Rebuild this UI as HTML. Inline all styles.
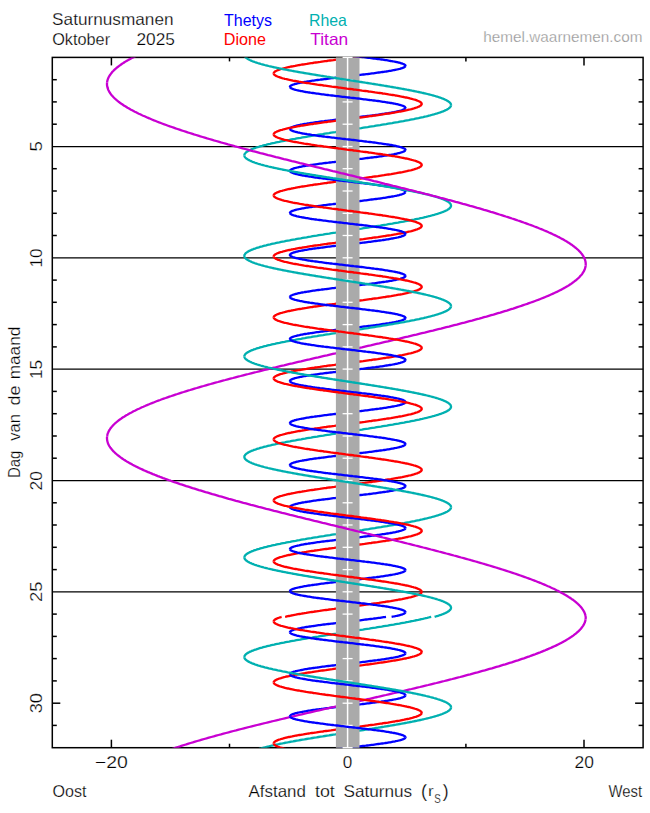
<!DOCTYPE html><html><head><meta charset="utf-8"><style>html,body{margin:0;padding:0;background:#fff;}svg{display:block;}</style></head><body><svg width="650" height="813" viewBox="0 0 650 813">
<defs><clipPath id="cp"><rect x="52.3" y="57.4" width="590.8" height="690.3"/></clipPath></defs>
<rect width="650" height="813" fill="#fff"/>
<g stroke="#000" stroke-width="1.5" fill="none">
<rect x="52.3" y="57.4" width="590.8" height="690.3"/>
<line stroke-width="1.25" x1="52.3" y1="146.5" x2="643.1" y2="146.5"/>
<line stroke-width="1.25" x1="52.3" y1="257.8" x2="643.1" y2="257.8"/>
<line stroke-width="1.25" x1="52.3" y1="369.1" x2="643.1" y2="369.1"/>
<line stroke-width="1.25" x1="52.3" y1="480.5" x2="643.1" y2="480.5"/>
<line stroke-width="1.25" x1="52.3" y1="591.8" x2="643.1" y2="591.8"/>
<line x1="52.3" y1="703.2" x2="60.3" y2="703.2"/>
<line x1="635.1" y1="703.2" x2="643.1" y2="703.2"/>
<line x1="52.3" y1="79.7" x2="56.8" y2="79.7"/>
<line x1="638.6" y1="79.7" x2="643.1" y2="79.7"/>
<line x1="52.3" y1="101.9" x2="56.8" y2="101.9"/>
<line x1="638.6" y1="101.9" x2="643.1" y2="101.9"/>
<line x1="52.3" y1="124.2" x2="56.8" y2="124.2"/>
<line x1="638.6" y1="124.2" x2="643.1" y2="124.2"/>
<line x1="52.3" y1="168.7" x2="56.8" y2="168.7"/>
<line x1="638.6" y1="168.7" x2="643.1" y2="168.7"/>
<line x1="52.3" y1="191.0" x2="56.8" y2="191.0"/>
<line x1="638.6" y1="191.0" x2="643.1" y2="191.0"/>
<line x1="52.3" y1="213.3" x2="56.8" y2="213.3"/>
<line x1="638.6" y1="213.3" x2="643.1" y2="213.3"/>
<line x1="52.3" y1="235.5" x2="56.8" y2="235.5"/>
<line x1="638.6" y1="235.5" x2="643.1" y2="235.5"/>
<line x1="52.3" y1="280.1" x2="56.8" y2="280.1"/>
<line x1="638.6" y1="280.1" x2="643.1" y2="280.1"/>
<line x1="52.3" y1="302.3" x2="56.8" y2="302.3"/>
<line x1="638.6" y1="302.3" x2="643.1" y2="302.3"/>
<line x1="52.3" y1="324.6" x2="56.8" y2="324.6"/>
<line x1="638.6" y1="324.6" x2="643.1" y2="324.6"/>
<line x1="52.3" y1="346.9" x2="56.8" y2="346.9"/>
<line x1="638.6" y1="346.9" x2="643.1" y2="346.9"/>
<line x1="52.3" y1="391.4" x2="56.8" y2="391.4"/>
<line x1="638.6" y1="391.4" x2="643.1" y2="391.4"/>
<line x1="52.3" y1="413.7" x2="56.8" y2="413.7"/>
<line x1="638.6" y1="413.7" x2="643.1" y2="413.7"/>
<line x1="52.3" y1="436.0" x2="56.8" y2="436.0"/>
<line x1="638.6" y1="436.0" x2="643.1" y2="436.0"/>
<line x1="52.3" y1="458.2" x2="56.8" y2="458.2"/>
<line x1="638.6" y1="458.2" x2="643.1" y2="458.2"/>
<line x1="52.3" y1="502.8" x2="56.8" y2="502.8"/>
<line x1="638.6" y1="502.8" x2="643.1" y2="502.8"/>
<line x1="52.3" y1="525.0" x2="56.8" y2="525.0"/>
<line x1="638.6" y1="525.0" x2="643.1" y2="525.0"/>
<line x1="52.3" y1="547.3" x2="56.8" y2="547.3"/>
<line x1="638.6" y1="547.3" x2="643.1" y2="547.3"/>
<line x1="52.3" y1="569.6" x2="56.8" y2="569.6"/>
<line x1="638.6" y1="569.6" x2="643.1" y2="569.6"/>
<line x1="52.3" y1="614.1" x2="56.8" y2="614.1"/>
<line x1="638.6" y1="614.1" x2="643.1" y2="614.1"/>
<line x1="52.3" y1="636.4" x2="56.8" y2="636.4"/>
<line x1="638.6" y1="636.4" x2="643.1" y2="636.4"/>
<line x1="52.3" y1="658.6" x2="56.8" y2="658.6"/>
<line x1="638.6" y1="658.6" x2="643.1" y2="658.6"/>
<line x1="52.3" y1="680.9" x2="56.8" y2="680.9"/>
<line x1="638.6" y1="680.9" x2="643.1" y2="680.9"/>
<line x1="52.3" y1="725.4" x2="56.8" y2="725.4"/>
<line x1="638.6" y1="725.4" x2="643.1" y2="725.4"/>
<line x1="111.4" y1="57.4" x2="111.4" y2="65.4"/>
<line x1="111.4" y1="739.7" x2="111.4" y2="747.7"/>
<line x1="229.5" y1="57.4" x2="229.5" y2="61.4"/>
<line x1="229.5" y1="743.7" x2="229.5" y2="747.7"/>
<line x1="347.7" y1="57.4" x2="347.7" y2="65.4"/>
<line x1="347.7" y1="739.7" x2="347.7" y2="747.7"/>
<line x1="465.9" y1="57.4" x2="465.9" y2="61.4"/>
<line x1="465.9" y1="743.7" x2="465.9" y2="747.7"/>
<line x1="584.0" y1="57.4" x2="584.0" y2="65.4"/>
<line x1="584.0" y1="739.7" x2="584.0" y2="747.7"/>
</g>
<g clip-path="url(#cp)" stroke-width="2.3" stroke-linejoin="round" stroke-linecap="butt">
<polyline fill="none" stroke="#0000ff" points="405.5,65.9 405.4,66.1 405.3,66.3 405.2,66.5 405.0,66.7 404.8,66.8 404.6,67.0 404.3,67.2 403.9,67.4 403.6,67.6 403.2,67.7 402.7,67.9 402.2,68.1 401.7,68.3 401.1,68.4 400.5,68.6 399.9,68.8 399.2,69.0 398.5,69.2 397.7,69.3 397.0,69.5 396.1,69.7 395.3,69.9 394.4,70.0 393.5,70.2 392.5,70.4 391.5,70.6 390.5,70.8 389.5,70.9 388.4,71.1 387.3,71.3 386.1,71.5 385.0,71.6 383.8,71.8 382.6,72.0 381.3,72.2 380.1,72.4 378.8,72.5 377.5,72.7 376.1,72.9 374.8,73.1 373.4,73.3 372.0,73.4 370.6,73.6 369.2,73.8 367.8,74.0 366.3,74.1 364.9,74.3 363.4,74.5 361.9,74.7 360.4,74.9 358.9,75.0 357.4,75.2 355.9,75.4 354.3,75.6 352.8,75.7 351.3,75.9 349.7,76.1 348.2,76.3 346.7,76.5 345.1,76.6 343.6,76.8 342.1,77.0 340.5,77.2 339.0,77.3 337.5,77.5 336.0,77.7 334.5,77.9 333.0,78.1 331.5,78.2 330.0,78.4 328.6,78.6 327.1,78.8 325.7,79.0 324.3,79.1 322.9,79.3 321.5,79.5 320.1,79.7 318.8,79.8 317.5,80.0 316.2,80.2 314.9,80.4 313.7,80.6 312.4,80.7 311.2,80.9 310.0,81.1 308.9,81.3 307.8,81.4 306.7,81.6 305.6,81.8 304.6,82.0 303.5,82.2 302.6,82.3 301.6,82.5 300.7,82.7 299.8,82.9 299.0,83.0 298.2,83.2 297.4,83.4 296.7,83.6 296.0,83.8 295.3,83.9 294.7,84.1 294.1,84.3 293.5,84.5 293.0,84.7 292.5,84.8 292.1,85.0 291.7,85.2 291.3,85.4 291.0,85.5 290.7,85.7 290.5,85.9 290.3,86.1 290.2,86.3 290.0,86.4 290.0,86.6 289.9,86.8 289.9,87.0"/>
<polyline fill="none" stroke="#0000ff" points="405.5,108.0 405.4,108.2 405.3,108.3 405.2,108.5 405.0,108.7 404.8,108.9 404.5,109.1 404.3,109.2 403.9,109.4 403.5,109.6 403.1,109.8 402.7,109.9 402.2,110.1 401.7,110.3 401.1,110.5 400.5,110.7 399.8,110.8 399.2,111.0 398.4,111.2 397.7,111.4 396.9,111.5 396.1,111.7 395.2,111.9 394.3,112.1 393.4,112.3 392.4,112.4 391.4,112.6 390.4,112.8 389.4,113.0 388.3,113.2 387.2,113.3 386.1,113.5 384.9,113.7 383.7,113.9 382.5,114.0 381.2,114.2 380.0,114.4 378.7,114.6 377.4,114.8 376.0,114.9 374.7,115.1 373.3,115.3 371.9,115.5 370.5,115.6 369.1,115.8 367.7,116.0 366.2,116.2 364.8,116.4 363.3,116.5 361.8,116.7 360.3,116.9 358.8,117.1 357.3,117.2 355.8,117.4 354.2,117.6 352.7,117.8 351.2,118.0 349.6,118.1 348.1,118.3 346.6,118.5 345.0,118.7 343.5,118.9 342.0,119.0 340.4,119.2 338.9,119.4 337.4,119.6 335.9,119.7 334.4,119.9 332.9,120.1 331.4,120.3 329.9,120.5 328.5,120.6 327.0,120.8 325.6,121.0 324.2,121.2 322.8,121.3 321.4,121.5 320.1,121.7 318.7,121.9 317.4,122.1 316.1,122.2 314.8,122.4 313.6,122.6 312.3,122.8 311.1,122.9 310.0,123.1 308.8,123.3 307.7,123.5 306.6,123.7 305.5,123.8 304.5,124.0 303.5,124.2 302.5,124.4 301.6,124.6 300.6,124.7 299.8,124.9 298.9,125.1 298.1,125.3 297.4,125.4 296.6,125.6 295.9,125.8 295.3,126.0 294.6,126.2 294.0,126.3 293.5,126.5 293.0,126.7 292.5,126.9 292.1,127.0 291.7,127.2 291.3,127.4 291.0,127.6 290.7,127.8 290.5,127.9 290.3,128.1 290.1,128.3 290.0,128.5 290.0,128.6 289.9,128.8 289.9,129.0"/>
<polyline fill="none" stroke="#0000ff" points="405.5,150.0 405.4,150.2 405.3,150.4 405.2,150.6 405.0,150.7 404.8,150.9 404.5,151.1 404.2,151.3 403.9,151.4 403.5,151.6 403.1,151.8 402.6,152.0 402.1,152.2 401.6,152.3 401.0,152.5 400.4,152.7 399.8,152.9 399.1,153.1 398.4,153.2 397.6,153.4 396.8,153.6 396.0,153.8 395.1,153.9 394.3,154.1 393.3,154.3 392.4,154.5 391.4,154.7 390.4,154.8 389.3,155.0 388.2,155.2 387.1,155.4 386.0,155.5 384.8,155.7 383.6,155.9 382.4,156.1 381.1,156.3 379.9,156.4 378.6,156.6 377.3,156.8 376.0,157.0 374.6,157.1 373.2,157.3 371.8,157.5 370.4,157.7 369.0,157.9 367.6,158.0 366.1,158.2 364.7,158.4 363.2,158.6 361.7,158.8 360.2,158.9 358.7,159.1 357.2,159.3 355.7,159.5 354.1,159.6 352.6,159.8 351.1,160.0 349.5,160.2 348.0,160.4 346.4,160.5 344.9,160.7 343.4,160.9 341.8,161.1 340.3,161.2 338.8,161.4 337.3,161.6 335.8,161.8 334.3,162.0 332.8,162.1 331.3,162.3 329.8,162.5 328.4,162.7 326.9,162.8 325.5,163.0 324.1,163.2 322.7,163.4 321.3,163.6 320.0,163.7 318.6,163.9 317.3,164.1 316.0,164.3 314.7,164.5 313.5,164.6 312.2,164.8 311.0,165.0 309.9,165.2 308.7,165.3 307.6,165.5 306.5,165.7 305.4,165.9 304.4,166.1 303.4,166.2 302.4,166.4 301.5,166.6 300.6,166.8 299.7,166.9 298.9,167.1 298.1,167.3 297.3,167.5 296.6,167.7 295.9,167.8 295.2,168.0 294.6,168.2 294.0,168.4 293.4,168.5 292.9,168.7 292.5,168.9 292.0,169.1 291.6,169.3 291.3,169.4 291.0,169.6 290.7,169.8 290.5,170.0 290.3,170.1 290.1,170.3 290.0,170.5 290.0,170.7 289.9,170.9 289.9,171.0"/>
<polyline fill="none" stroke="#0000ff" points="405.5,192.1 405.4,192.2 405.3,192.4 405.2,192.6 405.0,192.8 404.8,192.9 404.5,193.1 404.2,193.3 403.9,193.5 403.5,193.7 403.1,193.8 402.6,194.0 402.1,194.2 401.6,194.4 401.0,194.6 400.4,194.7 399.7,194.9 399.1,195.1 398.3,195.3 397.6,195.4 396.8,195.6 395.9,195.8 395.1,196.0 394.2,196.2 393.3,196.3 392.3,196.5 391.3,196.7 390.3,196.9 389.2,197.0 388.1,197.2 387.0,197.4 385.9,197.6 384.7,197.8 383.5,197.9 382.3,198.1 381.1,198.3 379.8,198.5 378.5,198.6 377.2,198.8 375.9,199.0 374.5,199.2 373.1,199.4 371.7,199.5 370.3,199.7 368.9,199.9 367.5,200.1 366.0,200.3 364.6,200.4 363.1,200.6 361.6,200.8 360.1,201.0 358.6,201.1 357.1,201.3 355.5,201.5 354.0,201.7 352.5,201.9 351.0,202.0 349.4,202.2 347.9,202.4 346.3,202.6 344.8,202.7 343.3,202.9 341.7,203.1 340.2,203.3 338.7,203.5 337.2,203.6 335.7,203.8 334.2,204.0 332.7,204.2 331.2,204.3 329.7,204.5 328.3,204.7 326.8,204.9 325.4,205.1 324.0,205.2 322.6,205.4 321.2,205.6 319.9,205.8 318.5,206.0 317.2,206.1 315.9,206.3 314.6,206.5 313.4,206.7 312.2,206.8 311.0,207.0 309.8,207.2 308.6,207.4 307.5,207.6 306.4,207.7 305.4,207.9 304.3,208.1 303.3,208.3 302.4,208.4 301.4,208.6 300.5,208.8 299.6,209.0 298.8,209.2 298.0,209.3 297.2,209.5 296.5,209.7 295.8,209.9 295.2,210.0 294.5,210.2 294.0,210.4 293.4,210.6 292.9,210.8 292.4,210.9 292.0,211.1 291.6,211.3 291.3,211.5 291.0,211.7 290.7,211.8 290.5,212.0 290.3,212.2 290.1,212.4 290.0,212.5 290.0,212.7 289.9,212.9 289.9,213.1"/>
<polyline fill="none" stroke="#0000ff" points="405.5,234.1 405.4,234.3 405.3,234.5 405.2,234.6 405.0,234.8 404.7,235.0 404.5,235.2 404.2,235.3 403.8,235.5 403.5,235.7 403.0,235.9 402.6,236.1 402.1,236.2 401.5,236.4 401.0,236.6 400.3,236.8 399.7,236.9 399.0,237.1 398.3,237.3 397.5,237.5 396.7,237.7 395.9,237.8 395.0,238.0 394.1,238.2 393.2,238.4 392.2,238.5 391.2,238.7 390.2,238.9 389.1,239.1 388.1,239.3 386.9,239.4 385.8,239.6 384.6,239.8 383.4,240.0 382.2,240.2 381.0,240.3 379.7,240.5 378.4,240.7 377.1,240.9 375.8,241.0 374.4,241.2 373.0,241.4 371.6,241.6 370.2,241.8 368.8,241.9 367.4,242.1 365.9,242.3 364.4,242.5 363.0,242.6 361.5,242.8 360.0,243.0 358.5,243.2 357.0,243.4 355.4,243.5 353.9,243.7 352.4,243.9 350.8,244.1 349.3,244.2 347.8,244.4 346.2,244.6 344.7,244.8 343.2,245.0 341.6,245.1 340.1,245.3 338.6,245.5 337.1,245.7 335.5,245.9 334.0,246.0 332.6,246.2 331.1,246.4 329.6,246.6 328.2,246.7 326.7,246.9 325.3,247.1 323.9,247.3 322.5,247.5 321.1,247.6 319.8,247.8 318.4,248.0 317.1,248.2 315.8,248.3 314.5,248.5 313.3,248.7 312.1,248.9 310.9,249.1 309.7,249.2 308.6,249.4 307.4,249.6 306.3,249.8 305.3,249.9 304.3,250.1 303.3,250.3 302.3,250.5 301.4,250.7 300.5,250.8 299.6,251.0 298.8,251.2 298.0,251.4 297.2,251.6 296.5,251.7 295.8,251.9 295.1,252.1 294.5,252.3 293.9,252.4 293.4,252.6 292.9,252.8 292.4,253.0 292.0,253.2 291.6,253.3 291.2,253.5 290.9,253.7 290.7,253.9 290.4,254.0 290.3,254.2 290.1,254.4 290.0,254.6 290.0,254.8 289.9,254.9 290.0,255.1"/>
<polyline fill="none" stroke="#0000ff" points="405.5,276.0 405.4,276.1 405.4,276.3 405.3,276.5 405.1,276.7 405.0,276.8 404.7,277.0 404.5,277.2 404.2,277.4 403.8,277.6 403.4,277.7 403.0,277.9 402.5,278.1 402.0,278.3 401.5,278.4 400.9,278.6 400.3,278.8 399.6,279.0 398.9,279.2 398.2,279.3 397.5,279.5 396.7,279.7 395.8,279.9 395.0,280.1 394.1,280.2 393.1,280.4 392.2,280.6 391.2,280.8 390.1,280.9 389.1,281.1 388.0,281.3 386.9,281.5 385.7,281.7 384.5,281.8 383.3,282.0 382.1,282.2 380.9,282.4 379.6,282.5 378.3,282.7 377.0,282.9 375.7,283.1 374.3,283.3 372.9,283.4 371.5,283.6 370.1,283.8 368.7,284.0 367.3,284.1 365.8,284.3 364.3,284.5 362.9,284.7 361.4,284.9 359.9,285.0 358.4,285.2 356.8,285.4 355.3,285.6 353.8,285.8 352.3,285.9 350.7,286.1 349.2,286.3 347.7,286.5 346.1,286.6 344.6,286.8 343.0,287.0 341.5,287.2 340.0,287.4 338.5,287.5 336.9,287.7 335.4,287.9 333.9,288.1 332.5,288.2 331.0,288.4 329.5,288.6 328.1,288.8 326.6,289.0 325.2,289.1 323.8,289.3 322.4,289.5 321.0,289.7 319.7,289.8 318.3,290.0 317.0,290.2 315.7,290.4 314.4,290.6 313.2,290.7 312.0,290.9 310.8,291.1 309.6,291.3 308.5,291.5 307.4,291.6 306.3,291.8 305.2,292.0 304.2,292.2 303.2,292.3 302.2,292.5 301.3,292.7 300.4,292.9 299.5,293.1 298.7,293.2 297.9,293.4 297.1,293.6 296.4,293.8 295.7,293.9 295.1,294.1 294.5,294.3 293.9,294.5 293.3,294.7 292.8,294.8 292.4,295.0 291.9,295.2 291.6,295.4 291.2,295.5 290.9,295.7 290.7,295.9 290.4,296.1 290.3,296.3 290.1,296.4 290.0,296.6 290.0,296.8 289.9,297.0"/>
<polyline fill="none" stroke="#0000ff" points="405.5,318.0 405.4,318.2 405.4,318.3 405.3,318.5 405.1,318.7 404.9,318.9 404.7,319.1 404.4,319.2 404.1,319.4 403.8,319.6 403.4,319.8 403.0,319.9 402.5,320.1 402.0,320.3 401.5,320.5 400.9,320.7 400.2,320.8 399.6,321.0 398.9,321.2 398.2,321.4 397.4,321.6 396.6,321.7 395.8,321.9 394.9,322.1 394.0,322.3 393.1,322.4 392.1,322.6 391.1,322.8 390.0,323.0 389.0,323.2 387.9,323.3 386.8,323.5 385.6,323.7 384.5,323.9 383.3,324.0 382.0,324.2 380.8,324.4 379.5,324.6 378.2,324.8 376.9,324.9 375.6,325.1 374.2,325.3 372.8,325.5 371.4,325.6 370.0,325.8 368.6,326.0 367.2,326.2 365.7,326.4 364.2,326.5 362.8,326.7 361.3,326.9 359.8,327.1 358.3,327.3 356.7,327.4 355.2,327.6 353.7,327.8 352.2,328.0 350.6,328.1 349.1,328.3 347.5,328.5 346.0,328.7 344.5,328.9 342.9,329.0 341.4,329.2 339.9,329.4 338.4,329.6 336.8,329.7 335.3,329.9 333.8,330.1 332.3,330.3 330.9,330.5 329.4,330.6 327.9,330.8 326.5,331.0 325.1,331.2 323.7,331.3 322.3,331.5 320.9,331.7 319.6,331.9 318.2,332.1 316.9,332.2 315.6,332.4 314.4,332.6 313.1,332.8 311.9,333.0 310.7,333.1 309.5,333.3 308.4,333.5 307.3,333.7 306.2,333.8 305.1,334.0 304.1,334.2 303.1,334.4 302.2,334.6 301.2,334.7 300.3,334.9 299.5,335.1 298.6,335.3 297.8,335.4 297.1,335.6 296.4,335.8 295.7,336.0 295.0,336.2 294.4,336.3 293.8,336.5 293.3,336.7 292.8,336.9 292.3,337.0 291.9,337.2 291.5,337.4 291.2,337.6 290.9,337.8 290.6,337.9 290.4,338.1 290.2,338.3 290.1,338.5 290.0,338.7 289.9,338.8 289.9,339.0"/>
<polyline fill="none" stroke="#0000ff" points="405.5,360.0 405.4,360.2 405.4,360.4 405.3,360.6 405.1,360.7 404.9,360.9 404.7,361.1 404.4,361.3 404.1,361.5 403.8,361.6 403.4,361.8 402.9,362.0 402.5,362.2 402.0,362.3 401.4,362.5 400.8,362.7 400.2,362.9 399.5,363.1 398.8,363.2 398.1,363.4 397.3,363.6 396.5,363.8 395.7,363.9 394.8,364.1 393.9,364.3 393.0,364.5 392.0,364.7 391.0,364.8 390.0,365.0 388.9,365.2 387.8,365.4 386.7,365.5 385.5,365.7 384.4,365.9 383.2,366.1 381.9,366.3 380.7,366.4 379.4,366.6 378.1,366.8 376.8,367.0 375.5,367.2 374.1,367.3 372.7,367.5 371.3,367.7 369.9,367.9 368.5,368.0 367.1,368.2 365.6,368.4 364.1,368.6 362.6,368.8 361.2,368.9 359.7,369.1 358.1,369.3 356.6,369.5 355.1,369.6 353.6,369.8 352.0,370.0 350.5,370.2 349.0,370.4 347.4,370.5 345.9,370.7 344.4,370.9 342.8,371.1 341.3,371.2 339.8,371.4 338.2,371.6 336.7,371.8 335.2,372.0 333.7,372.1 332.2,372.3 330.8,372.5 329.3,372.7 327.8,372.9 326.4,373.0 325.0,373.2 323.6,373.4 322.2,373.6 320.8,373.7 319.5,373.9 318.1,374.1 316.8,374.3 315.5,374.5 314.3,374.6 313.0,374.8 311.8,375.0 310.6,375.2 309.4,375.3 308.3,375.5 307.2,375.7 306.1,375.9 305.1,376.1 304.0,376.2 303.0,376.4 302.1,376.6 301.2,376.8 300.3,376.9 299.4,377.1 298.6,377.3 297.8,377.5 297.0,377.7 296.3,377.8 295.6,378.0 295.0,378.2 294.4,378.4 293.8,378.6 293.3,378.7 292.8,378.9 292.3,379.1 291.9,379.3 291.5,379.4 291.2,379.6 290.9,379.8 290.6,380.0 290.4,380.2 290.2,380.3 290.1,380.5 290.0,380.7 289.9,380.9 289.9,381.0"/>
<polyline fill="none" stroke="#0000ff" points="405.5,402.1 405.4,402.2 405.4,402.4 405.3,402.6 405.1,402.8 404.9,403.0 404.7,403.1 404.4,403.3 404.1,403.5 403.7,403.7 403.3,403.8 402.9,404.0 402.4,404.2 401.9,404.4 401.4,404.6 400.8,404.7 400.2,404.9 399.5,405.1 398.8,405.3 398.1,405.4 397.3,405.6 396.5,405.8 395.6,406.0 394.8,406.2 393.9,406.3 392.9,406.5 391.9,406.7 390.9,406.9 389.9,407.1 388.8,407.2 387.7,407.4 386.6,407.6 385.5,407.8 384.3,407.9 383.1,408.1 381.9,408.3 380.6,408.5 379.3,408.7 378.0,408.8 376.7,409.0 375.4,409.2 374.0,409.4 372.6,409.5 371.2,409.7 369.8,409.9 368.4,410.1 366.9,410.3 365.5,410.4 364.0,410.6 362.5,410.8 361.0,411.0 359.5,411.1 358.0,411.3 356.5,411.5 355.0,411.7 353.5,411.9 351.9,412.0 350.4,412.2 348.9,412.4 347.3,412.6 345.8,412.8 344.2,412.9 342.7,413.1 341.2,413.3 339.7,413.5 338.1,413.6 336.6,413.8 335.1,414.0 333.6,414.2 332.1,414.4 330.7,414.5 329.2,414.7 327.7,414.9 326.3,415.1 324.9,415.2 323.5,415.4 322.1,415.6 320.7,415.8 319.4,416.0 318.0,416.1 316.7,416.3 315.4,416.5 314.2,416.7 312.9,416.8 311.7,417.0 310.5,417.2 309.4,417.4 308.2,417.6 307.1,417.7 306.0,417.9 305.0,418.1 304.0,418.3 303.0,418.5 302.0,418.6 301.1,418.8 300.2,419.0 299.3,419.2 298.5,419.3 297.7,419.5 297.0,419.7 296.3,419.9 295.6,420.1 294.9,420.2 294.3,420.4 293.8,420.6 293.2,420.8 292.7,420.9 292.3,421.1 291.9,421.3 291.5,421.5 291.2,421.7 290.9,421.8 290.6,422.0 290.4,422.2 290.2,422.4 290.1,422.5 290.0,422.7 289.9,422.9 289.9,423.1"/>
<polyline fill="none" stroke="#0000ff" points="405.5,444.1 405.4,444.3 405.4,444.5 405.2,444.6 405.1,444.8 404.9,445.0 404.7,445.2 404.4,445.3 404.1,445.5 403.7,445.7 403.3,445.9 402.9,446.1 402.4,446.2 401.9,446.4 401.3,446.6 400.7,446.8 400.1,446.9 399.4,447.1 398.7,447.3 398.0,447.5 397.2,447.7 396.4,447.8 395.6,448.0 394.7,448.2 393.8,448.4 392.8,448.6 391.9,448.7 390.9,448.9 389.8,449.1 388.8,449.3 387.7,449.4 386.5,449.6 385.4,449.8 384.2,450.0 383.0,450.2 381.8,450.3 380.5,450.5 379.2,450.7 377.9,450.9 376.6,451.0 375.3,451.2 373.9,451.4 372.5,451.6 371.1,451.8 369.7,451.9 368.3,452.1 366.8,452.3 365.4,452.5 363.9,452.6 362.4,452.8 360.9,453.0 359.4,453.2 357.9,453.4 356.4,453.5 354.9,453.7 353.4,453.9 351.8,454.1 350.3,454.3 348.7,454.4 347.2,454.6 345.7,454.8 344.1,455.0 342.6,455.1 341.1,455.3 339.5,455.5 338.0,455.7 336.5,455.9 335.0,456.0 333.5,456.2 332.0,456.4 330.5,456.6 329.1,456.7 327.6,456.9 326.2,457.1 324.8,457.3 323.4,457.5 322.0,457.6 320.6,457.8 319.3,458.0 317.9,458.2 316.6,458.3 315.3,458.5 314.1,458.7 312.8,458.9 311.6,459.1 310.4,459.2 309.3,459.4 308.1,459.6 307.0,459.8 306.0,460.0 304.9,460.1 303.9,460.3 302.9,460.5 302.0,460.7 301.0,460.8 300.1,461.0 299.3,461.2 298.5,461.4 297.7,461.6 296.9,461.7 296.2,461.9 295.5,462.1 294.9,462.3 294.3,462.4 293.7,462.6 293.2,462.8 292.7,463.0 292.2,463.2 291.8,463.3 291.5,463.5 291.1,463.7 290.8,463.9 290.6,464.0 290.4,464.2 290.2,464.4 290.1,464.6 290.0,464.8 289.9,464.9 289.9,465.1"/>
<polyline fill="none" stroke="#0000ff" points="405.5,486.1 405.4,486.3 405.4,486.5 405.2,486.7 405.1,486.8 404.9,487.0 404.6,487.2 404.4,487.4 404.0,487.6 403.7,487.7 403.3,487.9 402.8,488.1 402.4,488.3 401.8,488.5 401.3,488.6 400.7,488.8 400.1,489.0 399.4,489.2 398.7,489.3 397.9,489.5 397.2,489.7 396.4,489.9 395.5,490.1 394.6,490.2 393.7,490.4 392.8,490.6 391.8,490.8 390.8,490.9 389.7,491.1 388.7,491.3 387.6,491.5 386.5,491.7 385.3,491.8 384.1,492.0 382.9,492.2 381.7,492.4 380.4,492.5 379.1,492.7 377.8,492.9 376.5,493.1 375.2,493.3 373.8,493.4 372.4,493.6 371.0,493.8 369.6,494.0 368.2,494.2 366.7,494.3 365.3,494.5 363.8,494.7 362.3,494.9 360.8,495.0 359.3,495.2 357.8,495.4 356.3,495.6 354.8,495.8 353.2,495.9 351.7,496.1 350.2,496.3 348.6,496.5 347.1,496.6 345.6,496.8 344.0,497.0 342.5,497.2 341.0,497.4 339.4,497.5 337.9,497.7 336.4,497.9 334.9,498.1 333.4,498.2 331.9,498.4 330.4,498.6 329.0,498.8 327.5,499.0 326.1,499.1 324.7,499.3 323.3,499.5 321.9,499.7 320.5,499.9 319.2,500.0 317.8,500.2 316.5,500.4 315.3,500.6 314.0,500.7 312.8,500.9 311.5,501.1 310.4,501.3 309.2,501.5 308.1,501.6 307.0,501.8 305.9,502.0 304.8,502.2 303.8,502.3 302.8,502.5 301.9,502.7 301.0,502.9 300.1,503.1 299.2,503.2 298.4,503.4 297.6,503.6 296.9,503.8 296.2,503.9 295.5,504.1 294.8,504.3 294.2,504.5 293.7,504.7 293.1,504.8 292.7,505.0 292.2,505.2 291.8,505.4 291.4,505.6 291.1,505.7 290.8,505.9 290.6,506.1 290.4,506.3 290.2,506.4 290.1,506.6 290.0,506.8 289.9,507.0 289.9,507.2"/>
<polyline fill="none" stroke="#0000ff" points="405.5,528.2 405.4,528.4 405.3,528.5 405.2,528.7 405.1,528.9 404.9,529.1 404.6,529.2 404.3,529.4 404.0,529.6 403.7,529.8 403.2,530.0 402.8,530.1 402.3,530.3 401.8,530.5 401.2,530.7 400.6,530.8 400.0,531.0 399.3,531.2 398.6,531.4 397.9,531.6 397.1,531.7 396.3,531.9 395.5,532.1 394.6,532.3 393.7,532.4 392.7,532.6 391.7,532.8 390.7,533.0 389.7,533.2 388.6,533.3 387.5,533.5 386.4,533.7 385.2,533.9 384.0,534.1 382.8,534.2 381.6,534.4 380.3,534.6 379.0,534.8 377.7,534.9 376.4,535.1 375.1,535.3 373.7,535.5 372.3,535.7 370.9,535.8 369.5,536.0 368.1,536.2 366.6,536.4 365.2,536.5 363.7,536.7 362.2,536.9 360.7,537.1 359.2,537.3 357.7,537.4 356.2,537.6 354.7,537.8 353.1,538.0 351.6,538.1 350.1,538.3 348.5,538.5 347.0,538.7 345.4,538.9 343.9,539.0 342.4,539.2 340.8,539.4 339.3,539.6 337.8,539.8 336.3,539.9 334.8,540.1 333.3,540.3 331.8,540.5 330.3,540.6 328.9,540.8 327.4,541.0 326.0,541.2 324.6,541.4 323.2,541.5 321.8,541.7 320.4,541.9 319.1,542.1 317.8,542.2 316.4,542.4 315.2,542.6 313.9,542.8 312.7,543.0 311.5,543.1 310.3,543.3 309.1,543.5 308.0,543.7 306.9,543.8 305.8,544.0 304.8,544.2 303.7,544.4 302.8,544.6 301.8,544.7 300.9,544.9 300.0,545.1 299.2,545.3 298.3,545.5 297.6,545.6 296.8,545.8 296.1,546.0 295.4,546.2 294.8,546.3 294.2,546.5 293.6,546.7 293.1,546.9 292.6,547.1 292.2,547.2 291.8,547.4 291.4,547.6 291.1,547.8 290.8,547.9 290.6,548.1 290.3,548.3 290.2,548.5 290.1,548.7 290.0,548.8 289.9,549.0 289.9,549.2"/>
<polyline fill="none" stroke="#0000ff" points="405.5,570.2 405.4,570.4 405.3,570.6 405.2,570.7 405.1,570.9 404.8,571.1 404.6,571.3 404.3,571.5 404.0,571.6 403.6,571.8 403.2,572.0 402.8,572.2 402.3,572.3 401.8,572.5 401.2,572.7 400.6,572.9 400.0,573.1 399.3,573.2 398.6,573.4 397.8,573.6 397.1,573.8 396.2,573.9 395.4,574.1 394.5,574.3 393.6,574.5 392.6,574.7 391.7,574.8 390.6,575.0 389.6,575.2 388.5,575.4 387.4,575.6 386.3,575.7 385.1,575.9 383.9,576.1 382.7,576.3 381.5,576.4 380.2,576.6 379.0,576.8 377.6,577.0 376.3,577.2 375.0,577.3 373.6,577.5 372.2,577.7 370.8,577.9 369.4,578.0 368.0,578.2 366.5,578.4 365.1,578.6 363.6,578.8 362.1,578.9 360.6,579.1 359.1,579.3 357.6,579.5 356.1,579.6 354.6,579.8 353.0,580.0 351.5,580.2 350.0,580.4 348.4,580.5 346.9,580.7 345.3,580.9 343.8,581.1 342.3,581.3 340.7,581.4 339.2,581.6 337.7,581.8 336.2,582.0 334.7,582.1 333.2,582.3 331.7,582.5 330.2,582.7 328.8,582.9 327.3,583.0 325.9,583.2 324.5,583.4 323.1,583.6 321.7,583.7 320.3,583.9 319.0,584.1 317.7,584.3 316.4,584.5 315.1,584.6 313.8,584.8 312.6,585.0 311.4,585.2 310.2,585.3 309.0,585.5 307.9,585.7 306.8,585.9 305.7,586.1 304.7,586.2 303.7,586.4 302.7,586.6 301.7,586.8 300.8,587.0 299.9,587.1 299.1,587.3 298.3,587.5 297.5,587.7 296.8,587.8 296.1,588.0 295.4,588.2 294.8,588.4 294.2,588.6 293.6,588.7 293.1,588.9 292.6,589.1 292.2,589.3 291.7,589.4 291.4,589.6 291.1,589.8 290.8,590.0 290.5,590.2 290.3,590.3 290.2,590.5 290.1,590.7 290.0,590.9 289.9,591.0 289.9,591.2"/>
<polyline fill="none" stroke="#0000ff" points="405.5,612.2 405.4,612.4 405.3,612.6 405.2,612.8 405.0,613.0 404.8,613.1 404.6,613.3 404.3,613.5 404.0,613.7 403.6,613.8 403.2,614.0 402.7,614.2 402.3,614.4 401.7,614.6 401.2,614.7 400.6,614.9 399.9,615.1 399.2,615.3 398.5,615.5 397.8,615.6 397.0,615.8 396.2,616.0 395.3,616.2 394.4,616.3 393.5,616.5 392.6,616.7 391.6,616.9"/>
<polyline fill="none" stroke="#0000ff" points="386.0,616.9 384.8,617.1 383.6,617.2 382.4,617.4 381.1,617.6 379.9,617.8 378.6,617.9 377.3,618.1 375.9,618.3 374.6,618.5 373.2,618.7 371.8,618.8 370.4,619.0 369.0,619.2 367.6,619.4 366.1,619.5 364.7,619.7 363.2,619.9 361.7,620.1 360.2,620.3 358.7,620.4 357.2,620.6 355.6,620.8 354.1,621.0 352.6,621.2 351.1,621.3 349.5,621.5 348.0,621.7 346.4,621.9 344.9,622.0 343.4,622.2 341.8,622.4 340.3,622.6 338.8,622.8 337.3,622.9 335.8,623.1 334.3,623.3 332.8,623.5 331.3,623.6 329.8,623.8 328.4,624.0 326.9,624.2 325.5,624.4 324.1,624.5 322.7,624.7 321.3,624.9 319.9,625.1 318.6,625.2 317.3,625.4 316.0,625.6 314.7,625.8 313.5,626.0 312.2,626.1 311.0,626.3 309.9,626.5 308.7,626.7 307.6,626.9 306.5,627.0 305.4,627.2 304.4,627.4 303.4,627.6 302.4,627.7 301.5,627.9 300.6,628.1 299.7,628.3 298.9,628.5 298.1,628.6 297.3,628.8 296.6,629.0 295.9,629.2 295.2,629.3 294.6,629.5 294.0,629.7 293.4,629.9 292.9,630.1 292.5,630.2 292.0,630.4 291.6,630.6 291.3,630.8 291.0,630.9 290.7,631.1 290.5,631.3 290.3,631.5 290.1,631.7 290.0,631.8 290.0,632.0 289.9,632.2 289.9,632.4"/>
<polyline fill="none" stroke="#0000ff" points="405.5,653.4 405.4,653.6 405.3,653.7 405.2,653.9 405.0,654.1 404.8,654.3 404.5,654.5 404.2,654.6 403.9,654.8 403.5,655.0 403.1,655.2 402.6,655.3 402.1,655.5 401.6,655.7 401.0,655.9 400.4,656.1 399.7,656.2 399.1,656.4 398.3,656.6 397.6,656.8 396.8,657.0 396.0,657.1 395.1,657.3 394.2,657.5 393.3,657.7 392.3,657.8 391.3,658.0 390.3,658.2 389.2,658.4 388.1,658.6 387.0,658.7 385.9,658.9 384.7,659.1 383.5,659.3 382.3,659.4 381.1,659.6 379.8,659.8 378.5,660.0 377.2,660.2 375.9,660.3 374.5,660.5 373.1,660.7 371.7,660.9 370.3,661.0 368.9,661.2 367.5,661.4 366.0,661.6 364.6,661.8 363.1,661.9 361.6,662.1 360.1,662.3 358.6,662.5 357.1,662.7 355.6,662.8 354.0,663.0 352.5,663.2 351.0,663.4 349.4,663.5 347.9,663.7 346.3,663.9 344.8,664.1 343.3,664.3 341.7,664.4 340.2,664.6 338.7,664.8 337.2,665.0 335.7,665.1 334.2,665.3 332.7,665.5 331.2,665.7 329.7,665.9 328.3,666.0 326.8,666.2 325.4,666.4 324.0,666.6 322.6,666.7 321.2,666.9 319.9,667.1 318.5,667.3 317.2,667.5 315.9,667.6 314.6,667.8 313.4,668.0 312.2,668.2 311.0,668.4 309.8,668.5 308.6,668.7 307.5,668.9 306.4,669.1 305.4,669.2 304.3,669.4 303.3,669.6 302.4,669.8 301.4,670.0 300.5,670.1 299.7,670.3 298.8,670.5 298.0,670.7 297.2,670.8 296.5,671.0 295.8,671.2 295.2,671.4 294.5,671.6 294.0,671.7 293.4,671.9 292.9,672.1 292.4,672.3 292.0,672.4 291.6,672.6 291.3,672.8 291.0,673.0 290.7,673.2 290.5,673.3 290.3,673.5 290.1,673.7 290.0,673.9 290.0,674.1 289.9,674.2 289.9,674.4"/>
<polyline fill="none" stroke="#0000ff" points="405.5,695.4 405.4,695.6 405.3,695.8 405.2,696.0 405.0,696.1 404.8,696.3 404.5,696.5 404.2,696.7 403.8,696.8 403.5,697.0 403.0,697.2 402.6,697.4 402.1,697.6 401.5,697.7 401.0,697.9 400.4,698.1 399.7,698.3 399.0,698.5 398.3,698.6 397.5,698.8 396.7,699.0 395.9,699.2 395.0,699.3 394.1,699.5 393.2,699.7 392.2,699.9 391.2,700.1 390.2,700.2 389.2,700.4 388.1,700.6 387.0,700.8 385.8,700.9 384.6,701.1 383.5,701.3 382.2,701.5 381.0,701.7 379.7,701.8 378.4,702.0 377.1,702.2 375.8,702.4 374.4,702.5 373.1,702.7 371.7,702.9 370.3,703.1 368.8,703.3 367.4,703.4 365.9,703.6 364.5,703.8 363.0,704.0 361.5,704.2 360.0,704.3 358.5,704.5 357.0,704.7 355.5,704.9 353.9,705.0 352.4,705.2 350.9,705.4 349.3,705.6 347.8,705.8 346.3,705.9 344.7,706.1 343.2,706.3 341.6,706.5 340.1,706.6 338.6,706.8 337.1,707.0 335.6,707.2 334.1,707.4 332.6,707.5 331.1,707.7 329.6,707.9 328.2,708.1 326.7,708.2 325.3,708.4 323.9,708.6 322.5,708.8 321.1,709.0 319.8,709.1 318.4,709.3 317.1,709.5 315.8,709.7 314.6,709.9 313.3,710.0 312.1,710.2 310.9,710.4 309.7,710.6 308.6,710.7 307.5,710.9 306.4,711.1 305.3,711.3 304.3,711.5 303.3,711.6 302.3,711.8 301.4,712.0 300.5,712.2 299.6,712.3 298.8,712.5 298.0,712.7 297.2,712.9 296.5,713.1 295.8,713.2 295.1,713.4 294.5,713.6 293.9,713.8 293.4,713.9 292.9,714.1 292.4,714.3 292.0,714.5 291.6,714.7 291.3,714.8 290.9,715.0 290.7,715.2 290.5,715.4 290.3,715.6 290.1,715.7 290.0,715.9 290.0,716.1 289.9,716.3 290.0,716.4"/>
<polyline fill="none" stroke="#0000ff" points="405.4,737.5 405.4,737.6 405.3,737.8 405.1,738.0 405.0,738.2 404.7,738.4 404.5,738.5 404.2,738.7 403.8,738.9 403.4,739.1 403.0,739.2 402.6,739.4 402.0,739.6 401.5,739.8 400.9,740.0 400.3,740.1 399.7,740.3 399.0,740.5 398.2,740.7 397.5,740.8 396.7,741.0 395.8,741.2 395.0,741.4 394.1,741.6 393.1,741.7 392.2,741.9 391.2,742.1 390.2,742.3 389.1,742.4 388.0,742.6 386.9,742.8 385.7,743.0 384.6,743.2 383.4,743.3 382.2,743.5 380.9,743.7 379.6,743.9 378.3,744.0 377.0,744.2 375.7,744.4 374.3,744.6 373.0,744.8 371.6,744.9 370.2,745.1 368.7,745.3 367.3,745.5 365.8,745.7 364.4,745.8 362.9,746.0 361.4,746.2 359.9,746.4 358.4,746.5 356.9,746.7 355.4,746.9 353.8,747.1 352.3,747.3 350.8,747.4 349.2,747.6 347.7,747.8 346.2,748.0 344.6,748.1 343.1,748.3 341.6,748.5 340.0,748.7 338.5,748.9 337.0,749.0 335.5,749.2 334.0,749.4 332.5,749.6 331.0,749.7 329.5,749.9 328.1,750.1 326.7,750.3 325.2,750.5 323.8,750.6 322.4,750.8 321.1,751.0 319.7,751.2 318.4,751.4 317.0,751.5 315.8,751.7 314.5,751.9 313.2,752.1 312.0,752.2 310.8,752.4 309.6,752.6 308.5,752.8 307.4,753.0 306.3,753.1 305.2,753.3 304.2,753.5 303.2,753.7 302.3,753.8 301.3,754.0 300.4,754.2 299.6,754.4"/>
<polyline fill="none" stroke="#ff0000" points="385.7,52.9 384.2,53.2 382.7,53.4 381.2,53.6 379.7,53.8 378.1,54.1 376.6,54.3 375.0,54.5 373.4,54.7 371.8,55.0 370.2,55.2 368.6,55.4 367.0,55.6 365.3,55.8 363.7,56.1 362.0,56.3 360.3,56.5 358.7,56.7 357.0,57.0 355.3,57.2 353.6,57.4 351.9,57.6 350.2,57.8 348.5,58.1 346.8,58.3 345.1,58.5 343.4,58.7 341.8,59.0 340.1,59.2 338.4,59.4 336.7,59.6 335.0,59.8 333.4,60.1 331.7,60.3 330.0,60.5 328.4,60.7 326.8,61.0 325.1,61.2 323.5,61.4 321.9,61.6 320.3,61.9 318.8,62.1 317.2,62.3 315.7,62.5 314.2,62.7 312.7,63.0 311.2,63.2 309.7,63.4 308.3,63.6 306.8,63.9 305.4,64.1 304.1,64.3 302.7,64.5 301.4,64.7 300.0,65.0 298.8,65.2 297.5,65.4 296.3,65.6 295.1,65.9 293.9,66.1 292.7,66.3 291.6,66.5 290.5,66.7 289.5,67.0 288.4,67.2 287.4,67.4 286.5,67.6 285.5,67.9 284.6,68.1 283.7,68.3 282.9,68.5 282.1,68.8 281.3,69.0 280.6,69.2 279.9,69.4 279.2,69.6 278.6,69.9 278.0,70.1 277.5,70.3 277.0,70.5 276.5,70.8 276.0,71.0 275.6,71.2 275.3,71.4 274.9,71.6 274.7,71.9 274.4,72.1 274.2,72.3 274.0,72.5 273.9,72.8 273.8,73.0 273.7,73.2 273.7,73.4"/>
<polyline fill="none" stroke="#ff0000" points="421.7,103.9 421.7,104.2 421.6,104.4 421.5,104.6 421.4,104.8 421.2,105.0 421.0,105.3 420.7,105.5 420.4,105.7 420.1,105.9 419.7,106.2 419.3,106.4 418.9,106.6 418.4,106.8 417.9,107.0 417.3,107.3 416.7,107.5 416.1,107.7 415.4,107.9 414.7,108.2 414.0,108.4 413.2,108.6 412.4,108.8 411.6,109.1 410.7,109.3 409.8,109.5 408.9,109.7 407.9,109.9 406.9,110.2 405.9,110.4 404.8,110.6 403.7,110.8 402.6,111.1 401.4,111.3 400.3,111.5 399.0,111.7 397.8,111.9 396.5,112.2 395.3,112.4 393.9,112.6 392.6,112.8 391.2,113.1 389.9,113.3 388.5,113.5 387.0,113.7 385.6,113.9 384.1,114.2 382.6,114.4 381.1,114.6 379.6,114.8 378.1,115.1 376.5,115.3 374.9,115.5 373.4,115.7 371.8,116.0 370.1,116.2 368.5,116.4 366.9,116.6 365.2,116.8 363.6,117.1 361.9,117.3 360.3,117.5 358.6,117.7 356.9,118.0 355.2,118.2 353.5,118.4 351.8,118.6 350.1,118.8 348.4,119.1 346.7,119.3 345.0,119.5 343.4,119.7 341.7,120.0 340.0,120.2 338.3,120.4 336.6,120.6 334.9,120.8 333.3,121.1 331.6,121.3 329.9,121.5 328.3,121.7 326.7,122.0 325.1,122.2 323.4,122.4 321.8,122.6 320.3,122.9 318.7,123.1 317.1,123.3 315.6,123.5 314.1,123.7 312.6,124.0 311.1,124.2 309.6,124.4 308.2,124.6 306.8,124.9 305.4,125.1 304.0,125.3 302.6,125.5 301.3,125.7 300.0,126.0 298.7,126.2 297.4,126.4 296.2,126.6 295.0,126.9 293.8,127.1 292.7,127.3 291.6,127.5 290.5,127.8 289.4,128.0 288.4,128.2 287.4,128.4 286.4,128.6 285.5,128.9 284.6,129.1 283.7,129.3 282.9,129.5 282.1,129.8 281.3,130.0 280.6,130.2 279.9,130.4 279.2,130.6 278.6,130.9 278.0,131.1 277.4,131.3 276.9,131.5 276.5,131.8 276.0,132.0 275.6,132.2 275.3,132.4 274.9,132.6 274.6,132.9 274.4,133.1 274.2,133.3 274.0,133.5 273.9,133.8 273.8,134.0 273.7,134.2 273.7,134.4"/>
<polyline fill="none" stroke="#ff0000" points="421.7,164.9 421.7,165.2 421.6,165.4 421.5,165.6 421.4,165.8 421.2,166.0 421.0,166.3 420.7,166.5 420.4,166.7 420.1,166.9 419.7,167.2 419.3,167.4 418.9,167.6 418.4,167.8 417.9,168.0 417.3,168.3 416.7,168.5 416.1,168.7 415.4,168.9 414.7,169.2 414.0,169.4 413.2,169.6 412.4,169.8 411.5,170.1 410.7,170.3 409.8,170.5 408.8,170.7 407.8,170.9 406.8,171.2 405.8,171.4 404.7,171.6 403.6,171.8 402.5,172.1 401.4,172.3 400.2,172.5 399.0,172.7 397.7,172.9 396.5,173.2 395.2,173.4 393.9,173.6 392.5,173.8 391.2,174.1 389.8,174.3 388.4,174.5 387.0,174.7 385.5,174.9 384.0,175.2 382.5,175.4 381.0,175.6 379.5,175.8 378.0,176.1 376.4,176.3 374.9,176.5 373.3,176.7 371.7,177.0 370.1,177.2 368.4,177.4 366.8,177.6 365.2,177.8 363.5,178.1 361.8,178.3 360.2,178.5 358.5,178.7 356.8,179.0 355.1,179.2 353.4,179.4 351.7,179.6 350.0,179.8 348.3,180.1 346.7,180.3 345.0,180.5 343.3,180.7 341.6,181.0 339.9,181.2 338.2,181.4 336.5,181.6 334.8,181.9 333.2,182.1 331.5,182.3 329.9,182.5 328.2,182.7 326.6,183.0 325.0,183.2 323.4,183.4 321.8,183.6 320.2,183.9 318.6,184.1 317.1,184.3 315.5,184.5 314.0,184.7 312.5,185.0 311.0,185.2 309.6,185.4 308.1,185.6 306.7,185.9 305.3,186.1 303.9,186.3 302.5,186.5 301.2,186.7 299.9,187.0 298.6,187.2 297.4,187.4 296.1,187.6 294.9,187.9 293.8,188.1 292.6,188.3 291.5,188.5 290.4,188.8 289.3,189.0 288.3,189.2 287.3,189.4 286.4,189.6 285.4,189.9 284.5,190.1 283.7,190.3 282.8,190.5 282.0,190.8 281.3,191.0 280.5,191.2 279.8,191.4 279.2,191.6 278.6,191.9 278.0,192.1 277.4,192.3 276.9,192.5 276.4,192.8 276.0,193.0 275.6,193.2 275.2,193.4 274.9,193.7 274.6,193.9 274.4,194.1 274.2,194.3 274.0,194.5 273.9,194.8 273.8,195.0 273.7,195.2 273.7,195.4"/>
<polyline fill="none" stroke="#ff0000" points="421.7,225.9 421.7,226.2 421.6,226.4 421.5,226.6 421.4,226.8 421.2,227.0 421.0,227.3 420.7,227.5 420.4,227.7 420.1,227.9 419.7,228.2 419.3,228.4 418.8,228.6 418.3,228.8 417.8,229.0 417.3,229.3 416.7,229.5 416.0,229.7 415.4,229.9 414.7,230.2 413.9,230.4 413.1,230.6 412.3,230.8 411.5,231.1 410.6,231.3 409.7,231.5 408.8,231.7 407.8,231.9 406.8,232.2 405.8,232.4 404.7,232.6 403.6,232.8 402.5,233.1 401.3,233.3 400.1,233.5 398.9,233.7 397.7,233.9 396.4,234.2 395.1,234.4 393.8,234.6 392.5,234.8 391.1,235.1 389.7,235.3 388.3,235.5 386.9,235.7 385.4,236.0 384.0,236.2 382.5,236.4 381.0,236.6 379.4,236.8 377.9,237.1 376.3,237.3 374.8,237.5 373.2,237.7 371.6,238.0 370.0,238.2 368.3,238.4 366.7,238.6 365.1,238.8 363.4,239.1 361.7,239.3 360.1,239.5 358.4,239.7 356.7,240.0 355.0,240.2 353.3,240.4 351.6,240.6 350.0,240.8 348.3,241.1 346.6,241.3 344.9,241.5 343.2,241.7 341.5,242.0 339.8,242.2 338.1,242.4 336.4,242.6 334.7,242.9 333.1,243.1 331.4,243.3 329.8,243.5 328.1,243.7 326.5,244.0 324.9,244.2 323.3,244.4 321.7,244.6 320.1,244.9 318.5,245.1 317.0,245.3 315.4,245.5 313.9,245.7 312.4,246.0 310.9,246.2 309.5,246.4 308.0,246.6 306.6,246.9 305.2,247.1 303.8,247.3 302.5,247.5 301.1,247.8 299.8,248.0 298.6,248.2 297.3,248.4 296.1,248.6 294.9,248.9 293.7,249.1 292.5,249.3 291.4,249.5 290.3,249.8 289.3,250.0 288.3,250.2 287.3,250.4 286.3,250.6 285.4,250.9 284.5,251.1 283.6,251.3 282.8,251.5 282.0,251.8 281.2,252.0 280.5,252.2 279.8,252.4 279.1,252.6 278.5,252.9 277.9,253.1 277.4,253.3 276.9,253.5 276.4,253.8 276.0,254.0 275.6,254.2 275.2,254.4 274.9,254.7 274.6,254.9 274.4,255.1 274.2,255.3 274.0,255.5 273.9,255.8 273.8,256.0 273.7,256.2 273.7,256.4"/>
<polyline fill="none" stroke="#ff0000" points="421.7,286.9 421.7,287.2 421.6,287.4 421.5,287.6 421.3,287.8 421.2,288.0 420.9,288.3 420.7,288.5 420.4,288.7 420.0,288.9 419.7,289.2 419.3,289.4 418.8,289.6 418.3,289.8 417.8,290.1 417.2,290.3 416.6,290.5 416.0,290.7 415.3,290.9 414.6,291.2 413.9,291.4 413.1,291.6 412.3,291.8 411.4,292.1 410.6,292.3 409.7,292.5 408.7,292.7 407.7,292.9 406.7,293.2 405.7,293.4 404.6,293.6 403.5,293.8 402.4,294.1 401.2,294.3 400.1,294.5 398.8,294.7 397.6,294.9 396.3,295.2 395.0,295.4 393.7,295.6 392.4,295.8 391.0,296.1 389.6,296.3 388.2,296.5 386.8,296.7 385.3,297.0 383.9,297.2 382.4,297.4 380.9,297.6 379.4,297.8 377.8,298.1 376.3,298.3 374.7,298.5 373.1,298.7 371.5,299.0 369.9,299.2 368.3,299.4 366.6,299.6 365.0,299.8 363.3,300.1 361.7,300.3 360.0,300.5 358.3,300.7 356.6,301.0 354.9,301.2 353.2,301.4 351.6,301.6 349.9,301.9 348.2,302.1 346.5,302.3 344.8,302.5 343.1,302.7 341.4,303.0 339.7,303.2 338.0,303.4 336.3,303.6 334.7,303.9 333.0,304.1 331.3,304.3 329.7,304.5 328.0,304.7 326.4,305.0 324.8,305.2 323.2,305.4 321.6,305.6 320.0,305.9 318.4,306.1 316.9,306.3 315.4,306.5 313.8,306.7 312.3,307.0 310.9,307.2 309.4,307.4 308.0,307.6 306.5,307.9 305.1,308.1 303.8,308.3 302.4,308.5 301.1,308.8 299.8,309.0 298.5,309.2 297.2,309.4 296.0,309.6 294.8,309.9 293.6,310.1 292.5,310.3 291.4,310.5 290.3,310.8 289.2,311.0 288.2,311.2 287.2,311.4 286.3,311.6 285.3,311.9 284.4,312.1 283.6,312.3 282.7,312.5 281.9,312.8 281.2,313.0 280.5,313.2 279.8,313.4 279.1,313.7 278.5,313.9 277.9,314.1 277.4,314.3 276.9,314.5 276.4,314.8 275.9,315.0 275.6,315.2 275.2,315.4 274.9,315.7 274.6,315.9 274.4,316.1 274.1,316.3 274.0,316.5 273.9,316.8 273.8,317.0 273.7,317.2 273.7,317.4"/>
<polyline fill="none" stroke="#ff0000" points="421.7,347.9 421.7,348.2 421.6,348.4 421.5,348.6 421.3,348.8 421.2,349.0 420.9,349.3 420.7,349.5 420.4,349.7 420.0,349.9 419.6,350.2 419.2,350.4 418.8,350.6 418.3,350.8 417.8,351.1 417.2,351.3 416.6,351.5 416.0,351.7 415.3,351.9 414.6,352.2 413.8,352.4 413.1,352.6 412.2,352.8 411.4,353.1 410.5,353.3 409.6,353.5 408.7,353.7 407.7,353.9 406.7,354.2 405.6,354.4 404.6,354.6 403.5,354.8 402.3,355.1 401.2,355.3 400.0,355.5 398.8,355.7 397.5,356.0 396.3,356.2 395.0,356.4 393.7,356.6 392.3,356.8 390.9,357.1 389.6,357.3 388.2,357.5 386.7,357.7 385.3,358.0 383.8,358.2 382.3,358.4 380.8,358.6 379.3,358.8 377.7,359.1 376.2,359.3 374.6,359.5 373.0,359.7 371.4,360.0 369.8,360.2 368.2,360.4 366.5,360.6 364.9,360.8 363.2,361.1 361.6,361.3 359.9,361.5 358.2,361.7 356.5,362.0 354.8,362.2 353.2,362.4 351.5,362.6 349.8,362.9 348.1,363.1 346.4,363.3 344.7,363.5 343.0,363.7 341.3,364.0 339.6,364.2 337.9,364.4 336.2,364.6 334.6,364.9 332.9,365.1 331.2,365.3 329.6,365.5 327.9,365.7 326.3,366.0 324.7,366.2 323.1,366.4 321.5,366.6 319.9,366.9 318.4,367.1 316.8,367.3 315.3,367.5 313.8,367.8 312.3,368.0 310.8,368.2 309.3,368.4 307.9,368.6 306.5,368.9 305.1,369.1 303.7,369.3 302.3,369.5 301.0,369.8 299.7,370.0 298.4,370.2 297.2,370.4 295.9,370.6 294.7,370.9 293.6,371.1 292.4,371.3 291.3,371.5 290.2,371.8 289.2,372.0 288.2,372.2 287.2,372.4 286.2,372.6 285.3,372.9 284.4,373.1 283.5,373.3 282.7,373.5 281.9,373.8 281.1,374.0 280.4,374.2 279.7,374.4 279.1,374.7 278.5,374.9 277.9,375.1 277.3,375.3 276.8,375.5 276.4,375.8 275.9,376.0 275.5,376.2 275.2,376.4 274.9,376.7 274.6,376.9 274.3,377.1 274.1,377.3 274.0,377.5 273.9,377.8 273.8,378.0 273.7,378.2 273.7,378.4"/>
<polyline fill="none" stroke="#ff0000" points="421.7,408.9 421.7,409.2 421.6,409.4 421.5,409.6 421.3,409.8 421.1,410.1 420.9,410.3 420.7,410.5 420.3,410.7 420.0,410.9 419.6,411.2 419.2,411.4 418.8,411.6 418.3,411.8 417.7,412.1 417.2,412.3 416.6,412.5 415.9,412.7 415.3,412.9 414.5,413.2 413.8,413.4 413.0,413.6 412.2,413.8 411.4,414.1 410.5,414.3 409.6,414.5 408.6,414.7 407.6,414.9 406.6,415.2 405.6,415.4 404.5,415.6 403.4,415.8 402.3,416.1 401.1,416.3 399.9,416.5 398.7,416.7 397.5,417.0 396.2,417.2 394.9,417.4 393.6,417.6 392.2,417.8 390.9,418.1 389.5,418.3 388.1,418.5 386.6,418.7 385.2,419.0 383.7,419.2 382.2,419.4 380.7,419.6 379.2,419.8 377.6,420.1 376.1,420.3 374.5,420.5 372.9,420.7 371.3,421.0 369.7,421.2 368.1,421.4 366.4,421.6 364.8,421.9 363.1,422.1 361.5,422.3 359.8,422.5 358.1,422.7 356.4,423.0 354.8,423.2 353.1,423.4 351.4,423.6 349.7,423.9 348.0,424.1 346.3,424.3 344.6,424.5 342.9,424.7 341.2,425.0 339.5,425.2 337.8,425.4 336.1,425.6 334.5,425.9 332.8,426.1 331.1,426.3 329.5,426.5 327.9,426.7 326.2,427.0 324.6,427.2 323.0,427.4 321.4,427.6 319.8,427.9 318.3,428.1 316.7,428.3 315.2,428.5 313.7,428.8 312.2,429.0 310.7,429.2 309.2,429.4 307.8,429.6 306.4,429.9 305.0,430.1 303.6,430.3 302.3,430.5 300.9,430.8 299.6,431.0 298.3,431.2 297.1,431.4 295.9,431.6 294.7,431.9 293.5,432.1 292.4,432.3 291.3,432.5 290.2,432.8 289.1,433.0 288.1,433.2 287.1,433.4 286.1,433.6 285.2,433.9 284.3,434.1 283.5,434.3 282.6,434.5 281.9,434.8 281.1,435.0 280.4,435.2 279.7,435.4 279.0,435.7 278.4,435.9 277.8,436.1 277.3,436.3 276.8,436.5 276.3,436.8 275.9,437.0 275.5,437.2 275.2,437.4 274.8,437.7 274.6,437.9 274.3,438.1 274.1,438.3 274.0,438.5 273.8,438.8 273.8,439.0 273.7,439.2 273.7,439.4"/>
<polyline fill="none" stroke="#ff0000" points="421.7,469.9 421.7,470.2 421.6,470.4 421.5,470.6 421.3,470.8 421.1,471.1 420.9,471.3 420.6,471.5 420.3,471.7 420.0,471.9 419.6,472.2 419.2,472.4 418.7,472.6 418.2,472.8 417.7,473.1 417.1,473.3 416.5,473.5 415.9,473.7 415.2,473.9 414.5,474.2 413.8,474.4 413.0,474.6 412.2,474.8 411.3,475.1 410.4,475.3 409.5,475.5 408.6,475.7 407.6,476.0 406.6,476.2 405.5,476.4 404.4,476.6 403.3,476.8 402.2,477.1 401.0,477.3 399.9,477.5 398.6,477.7 397.4,478.0 396.1,478.2 394.8,478.4 393.5,478.6 392.2,478.8 390.8,479.1 389.4,479.3 388.0,479.5 386.6,479.7 385.1,480.0 383.6,480.2 382.1,480.4 380.6,480.6 379.1,480.8 377.6,481.1 376.0,481.3 374.4,481.5 372.8,481.7 371.2,482.0 369.6,482.2 368.0,482.4 366.4,482.6 364.7,482.9 363.0,483.1 361.4,483.3 359.7,483.5 358.0,483.7 356.4,484.0 354.7,484.2 353.0,484.4 351.3,484.6 349.6,484.9 347.9,485.1 346.2,485.3 344.5,485.5 342.8,485.7 341.1,486.0 339.4,486.2 337.7,486.4 336.1,486.6 334.4,486.9 332.7,487.1 331.1,487.3 329.4,487.5 327.8,487.7 326.1,488.0 324.5,488.2 322.9,488.4 321.3,488.6 319.7,488.9 318.2,489.1 316.6,489.3 315.1,489.5 313.6,489.8 312.1,490.0 310.6,490.2 309.2,490.4 307.7,490.6 306.3,490.9 304.9,491.1 303.5,491.3 302.2,491.5 300.9,491.8 299.6,492.0 298.3,492.2 297.0,492.4 295.8,492.6 294.6,492.9 293.4,493.1 292.3,493.3 291.2,493.5 290.1,493.8 289.1,494.0 288.0,494.2 287.1,494.4 286.1,494.7 285.2,494.9 284.3,495.1 283.4,495.3 282.6,495.5 281.8,495.8 281.1,496.0 280.3,496.2 279.7,496.4 279.0,496.7 278.4,496.9 277.8,497.1 277.3,497.3 276.8,497.5 276.3,497.8 275.9,498.0 275.5,498.2 275.1,498.4 274.8,498.7 274.6,498.9 274.3,499.1 274.1,499.3 274.0,499.5 273.8,499.8 273.8,500.0 273.7,500.2 273.7,500.4"/>
<polyline fill="none" stroke="#ff0000" points="421.7,530.9 421.7,531.2 421.6,531.4 421.5,531.6 421.3,531.8 421.1,532.1 420.9,532.3 420.6,532.5 420.3,532.7 420.0,532.9 419.6,533.2 419.2,533.4 418.7,533.6 418.2,533.8 417.7,534.1 417.1,534.3 416.5,534.5 415.9,534.7 415.2,534.9 414.5,535.2 413.7,535.4 412.9,535.6 412.1,535.8 411.3,536.1 410.4,536.3 409.5,536.5 408.5,536.7 407.5,537.0 406.5,537.2 405.5,537.4 404.4,537.6 403.3,537.8 402.1,538.1 401.0,538.3 399.8,538.5 398.6,538.7 397.3,539.0 396.1,539.2 394.8,539.4 393.4,539.6 392.1,539.8 390.7,540.1 389.3,540.3 387.9,540.5 386.5,540.7 385.0,541.0 383.6,541.2 382.1,541.4 380.5,541.6 379.0,541.8 377.5,542.1 375.9,542.3 374.3,542.5 372.7,542.7 371.1,543.0 369.5,543.2 367.9,543.4 366.3,543.6 364.6,543.9 363.0,544.1 361.3,544.3 359.6,544.5 357.9,544.7 356.3,545.0 354.6,545.2 352.9,545.4 351.2,545.6 349.5,545.9 347.8,546.1 346.1,546.3 344.4,546.5 342.7,546.7 341.0,547.0 339.3,547.2 337.6,547.4 336.0,547.6 334.3,547.9 332.6,548.1 331.0,548.3 329.3,548.5 327.7,548.8 326.1,549.0 324.4,549.2 322.8,549.4 321.2,549.6 319.7,549.9 318.1,550.1 316.6,550.3 315.0,550.5 313.5,550.8 312.0,551.0 310.5,551.2 309.1,551.4 307.6,551.6 306.2,551.9 304.8,552.1 303.5,552.3 302.1,552.5 300.8,552.8 299.5,553.0 298.2,553.2 297.0,553.4 295.7,553.6 294.5,553.9 293.4,554.1 292.2,554.3 291.1,554.5 290.1,554.8 289.0,555.0 288.0,555.2 287.0,555.4 286.0,555.7 285.1,555.9 284.2,556.1 283.4,556.3 282.6,556.5 281.8,556.8 281.0,557.0 280.3,557.2 279.6,557.4 279.0,557.7 278.4,557.9 277.8,558.1 277.2,558.3 276.7,558.5 276.3,558.8 275.9,559.0 275.5,559.2 275.1,559.4 274.8,559.7 274.5,559.9 274.3,560.1 274.1,560.3 274.0,560.6 273.8,560.8 273.8,561.0 273.7,561.2 273.7,561.4"/>
<polyline fill="none" stroke="#ff0000" points="421.7,591.9 421.6,592.2 421.6,592.4 421.5,592.6 421.3,592.8 421.1,593.1 420.9,593.3 420.6,593.5 420.3,593.7 419.9,593.9 419.6,594.2 419.1,594.4 418.7,594.6 418.2,594.8 417.6,595.1 417.1,595.3 416.5,595.5 415.8,595.7 415.1,595.9 414.4,596.2 413.7,596.4 412.9,596.6 412.1,596.8 411.2,597.1 410.3,597.3 409.4,597.5 408.5,597.7 407.5,598.0 406.5,598.2 405.4,598.4 404.3,598.6 403.2,598.8 402.1,599.1 400.9,599.3 399.7,599.5 398.5,599.7 397.3,600.0 396.0,600.2 394.7,600.4 393.4,600.6 392.0,600.8 390.6,601.1 389.3,601.3 387.8,601.5 386.4,601.7 384.9,602.0 383.5,602.2 382.0,602.4 380.5,602.6 378.9,602.9 377.4,603.1 375.8,603.3 374.2,603.5 372.7,603.7 371.1,604.0 369.4,604.2 367.8,604.4 366.2,604.6 364.5,604.9 362.9,605.1 361.2,605.3 359.5,605.5 357.9,605.7 356.2,606.0 354.5,606.2 352.8,606.4 351.1,606.6 349.4,606.9 347.7,607.1 346.0,607.3 344.3,607.5 342.6,607.7 340.9,608.0 339.2,608.2 337.6,608.4 335.9,608.6 334.2,608.9 332.5,609.1 330.9,609.3 329.2,609.5 327.6,609.8 326.0,610.0 324.3,610.2 322.7,610.4 321.2,610.6 319.6,610.9 318.0,611.1 316.5,611.3 314.9,611.5 313.4,611.8 311.9,612.0 310.5,612.2 309.0,612.4 307.6,612.6 306.1,612.9 304.8,613.1 303.4,613.3 302.0,613.5 300.7,613.8 299.4,614.0 298.1,614.2 296.9,614.4 295.7,614.7 294.5,614.9 293.3,615.1 292.2,615.3 291.1,615.5 290.0,615.8 288.9,616.0 287.9,616.2 286.9,616.4 286.0,616.7 285.1,616.9"/>
<polyline fill="none" stroke="#ff0000" points="281.6,616.9 280.9,617.1 280.1,617.3 279.5,617.5 278.8,617.8 278.2,618.0 277.7,618.2 277.1,618.4 276.6,618.7 276.2,618.9 275.8,619.1 275.4,619.3 275.1,619.5 274.8,619.8 274.5,620.0 274.3,620.2 274.1,620.4 273.9,620.7 273.8,620.9 273.7,621.1 273.7,621.3 273.7,621.5"/>
<polyline fill="none" stroke="#ff0000" points="421.7,652.0 421.6,652.3 421.6,652.5 421.4,652.7 421.3,652.9 421.1,653.1 420.8,653.4 420.6,653.6 420.3,653.8 419.9,654.0 419.5,654.3 419.1,654.5 418.6,654.7 418.1,654.9 417.6,655.1 417.0,655.4 416.4,655.6 415.7,655.8 415.1,656.0 414.3,656.3 413.6,656.5 412.8,656.7 412.0,656.9 411.1,657.1 410.2,657.4 409.3,657.6 408.3,657.8 407.4,658.0 406.3,658.3 405.3,658.5 404.2,658.7 403.1,658.9 402.0,659.2 400.8,659.4 399.6,659.6 398.4,659.8 397.1,660.0 395.9,660.3 394.6,660.5 393.2,660.7 391.9,660.9 390.5,661.2 389.1,661.4 387.7,661.6 386.3,661.8 384.8,662.0 383.3,662.3 381.8,662.5 380.3,662.7 378.8,662.9 377.2,663.2 375.7,663.4 374.1,663.6 372.5,663.8 370.9,664.0 369.3,664.3 367.7,664.5 366.0,664.7 364.4,664.9 362.7,665.2 361.1,665.4 359.4,665.6 357.7,665.8 356.0,666.0 354.3,666.3 352.6,666.5 351.0,666.7 349.3,666.9 347.6,667.2 345.9,667.4 344.2,667.6 342.5,667.8 340.8,668.1 339.1,668.3 337.4,668.5 335.7,668.7 334.1,668.9 332.4,669.2 330.8,669.4 329.1,669.6 327.5,669.8 325.8,670.1 324.2,670.3 322.6,670.5 321.0,670.7 319.5,670.9 317.9,671.2 316.4,671.4 314.8,671.6 313.3,671.8 311.8,672.1 310.4,672.3 308.9,672.5 307.5,672.7 306.1,672.9 304.7,673.2 303.3,673.4 301.9,673.6 300.6,673.8 299.3,674.1 298.1,674.3 296.8,674.5 295.6,674.7 294.4,674.9 293.2,675.2 292.1,675.4 291.0,675.6 289.9,675.8 288.9,676.1 287.9,676.3 286.9,676.5 285.9,676.7 285.0,677.0 284.1,677.2 283.3,677.4 282.5,677.6 281.7,677.8 280.9,678.1 280.2,678.3 279.5,678.5 278.9,678.7 278.3,679.0 277.7,679.2 277.2,679.4 276.7,679.6 276.2,679.8 275.8,680.1 275.4,680.3 275.1,680.5 274.8,680.7 274.5,681.0 274.3,681.2 274.1,681.4 273.9,681.6 273.8,681.8 273.7,682.1 273.7,682.3 273.7,682.5"/>
<polyline fill="none" stroke="#ff0000" points="421.7,713.0 421.6,713.2 421.6,713.4 421.5,713.7 421.3,713.9 421.1,714.1 420.9,714.3 420.6,714.6 420.3,714.8 419.9,715.0 419.6,715.2 419.1,715.4 418.7,715.7 418.2,715.9 417.6,716.1 417.1,716.3 416.5,716.6 415.8,716.8 415.1,717.0 414.4,717.2 413.7,717.4 412.9,717.7 412.1,717.9 411.2,718.1 410.3,718.3 409.4,718.6 408.5,718.8 407.5,719.0 406.5,719.2 405.4,719.4 404.3,719.7 403.2,719.9 402.1,720.1 400.9,720.3 399.7,720.6 398.5,720.8 397.3,721.0 396.0,721.2 394.7,721.5 393.4,721.7 392.0,721.9 390.7,722.1 389.3,722.3 387.9,722.6 386.4,722.8 385.0,723.0 383.5,723.2 382.0,723.5 380.5,723.7 379.0,723.9 377.4,724.1 375.9,724.3 374.3,724.6 372.7,724.8 371.1,725.0 369.5,725.2 367.8,725.5 366.2,725.7 364.6,725.9 362.9,726.1 361.2,726.3 359.6,726.6 357.9,726.8 356.2,727.0 354.5,727.2 352.8,727.5 351.1,727.7 349.4,727.9 347.8,728.1 346.1,728.3 344.4,728.6 342.7,728.8 341.0,729.0 339.3,729.2 337.6,729.5 335.9,729.7 334.3,729.9 332.6,730.1 330.9,730.4 329.3,730.6 327.7,730.8 326.0,731.0 324.4,731.2 322.8,731.5 321.2,731.7 319.6,731.9 318.1,732.1 316.5,732.4 315.0,732.6 313.5,732.8 312.0,733.0 310.5,733.2 309.1,733.5 307.6,733.7 306.2,733.9 304.8,734.1 303.4,734.4 302.1,734.6 300.8,734.8 299.5,735.0 298.2,735.2 297.0,735.5 295.7,735.7 294.5,735.9 293.4,736.1 292.2,736.4 291.1,736.6 290.1,736.8 289.0,737.0 288.0,737.2 287.0,737.5 286.0,737.7 285.1,737.9 284.2,738.1 283.4,738.4 282.6,738.6 281.8,738.8 281.0,739.0 280.3,739.3 279.6,739.5 279.0,739.7 278.4,739.9 277.8,740.1 277.3,740.4 276.8,740.6 276.3,740.8 275.9,741.0 275.5,741.3 275.1,741.5 274.8,741.7 274.5,741.9 274.3,742.1 274.1,742.4 274.0,742.6 273.8,742.8 273.8,743.0 273.7,743.3 273.7,743.5"/>
<polyline fill="none" stroke="#00b0b0" points="245.0,52.9 244.8,53.3 244.6,53.6 244.5,53.9 244.4,54.3 244.4,54.6 244.4,54.9"/>
<polyline fill="none" stroke="#00b0b0" points="451.0,105.4 451.0,105.7 450.8,106.0 450.7,106.4 450.5,106.7 450.2,107.0 450.0,107.4 449.6,107.7 449.2,108.0 448.8,108.4 448.4,108.7 447.8,109.0 447.3,109.4 446.7,109.7 446.0,110.0 445.4,110.4 444.6,110.7 443.9,111.0 443.1,111.4 442.2,111.7 441.3,112.0 440.4,112.4 439.4,112.7 438.4,113.0 437.3,113.4 436.2,113.7 435.1,114.0 433.9,114.4 432.7,114.7 431.5,115.0 430.2,115.4 428.9,115.7 427.5,116.1 426.2,116.4 424.7,116.7 423.3,117.1 421.8,117.4 420.3,117.7 418.7,118.1 417.1,118.4 415.5,118.7 413.9,119.1 412.2,119.4 410.5,119.7 408.8,120.1 407.1,120.4 405.3,120.7 403.5,121.1 401.6,121.4 399.8,121.7 397.9,122.1 396.0,122.4 394.1,122.7 392.2,123.1 390.2,123.4 388.2,123.7 386.2,124.1 384.2,124.4 382.2,124.7 380.2,125.1 378.1,125.4 376.0,125.7 374.0,126.1 371.9,126.4 369.8,126.7 367.7,127.1 365.5,127.4 363.4,127.7 361.3,128.1 359.1,128.4 357.0,128.7 354.8,129.1 352.7,129.4 350.5,129.7 348.4,130.1 346.2,130.4 344.1,130.7 341.9,131.1 339.8,131.4 337.6,131.7 335.5,132.1 333.3,132.4 331.2,132.7 329.1,133.1 327.0,133.4 324.9,133.7 322.8,134.1 320.7,134.4 318.6,134.7 316.5,135.1 314.5,135.4 312.4,135.7 310.4,136.1 308.4,136.4 306.4,136.8 304.5,137.1 302.5,137.4 300.6,137.8 298.7,138.1 296.8,138.4 294.9,138.8 293.1,139.1 291.3,139.4 289.5,139.8 287.7,140.1 286.0,140.4 284.2,140.8 282.6,141.1 280.9,141.4 279.3,141.8 277.7,142.1 276.1,142.4 274.6,142.8 273.0,143.1 271.6,143.4 270.1,143.8 268.7,144.1 267.4,144.4 266.0,144.8 264.7,145.1 263.4,145.4 262.2,145.8 261.0,146.1 259.9,146.4 258.7,146.8 257.7,147.1 256.6,147.4 255.6,147.8 254.7,148.1 253.8,148.4 252.9,148.8 252.0,149.1 251.2,149.4 250.5,149.8 249.8,150.1 249.1,150.4 248.5,150.8 247.9,151.1 247.4,151.4 246.9,151.8 246.4,152.1 246.0,152.4 245.7,152.8 245.3,153.1 245.1,153.4 244.8,153.8 244.6,154.1 244.5,154.4 244.4,154.8 244.4,155.1 244.4,155.4"/>
<polyline fill="none" stroke="#00b0b0" points="451.0,205.9 451.0,206.2 450.9,206.5 450.7,206.9 450.5,207.2 450.3,207.5 450.0,207.9 449.7,208.2 449.3,208.5 448.9,208.9 448.4,209.2 447.9,209.5 447.3,209.9 446.8,210.2 446.1,210.5 445.4,210.9 444.7,211.2 444.0,211.5 443.1,211.9 442.3,212.2 441.4,212.5 440.5,212.9 439.5,213.2 438.5,213.5 437.5,213.9 436.4,214.2 435.2,214.5 434.1,214.9 432.9,215.2 431.6,215.5 430.4,215.9 429.0,216.2 427.7,216.5 426.3,216.9 424.9,217.2 423.4,217.6 422.0,217.9 420.4,218.2 418.9,218.6 417.3,218.9 415.7,219.2 414.1,219.6 412.4,219.9 410.7,220.2 409.0,220.6 407.2,220.9 405.5,221.2 403.7,221.6 401.8,221.9 400.0,222.2 398.1,222.6 396.2,222.9 394.3,223.2 392.4,223.6 390.4,223.9 388.4,224.2 386.5,224.6 384.5,224.9 382.4,225.2 380.4,225.6 378.3,225.9 376.3,226.2 374.2,226.6 372.1,226.9 370.0,227.2 367.9,227.6 365.8,227.9 363.6,228.2 361.5,228.6 359.4,228.9 357.2,229.2 355.1,229.6 352.9,229.9 350.8,230.2 348.6,230.6 346.5,230.9 344.3,231.2 342.1,231.6 340.0,231.9 337.8,232.2 335.7,232.6 333.6,232.9 331.4,233.2 329.3,233.6 327.2,233.9 325.1,234.2 323.0,234.6 320.9,234.9 318.8,235.2 316.7,235.6 314.7,235.9 312.7,236.2 310.6,236.6 308.6,236.9 306.6,237.3 304.7,237.6 302.7,237.9 300.8,238.3 298.9,238.6 297.0,238.9 295.1,239.3 293.3,239.6 291.5,239.9 289.7,240.3 287.9,240.6 286.1,240.9 284.4,241.3 282.7,241.6 281.1,241.9 279.4,242.3 277.8,242.6 276.3,242.9 274.7,243.3 273.2,243.6 271.7,243.9 270.3,244.3 268.9,244.6 267.5,244.9 266.2,245.3 264.8,245.6 263.6,245.9 262.3,246.3 261.1,246.6 260.0,246.9 258.9,247.3 257.8,247.6 256.7,247.9 255.7,248.3 254.8,248.6 253.8,248.9 253.0,249.3 252.1,249.6 251.3,249.9 250.6,250.3 249.9,250.6 249.2,250.9 248.6,251.3 248.0,251.6 247.4,251.9 246.9,252.3 246.5,252.6 246.1,252.9 245.7,253.3 245.4,253.6 245.1,253.9 244.9,254.3 244.7,254.6 244.5,254.9 244.4,255.3 244.4,255.6 244.4,255.9"/>
<polyline fill="none" stroke="#00b0b0" points="451.0,306.4 451.0,306.7 450.9,307.0 450.7,307.4 450.5,307.7 450.3,308.0 450.0,308.4 449.7,308.7 449.3,309.0 448.9,309.4 448.5,309.7 448.0,310.0 447.4,310.4 446.8,310.7 446.2,311.0 445.5,311.4 444.8,311.7 444.0,312.0 443.2,312.4 442.4,312.7 441.5,313.0 440.6,313.4 439.6,313.7 438.6,314.0 437.6,314.4 436.5,314.7 435.4,315.0 434.2,315.4 433.0,315.7 431.8,316.0 430.5,316.4 429.2,316.7 427.8,317.0 426.5,317.4 425.0,317.7 423.6,318.1 422.1,318.4 420.6,318.7 419.1,319.1 417.5,319.4 415.9,319.7 414.3,320.1 412.6,320.4 410.9,320.7 409.2,321.1 407.4,321.4 405.7,321.7 403.9,322.1 402.0,322.4 400.2,322.7 398.3,323.1 396.4,323.4 394.5,323.7 392.6,324.1 390.6,324.4 388.7,324.7 386.7,325.1 384.7,325.4 382.6,325.7 380.6,326.1 378.6,326.4 376.5,326.7 374.4,327.1 372.3,327.4 370.2,327.7 368.1,328.1 366.0,328.4 363.9,328.7 361.7,329.1 359.6,329.4 357.5,329.7 355.3,330.1 353.2,330.4 351.0,330.7 348.8,331.1 346.7,331.4 344.5,331.7 342.4,332.1 340.2,332.4 338.1,332.7 335.9,333.1 333.8,333.4 331.7,333.7 329.5,334.1 327.4,334.4 325.3,334.7 323.2,335.1 321.1,335.4 319.0,335.7 317.0,336.1 314.9,336.4 312.9,336.7 310.9,337.1 308.9,337.4 306.9,337.7 304.9,338.1 302.9,338.4 301.0,338.8 299.1,339.1 297.2,339.4 295.3,339.8 293.5,340.1 291.7,340.4 289.9,340.8 288.1,341.1 286.3,341.4 284.6,341.8 282.9,342.1 281.3,342.4 279.6,342.8 278.0,343.1 276.4,343.4 274.9,343.8 273.4,344.1 271.9,344.4 270.4,344.8 269.0,345.1 267.6,345.4 266.3,345.8 265.0,346.1 263.7,346.4 262.5,346.8 261.3,347.1 260.1,347.4 259.0,347.8 257.9,348.1 256.8,348.4 255.8,348.8 254.9,349.1 253.9,349.4 253.1,349.8 252.2,350.1 251.4,350.4 250.6,350.8 249.9,351.1 249.3,351.4 248.6,351.8 248.0,352.1 247.5,352.4 247.0,352.8 246.5,353.1 246.1,353.4 245.7,353.8 245.4,354.1 245.1,354.4 244.9,354.8 244.7,355.1 244.5,355.4 244.4,355.8 244.4,356.1 244.4,356.4"/>
<polyline fill="none" stroke="#00b0b0" points="451.0,406.9 451.0,407.2 450.9,407.5 450.7,407.9 450.6,408.2 450.3,408.5 450.1,408.9 449.7,409.2 449.4,409.5 449.0,409.9 448.5,410.2 448.0,410.5 447.5,410.9 446.9,411.2 446.3,411.5 445.6,411.9 444.9,412.2 444.1,412.5 443.3,412.9 442.5,413.2 441.6,413.5 440.7,413.9 439.7,414.2 438.7,414.5 437.7,414.9 436.6,415.2 435.5,415.5 434.3,415.9 433.1,416.2 431.9,416.5 430.6,416.9 429.3,417.2 428.0,417.5 426.6,417.9 425.2,418.2 423.8,418.5 422.3,418.9 420.8,419.2 419.2,419.6 417.7,419.9 416.1,420.2 414.4,420.6 412.8,420.9 411.1,421.2 409.4,421.6 407.6,421.9 405.8,422.2 404.1,422.6 402.2,422.9 400.4,423.2 398.5,423.6 396.6,423.9 394.7,424.2 392.8,424.6 390.8,424.9 388.9,425.2 386.9,425.6 384.9,425.9 382.9,426.2 380.8,426.6 378.8,426.9 376.7,427.2 374.6,427.6 372.6,427.9 370.5,428.2 368.3,428.6 366.2,428.9 364.1,429.2 362.0,429.6 359.8,429.9 357.7,430.2 355.5,430.6 353.4,430.9 351.2,431.2 349.1,431.6 346.9,431.9 344.8,432.2 342.6,432.6 340.5,432.9 338.3,433.2 336.2,433.6 334.0,433.9 331.9,434.2 329.8,434.6 327.6,434.9 325.5,435.2 323.4,435.6 321.3,435.9 319.3,436.2 317.2,436.6 315.1,436.9 313.1,437.2 311.1,437.6 309.1,437.9 307.1,438.2 305.1,438.6 303.1,438.9 301.2,439.3 299.3,439.6 297.4,439.9 295.5,440.3 293.7,440.6 291.8,440.9 290.0,441.3 288.3,441.6 286.5,441.9 284.8,442.3 283.1,442.6 281.4,442.9 279.8,443.3 278.2,443.6 276.6,443.9 275.0,444.3 273.5,444.6 272.0,444.9 270.6,445.3 269.2,445.6 267.8,445.9 266.4,446.3 265.1,446.6 263.8,446.9 262.6,447.3 261.4,447.6 260.2,447.9 259.1,448.3 258.0,448.6 257.0,448.9 255.9,449.3 255.0,449.6 254.0,449.9 253.2,450.3 252.3,450.6 251.5,450.9 250.7,451.3 250.0,451.6 249.3,451.9 248.7,452.3 248.1,452.6 247.5,452.9 247.0,453.3 246.6,453.6 246.1,453.9 245.8,454.3 245.4,454.6 245.1,454.9 244.9,455.3 244.7,455.6 244.5,455.9 244.4,456.3 244.4,456.6 244.4,456.9"/>
<polyline fill="none" stroke="#00b0b0" points="451.0,507.4 451.0,507.7 450.9,508.0 450.8,508.4 450.6,508.7 450.4,509.0 450.1,509.4 449.8,509.7 449.4,510.0 449.0,510.4 448.6,510.7 448.1,511.0 447.5,511.4 447.0,511.7 446.3,512.0 445.7,512.4 445.0,512.7 444.2,513.0 443.4,513.4 442.6,513.7 441.7,514.0 440.8,514.4 439.8,514.7 438.8,515.0 437.8,515.4 436.7,515.7 435.6,516.0 434.5,516.4 433.3,516.7 432.0,517.0 430.8,517.4 429.5,517.7 428.1,518.0 426.8,518.4 425.4,518.7 423.9,519.0 422.4,519.4 420.9,519.7 419.4,520.1 417.8,520.4 416.2,520.7 414.6,521.1 412.9,521.4 411.3,521.7 409.5,522.1 407.8,522.4 406.0,522.7 404.2,523.1 402.4,523.4 400.6,523.7 398.7,524.1 396.8,524.4 394.9,524.7 393.0,525.1 391.1,525.4 389.1,525.7 387.1,526.1 385.1,526.4 383.1,526.7 381.0,527.1 379.0,527.4 376.9,527.7 374.9,528.1 372.8,528.4 370.7,528.7 368.6,529.1 366.5,529.4 364.3,529.7 362.2,530.1 360.1,530.4 357.9,530.7 355.8,531.1 353.6,531.4 351.5,531.7 349.3,532.1 347.1,532.4 345.0,532.7 342.8,533.1 340.7,533.4 338.5,533.7 336.4,534.1 334.2,534.4 332.1,534.7 330.0,535.1 327.9,535.4 325.8,535.7 323.7,536.1 321.6,536.4 319.5,536.7 317.4,537.1 315.4,537.4 313.3,537.7 311.3,538.1 309.3,538.4 307.3,538.7 305.3,539.1 303.4,539.4 301.4,539.7 299.5,540.1 297.6,540.4 295.7,540.8 293.9,541.1 292.0,541.4 290.2,541.8 288.5,542.1 286.7,542.4 285.0,542.8 283.3,543.1 281.6,543.4 280.0,543.8 278.3,544.1 276.8,544.4 275.2,544.8 273.7,545.1 272.2,545.4 270.7,545.8 269.3,546.1 267.9,546.4 266.6,546.8 265.3,547.1 264.0,547.4 262.7,547.8 261.5,548.1 260.4,548.4 259.2,548.8 258.1,549.1 257.1,549.4 256.1,549.8 255.1,550.1 254.1,550.4 253.2,550.8 252.4,551.1 251.6,551.4 250.8,551.8 250.1,552.1 249.4,552.4 248.7,552.8 248.1,553.1 247.6,553.4 247.1,553.8 246.6,554.1 246.2,554.4 245.8,554.8 245.5,555.1 245.2,555.4 244.9,555.8 244.7,556.1 244.6,556.4 244.4,556.8 244.4,557.1 244.4,557.4 244.4,557.8"/>
<polyline fill="none" stroke="#00b0b0" points="451.0,607.9 451.0,608.2 450.9,608.5 450.8,608.9 450.6,609.2 450.4,609.5 450.1,609.9 449.8,610.2 449.4,610.5 449.1,610.9 448.6,611.2 448.1,611.5 447.6,611.9 447.0,612.2 446.4,612.5 445.7,612.9 445.0,613.2 444.3,613.5 443.5,613.9 442.7,614.2 441.8,614.5 440.9,614.9 439.9,615.2 438.9,615.5 437.9,615.9 436.8,616.2 435.7,616.5 434.6,616.9"/>
<polyline fill="none" stroke="#00b0b0" points="431.2,616.9 429.9,617.2 428.6,617.5 427.2,617.9 425.8,618.2 424.4,618.5 422.9,618.9 421.4,619.2 419.9,619.5 418.4,619.9 416.8,620.2 415.1,620.5 413.5,620.9 411.8,621.2 410.1,621.5 408.4,621.9 406.6,622.2 404.8,622.6 403.0,622.9 401.2,623.2 399.4,623.6 397.5,623.9 395.6,624.2 393.7,624.6 391.7,624.9 389.8,625.2 387.8,625.6 385.8,625.9 383.8,626.2 381.7,626.6 379.7,626.9 377.6,627.2 375.6,627.6 373.5,627.9 371.4,628.2 369.3,628.6 367.2,628.9 365.1,629.2 362.9,629.6 360.8,629.9 358.7,630.2 356.5,630.6 354.4,630.9 352.2,631.2 350.1,631.6 347.9,631.9 345.7,632.2 343.6,632.6 341.4,632.9 339.3,633.2 337.1,633.6 335.0,633.9 332.9,634.2 330.7,634.6 328.6,634.9 326.5,635.2 324.4,635.6 322.3,635.9 320.2,636.2 318.1,636.6 316.1,636.9 314.0,637.2 312.0,637.6 310.0,637.9 308.0,638.2 306.0,638.6 304.0,638.9 302.1,639.2 300.2,639.6 298.3,639.9 296.4,640.2 294.5,640.6 292.7,640.9 290.9,641.2 289.1,641.6 287.3,641.9 285.6,642.2 283.9,642.6 282.2,642.9 280.6,643.2 278.9,643.6 277.3,643.9 275.8,644.2 274.2,644.6 272.7,644.9 271.3,645.2 269.8,645.6 268.4,645.9 267.1,646.2 265.7,646.6 264.4,646.9 263.2,647.2 262.0,647.6 260.8,647.9 259.6,648.2 258.5,648.6 257.5,648.9 256.4,649.3 255.4,649.6 254.5,649.9 253.6,650.3 252.7,650.6 251.9,650.9 251.1,651.3 250.3,651.6 249.6,651.9 249.0,652.3 248.4,652.6 247.8,652.9 247.3,653.3 246.8,653.6 246.3,653.9 245.9,654.3 245.6,654.6 245.3,654.9 245.0,655.3 244.8,655.6 244.6,655.9 244.5,656.3 244.4,656.6 244.4,656.9 244.4,657.3"/>
<polyline fill="none" stroke="#00b0b0" points="451.0,707.7 451.0,708.0 450.8,708.3 450.7,708.7 450.5,709.0 450.2,709.3 449.9,709.7 449.6,710.0 449.2,710.3 448.8,710.7 448.3,711.0 447.8,711.3 447.3,711.7 446.7,712.0 446.0,712.3 445.4,712.7 444.6,713.0 443.9,713.3 443.0,713.7 442.2,714.0 441.3,714.3 440.4,714.7 439.4,715.0 438.4,715.3 437.3,715.7 436.2,716.0 435.1,716.3 433.9,716.7 432.7,717.0 431.5,717.3 430.2,717.7 428.9,718.0 427.5,718.3 426.1,718.7 424.7,719.0 423.3,719.3 421.8,719.7 420.3,720.0 418.7,720.3 417.1,720.7 415.5,721.0 413.9,721.3 412.2,721.7 410.5,722.0 408.8,722.3 407.0,722.7 405.3,723.0 403.5,723.3 401.6,723.7 399.8,724.0 397.9,724.3 396.0,724.7 394.1,725.0 392.2,725.3 390.2,725.7 388.2,726.0 386.2,726.3 384.2,726.7 382.2,727.0 380.2,727.3 378.1,727.7 376.1,728.0 374.0,728.3 371.9,728.7 369.8,729.0 367.7,729.3 365.6,729.7 363.4,730.0 361.3,730.4 359.2,730.7 357.0,731.0 354.9,731.4 352.7,731.7 350.6,732.0 348.4,732.4 346.2,732.7 344.1,733.0 341.9,733.4 339.8,733.7 337.6,734.0 335.5,734.4 333.4,734.7 331.2,735.0 329.1,735.4 327.0,735.7 324.9,736.0 322.8,736.4 320.7,736.7 318.6,737.0 316.6,737.4 314.5,737.7 312.5,738.0 310.5,738.4 308.5,738.7 306.5,739.0 304.5,739.4 302.6,739.7 300.6,740.0 298.7,740.4 296.8,740.7 295.0,741.0 293.1,741.4 291.3,741.7 289.5,742.0 287.7,742.4 286.0,742.7 284.3,743.0 282.6,743.4 280.9,743.7 279.3,744.0 277.7,744.4 276.1,744.7 274.6,745.0 273.1,745.4 271.6,745.7 270.2,746.0 268.8,746.4 267.4,746.7 266.0,747.0 264.7,747.4 263.5,747.7 262.2,748.0 261.1,748.4 259.9,748.7 258.8,749.0 257.7,749.4 256.7,749.7 255.7,750.0 254.7,750.4 253.8,750.7 252.9,751.0 252.1,751.4 251.3,751.7 250.5,752.0 249.8,752.4 249.1,752.7 248.5,753.0 247.9,753.4 247.4,753.7 246.9,754.0 246.4,754.4"/>
<polyline fill="none" stroke="#c800d2" points="142.4,52.9 140.9,53.6 139.5,54.3 138.0,54.9 136.6,55.6 135.3,56.3 134.0,57.0 132.6,57.6 131.4,58.3 130.1,59.0 128.9,59.6 127.8,60.3 126.6,61.0 125.5,61.6 124.4,62.3 123.4,63.0 122.3,63.6 121.4,64.3 120.4,65.0 119.5,65.6 118.6,66.3 117.7,67.0 116.9,67.6 116.1,68.3 115.4,69.0 114.6,69.6 113.9,70.3 113.3,71.0 112.6,71.6 112.0,72.3 111.5,73.0 111.0,73.6 110.5,74.3 110.0,75.0 109.6,75.6 109.2,76.3 108.8,77.0 108.5,77.6 108.2,78.3 107.9,79.0 107.7,79.6 107.5,80.3 107.3,81.0 107.2,81.6 107.1,82.3"/>
<polyline fill="none" stroke="#c800d2" points="585.6,265.8 585.5,266.5 585.4,267.2 585.2,267.8 585.0,268.5 584.8,269.2 584.5,269.8 584.2,270.5 583.9,271.2 583.5,271.8 583.1,272.5 582.6,273.2 582.2,273.8 581.7,274.5 581.1,275.2 580.5,275.8 579.9,276.5 579.3,277.2 578.6,277.9 577.9,278.5 577.2,279.2 576.4,279.9 575.6,280.5 574.7,281.2 573.8,281.9 572.9,282.5 572.0,283.2 571.0,283.9 570.0,284.5 569.0,285.2 567.9,285.9 566.8,286.5 565.6,287.2 564.5,287.9 563.3,288.5 562.0,289.2 560.8,289.9 559.5,290.5 558.1,291.2 556.8,291.9 555.4,292.5 553.9,293.2 552.5,293.9 551.0,294.5 549.5,295.2 548.0,295.9 546.4,296.5 544.8,297.2 543.1,297.9 541.5,298.5 539.8,299.2 538.1,299.9 536.3,300.5 534.5,301.2 532.7,301.9 530.9,302.5 529.0,303.2 527.2,303.9 525.2,304.5 523.3,305.2 521.3,305.9 519.3,306.5 517.3,307.2 515.3,307.9 513.2,308.6 511.1,309.2 509.0,309.9 506.9,310.6 504.7,311.2 502.5,311.9 500.3,312.6 498.0,313.2 495.8,313.9 493.5,314.6 491.2,315.2 488.9,315.9 486.5,316.6 484.1,317.2 481.8,317.9 479.3,318.6 476.9,319.2 474.5,319.9 472.0,320.6 469.5,321.2 467.0,321.9 464.5,322.6 461.9,323.2 459.4,323.9 456.8,324.6 454.2,325.2 451.6,325.9 449.0,326.6 446.3,327.2 443.7,327.9 441.0,328.6 438.3,329.2 435.6,329.9 432.9,330.6 430.2,331.2 427.4,331.9 424.7,332.6 421.9,333.2 419.1,333.9 416.4,334.6 413.6,335.2 410.8,335.9 407.9,336.6 405.1,337.2 402.3,337.9 399.4,338.6 396.6,339.2 393.7,339.9 390.9,340.6 388.0,341.3 385.1,341.9 382.2,342.6 379.4,343.3 376.5,343.9 373.6,344.6 370.7,345.3 367.8,345.9 364.9,346.6 361.9,347.3 359.0,347.9 356.1,348.6 353.2,349.3 350.3,349.9 347.4,350.6 344.5,351.3 341.5,351.9 338.6,352.6 335.7,353.3 332.8,353.9 329.9,354.6 327.0,355.3 324.1,355.9 321.2,356.6 318.3,357.3 315.4,357.9 312.5,358.6 309.6,359.3 306.8,359.9 303.9,360.6 301.0,361.3 298.2,361.9 295.3,362.6 292.5,363.3 289.6,363.9 286.8,364.6 284.0,365.3 281.2,365.9 278.4,366.6 275.6,367.3 272.9,367.9 270.1,368.6 267.3,369.3 264.6,369.9 261.9,370.6 259.2,371.3 256.5,372.0 253.8,372.6 251.1,373.3 248.5,374.0 245.8,374.6 243.2,375.3 240.6,376.0 238.0,376.6 235.4,377.3 232.9,378.0 230.3,378.6 227.8,379.3 225.3,380.0 222.8,380.6 220.3,381.3 217.9,382.0 215.4,382.6 213.0,383.3 210.6,384.0 208.3,384.6 205.9,385.3 203.6,386.0 201.3,386.6 199.0,387.3 196.7,388.0 194.5,388.6 192.3,389.3 190.1,390.0 187.9,390.6 185.7,391.3 183.6,392.0 181.5,392.6 179.4,393.3 177.4,394.0 175.4,394.6 173.4,395.3 171.4,396.0 169.4,396.6 167.5,397.3 165.6,398.0 163.7,398.6 161.9,399.3 160.1,400.0 158.3,400.6 156.5,401.3 154.8,402.0 153.1,402.7 151.4,403.3 149.7,404.0 148.1,404.7 146.5,405.3 145.0,406.0 143.4,406.7 141.9,407.3 140.5,408.0 139.0,408.7 137.6,409.3 136.2,410.0 134.9,410.7 133.5,411.3 132.3,412.0 131.0,412.7 129.8,413.3 128.6,414.0 127.4,414.7 126.3,415.3 125.2,416.0 124.1,416.7 123.0,417.3 122.0,418.0 121.1,418.7 120.1,419.3 119.2,420.0 118.3,420.7 117.5,421.3 116.7,422.0 115.9,422.7 115.1,423.3 114.4,424.0 113.7,424.7 113.1,425.3 112.5,426.0 111.9,426.7 111.3,427.3 110.8,428.0 110.3,428.7 109.9,429.3 109.4,430.0 109.1,430.7 108.7,431.3 108.4,432.0 108.1,432.7 107.8,433.3 107.6,434.0 107.4,434.7 107.3,435.4 107.2,436.0 107.1,436.7"/>
<polyline fill="none" stroke="#c800d2" points="585.6,619.5 585.4,620.2 585.3,620.9 585.1,621.5 584.9,622.2 584.6,622.9 584.3,623.6 584.0,624.2 583.6,624.9 583.2,625.6 582.8,626.2 582.3,626.9 581.8,627.6 581.3,628.2 580.7,628.9 580.1,629.6 579.5,630.2 578.8,630.9 578.1,631.6 577.4,632.2 576.6,632.9 575.8,633.6 575.0,634.2 574.1,634.9 573.2,635.6 572.3,636.2 571.3,636.9 570.3,637.6 569.3,638.2 568.2,638.9 567.1,639.6 566.0,640.2 564.8,640.9 563.6,641.6 562.4,642.2 561.1,642.9 559.8,643.6 558.5,644.2 557.2,644.9 555.8,645.6 554.4,646.2 552.9,646.9 551.4,647.6 549.9,648.2 548.4,648.9 546.8,649.6 545.2,650.3 543.6,650.9 542.0,651.6 540.3,652.3 538.6,652.9 536.8,653.6 535.1,654.3 533.3,654.9 531.4,655.6 529.6,656.3 527.7,656.9 525.8,657.6 523.9,658.3 521.9,658.9 519.9,659.6 517.9,660.3 515.9,660.9 513.8,661.6 511.7,662.3 509.6,662.9 507.5,663.6 505.3,664.3 503.1,664.9 500.9,665.6 498.7,666.3 496.4,666.9 494.2,667.6 491.9,668.3 489.5,668.9 487.2,669.6 484.8,670.3 482.4,670.9 480.0,671.6 477.6,672.3 475.2,672.9 472.7,673.6 470.2,674.3 467.7,674.9 465.2,675.6 462.7,676.3 460.1,677.0 457.5,677.6 454.9,678.3 452.3,679.0 449.7,679.6 447.1,680.3 444.4,681.0 441.8,681.6 439.1,682.3 436.4,683.0 433.7,683.6 430.9,684.3 428.2,685.0 425.5,685.6 422.7,686.3 419.9,687.0 417.1,687.6 414.4,688.3 411.5,689.0 408.7,689.6 405.9,690.3 403.1,691.0 400.2,691.6 397.4,692.3 394.5,693.0 391.7,693.6 388.8,694.3 385.9,695.0 383.1,695.6 380.2,696.3 377.3,697.0 374.4,697.6 371.5,698.3 368.6,699.0 365.7,699.6 362.8,700.3 359.8,701.0 356.9,701.6 354.0,702.3 351.1,703.0 348.2,703.7 345.3,704.3 342.3,705.0 339.4,705.7 336.5,706.3 333.6,707.0 330.7,707.7 327.8,708.3 324.9,709.0 322.0,709.7 319.1,710.3 316.2,711.0 313.3,711.7 310.4,712.3 307.5,713.0 304.7,713.7 301.8,714.3 298.9,715.0 296.1,715.7 293.3,716.3 290.4,717.0 287.6,717.7 284.8,718.3 282.0,719.0 279.2,719.7 276.4,720.3 273.6,721.0 270.8,721.7 268.1,722.3 265.4,723.0 262.6,723.7 259.9,724.3 257.2,725.0 254.5,725.7 251.8,726.3 249.2,727.0 246.5,727.7 243.9,728.3 241.3,729.0 238.7,729.7 236.1,730.4 233.5,731.0 231.0,731.7 228.5,732.4 226.0,733.0 223.5,733.7 221.0,734.4 218.5,735.0 216.1,735.7 213.7,736.4 211.3,737.0 208.9,737.7 206.5,738.4 204.2,739.0 201.9,739.7 199.6,740.4 197.3,741.0 195.1,741.7 192.8,742.4 190.6,743.0 188.5,743.7 186.3,744.4 184.2,745.0 182.1,745.7 180.0,746.4 177.9,747.0 175.9,747.7 173.9,748.4 171.9,749.0 169.9,749.7 168.0,750.4 166.1,751.0 164.2,751.7 162.4,752.4 160.5,753.0 158.7,753.7 157.0,754.4"/>
</g>
<rect x="335.9" y="57.4" width="23.6" height="690.3" fill="#aaaaaa"/>
<g stroke="#fff" stroke-width="1.3"><line stroke-width="1.5" x1="347.6" y1="57.4" x2="347.6" y2="747.7"/>
<line x1="342.6" y1="57.4" x2="352.6" y2="57.4"/>
<line x1="342.6" y1="79.7" x2="352.6" y2="79.7"/>
<line x1="342.6" y1="101.9" x2="352.6" y2="101.9"/>
<line x1="342.6" y1="124.2" x2="352.6" y2="124.2"/>
<line x1="342.6" y1="146.5" x2="352.6" y2="146.5"/>
<line x1="342.6" y1="168.7" x2="352.6" y2="168.7"/>
<line x1="342.6" y1="191.0" x2="352.6" y2="191.0"/>
<line x1="342.6" y1="213.3" x2="352.6" y2="213.3"/>
<line x1="342.6" y1="235.5" x2="352.6" y2="235.5"/>
<line x1="342.6" y1="257.8" x2="352.6" y2="257.8"/>
<line x1="342.6" y1="280.1" x2="352.6" y2="280.1"/>
<line x1="342.6" y1="302.3" x2="352.6" y2="302.3"/>
<line x1="342.6" y1="324.6" x2="352.6" y2="324.6"/>
<line x1="342.6" y1="346.9" x2="352.6" y2="346.9"/>
<line x1="342.6" y1="369.1" x2="352.6" y2="369.1"/>
<line x1="342.6" y1="391.4" x2="352.6" y2="391.4"/>
<line x1="342.6" y1="413.7" x2="352.6" y2="413.7"/>
<line x1="342.6" y1="436.0" x2="352.6" y2="436.0"/>
<line x1="342.6" y1="458.2" x2="352.6" y2="458.2"/>
<line x1="342.6" y1="480.5" x2="352.6" y2="480.5"/>
<line x1="342.6" y1="502.8" x2="352.6" y2="502.8"/>
<line x1="342.6" y1="525.0" x2="352.6" y2="525.0"/>
<line x1="342.6" y1="547.3" x2="352.6" y2="547.3"/>
<line x1="342.6" y1="569.6" x2="352.6" y2="569.6"/>
<line x1="342.6" y1="591.8" x2="352.6" y2="591.8"/>
<line x1="342.6" y1="614.1" x2="352.6" y2="614.1"/>
<line x1="342.6" y1="636.4" x2="352.6" y2="636.4"/>
<line x1="342.6" y1="658.6" x2="352.6" y2="658.6"/>
<line x1="342.6" y1="680.9" x2="352.6" y2="680.9"/>
<line x1="342.6" y1="703.2" x2="352.6" y2="703.2"/>
<line x1="342.6" y1="725.4" x2="352.6" y2="725.4"/>
<line x1="342.6" y1="747.7" x2="352.6" y2="747.7"/>
</g>
<g clip-path="url(#cp)" stroke-width="2.3" stroke-linejoin="round" stroke-linecap="butt">
<polyline fill="none" stroke="#0000ff" points="327.6,52.9 329.0,53.1 330.5,53.3 332.0,53.5 333.4,53.7 334.9,53.8 336.4,54.0 338.0,54.2 339.5,54.4 341.0,54.5 342.5,54.7 344.1,54.9 345.6,55.1 347.1,55.3 348.7,55.4 350.2,55.6 351.7,55.8 353.3,56.0 354.8,56.2 356.3,56.3 357.9,56.5 359.4,56.7 360.9,56.9 362.4,57.0 363.8,57.2 365.3,57.4 366.8,57.6 368.2,57.8 369.6,57.9 371.1,58.1 372.5,58.3 373.8,58.5 375.2,58.6 376.5,58.8 377.9,59.0 379.2,59.2 380.4,59.4 381.7,59.5 382.9,59.7 384.1,59.9 385.3,60.1 386.5,60.2 387.6,60.4 388.7,60.6 389.8,60.8 390.8,61.0 391.8,61.1 392.8,61.3 393.7,61.5 394.7,61.7 395.5,61.9 396.4,62.0 397.2,62.2 398.0,62.4 398.7,62.6 399.4,62.7 400.1,62.9 400.7,63.1 401.3,63.3 401.9,63.5 402.4,63.6 402.8,63.8 403.3,64.0 403.7,64.2 404.0,64.3 404.4,64.5 404.6,64.7 404.9,64.9 405.1,65.1 405.2,65.2 405.4,65.4 405.4,65.6 405.5,65.8 405.5,65.9"/>
<polyline fill="none" stroke="#0000ff" points="289.9,87.0 290.0,87.1 290.1,87.3 290.2,87.5 290.4,87.7 290.6,87.9 290.8,88.0 291.1,88.2 291.5,88.4 291.8,88.6 292.3,88.7 292.7,88.9 293.2,89.1 293.7,89.3 294.3,89.5 294.9,89.6 295.5,89.8 296.2,90.0 296.9,90.2 297.7,90.4 298.5,90.5 299.3,90.7 300.2,90.9 301.0,91.1 302.0,91.2 302.9,91.4 303.9,91.6 304.9,91.8 306.0,92.0 307.1,92.1 308.2,92.3 309.3,92.5 310.5,92.7 311.7,92.8 312.9,93.0 314.1,93.2 315.4,93.4 316.7,93.6 318.0,93.7 319.3,93.9 320.7,94.1 322.0,94.3 323.4,94.4 324.8,94.6 326.2,94.8 327.7,95.0 329.1,95.2 330.6,95.3 332.1,95.5 333.5,95.7 335.0,95.9 336.5,96.1 338.1,96.2 339.6,96.4 341.1,96.6 342.6,96.8 344.2,96.9 345.7,97.1 347.2,97.3 348.8,97.5 350.3,97.7 351.9,97.8 353.4,98.0 354.9,98.2 356.4,98.4 358.0,98.5 359.5,98.7 361.0,98.9 362.5,99.1 363.9,99.3 365.4,99.4 366.9,99.6 368.3,99.8 369.7,100.0 371.2,100.1 372.6,100.3 373.9,100.5 375.3,100.7 376.6,100.9 378.0,101.0 379.3,101.2 380.5,101.4 381.8,101.6 383.0,101.8 384.2,101.9 385.4,102.1 386.6,102.3 387.7,102.5 388.8,102.6 389.8,102.8 390.9,103.0 391.9,103.2 392.9,103.4 393.8,103.5 394.7,103.7 395.6,103.9 396.4,104.1 397.2,104.2 398.0,104.4 398.8,104.6 399.5,104.8 400.1,105.0 400.8,105.1 401.3,105.3 401.9,105.5 402.4,105.7 402.9,105.8 403.3,106.0 403.7,106.2 404.1,106.4 404.4,106.6 404.7,106.7 404.9,106.9 405.1,107.1 405.2,107.3 405.4,107.5 405.4,107.6 405.5,107.8 405.5,108.0"/>
<polyline fill="none" stroke="#0000ff" points="289.9,129.0 290.0,129.2 290.1,129.4 290.2,129.5 290.4,129.7 290.6,129.9 290.9,130.1 291.2,130.3 291.5,130.4 291.9,130.6 292.3,130.8 292.7,131.0 293.2,131.1 293.8,131.3 294.3,131.5 294.9,131.7 295.6,131.9 296.3,132.0 297.0,132.2 297.7,132.4 298.5,132.6 299.4,132.7 300.2,132.9 301.1,133.1 302.0,133.3 303.0,133.5 304.0,133.6 305.0,133.8 306.1,134.0 307.1,134.2 308.3,134.3 309.4,134.5 310.6,134.7 311.7,134.9 313.0,135.1 314.2,135.2 315.5,135.4 316.8,135.6 318.1,135.8 319.4,136.0 320.8,136.1 322.1,136.3 323.5,136.5 324.9,136.7 326.3,136.8 327.8,137.0 329.2,137.2 330.7,137.4 332.2,137.6 333.7,137.7 335.1,137.9 336.7,138.1 338.2,138.3 339.7,138.4 341.2,138.6 342.7,138.8 344.3,139.0 345.8,139.2 347.4,139.3 348.9,139.5 350.4,139.7 352.0,139.9 353.5,140.0 355.0,140.2 356.6,140.4 358.1,140.6 359.6,140.8 361.1,140.9 362.6,141.1 364.1,141.3 365.5,141.5 367.0,141.7 368.4,141.8 369.9,142.0 371.3,142.2 372.7,142.4 374.0,142.5 375.4,142.7 376.7,142.9 378.1,143.1 379.4,143.3 380.6,143.4 381.9,143.6 383.1,143.8 384.3,144.0 385.5,144.1 386.6,144.3 387.8,144.5 388.9,144.7 389.9,144.9 391.0,145.0 392.0,145.2 392.9,145.4 393.9,145.6 394.8,145.7 395.7,145.9 396.5,146.1 397.3,146.3 398.1,146.5 398.8,146.6 399.5,146.8 400.2,147.0 400.8,147.2 401.4,147.4 401.9,147.5 402.4,147.7 402.9,147.9 403.3,148.1 403.7,148.2 404.1,148.4 404.4,148.6 404.7,148.8 404.9,149.0 405.1,149.1 405.3,149.3 405.4,149.5 405.4,149.7 405.5,149.8 405.5,150.0"/>
<polyline fill="none" stroke="#0000ff" points="289.9,171.0 290.0,171.2 290.1,171.4 290.2,171.6 290.4,171.8 290.6,171.9 290.9,172.1 291.2,172.3 291.5,172.5 291.9,172.6 292.3,172.8 292.8,173.0 293.3,173.2 293.8,173.4 294.4,173.5 295.0,173.7 295.6,173.9 296.3,174.1 297.0,174.2 297.8,174.4 298.6,174.6 299.4,174.8 300.3,175.0 301.2,175.1 302.1,175.3 303.1,175.5 304.1,175.7 305.1,175.8 306.1,176.0 307.2,176.2 308.3,176.4 309.5,176.6 310.6,176.7 311.8,176.9 313.1,177.1 314.3,177.3 315.6,177.5 316.9,177.6 318.2,177.8 319.5,178.0 320.9,178.2 322.2,178.3 323.6,178.5 325.0,178.7 326.4,178.9 327.9,179.1 329.3,179.2 330.8,179.4 332.3,179.6 333.8,179.8 335.3,179.9 336.8,180.1 338.3,180.3 339.8,180.5 341.3,180.7 342.9,180.8 344.4,181.0 345.9,181.2 347.5,181.4 349.0,181.5 350.5,181.7 352.1,181.9 353.6,182.1 355.1,182.3 356.7,182.4 358.2,182.6 359.7,182.8 361.2,183.0 362.7,183.2 364.2,183.3 365.6,183.5 367.1,183.7 368.5,183.9 370.0,184.0 371.4,184.2 372.8,184.4 374.1,184.6 375.5,184.8 376.8,184.9 378.2,185.1 379.4,185.3 380.7,185.5 382.0,185.6 383.2,185.8 384.4,186.0 385.6,186.2 386.7,186.4 387.8,186.5 388.9,186.7 390.0,186.9 391.0,187.1 392.0,187.2 393.0,187.4 393.9,187.6 394.8,187.8 395.7,188.0 396.6,188.1 397.4,188.3 398.1,188.5 398.9,188.7 399.6,188.9 400.2,189.0 400.8,189.2 401.4,189.4 402.0,189.6 402.5,189.7 402.9,189.9 403.4,190.1 403.8,190.3 404.1,190.5 404.4,190.6 404.7,190.8 404.9,191.0 405.1,191.2 405.3,191.3 405.4,191.5 405.4,191.7 405.5,191.9 405.5,192.1"/>
<polyline fill="none" stroke="#0000ff" points="289.9,213.1 290.0,213.3 290.1,213.4 290.2,213.6 290.4,213.8 290.6,214.0 290.9,214.1 291.2,214.3 291.5,214.5 291.9,214.7 292.3,214.9 292.8,215.0 293.3,215.2 293.8,215.4 294.4,215.6 295.0,215.7 295.7,215.9 296.4,216.1 297.1,216.3 297.9,216.5 298.7,216.6 299.5,216.8 300.3,217.0 301.2,217.2 302.2,217.4 303.1,217.5 304.1,217.7 305.2,217.9 306.2,218.1 307.3,218.2 308.4,218.4 309.6,218.6 310.7,218.8 311.9,219.0 313.1,219.1 314.4,219.3 315.7,219.5 316.9,219.7 318.3,219.8 319.6,220.0 320.9,220.2 322.3,220.4 323.7,220.6 325.1,220.7 326.5,220.9 328.0,221.1 329.4,221.3 330.9,221.4 332.4,221.6 333.9,221.8 335.4,222.0 336.9,222.2 338.4,222.3 339.9,222.5 341.4,222.7 343.0,222.9 344.5,223.1 346.0,223.2 347.6,223.4 349.1,223.6 350.7,223.8 352.2,223.9 353.7,224.1 355.2,224.3 356.8,224.5 358.3,224.7 359.8,224.8 361.3,225.0 362.8,225.2 364.3,225.4 365.7,225.5 367.2,225.7 368.6,225.9 370.1,226.1 371.5,226.3 372.9,226.4 374.2,226.6 375.6,226.8 376.9,227.0 378.2,227.1 379.5,227.3 380.8,227.5 382.1,227.7 383.3,227.9 384.5,228.0 385.7,228.2 386.8,228.4 387.9,228.6 389.0,228.8 390.1,228.9 391.1,229.1 392.1,229.3 393.1,229.5 394.0,229.6 394.9,229.8 395.8,230.0 396.6,230.2 397.4,230.4 398.2,230.5 398.9,230.7 399.6,230.9 400.3,231.1 400.9,231.2 401.5,231.4 402.0,231.6 402.5,231.8 403.0,232.0 403.4,232.1 403.8,232.3 404.1,232.5 404.5,232.7 404.7,232.8 404.9,233.0 405.1,233.2 405.3,233.4 405.4,233.6 405.4,233.7 405.5,233.9 405.5,234.1"/>
<polyline fill="none" stroke="#0000ff" points="290.0,255.1 290.0,255.3 290.1,255.5 290.3,255.6 290.4,255.8 290.7,256.0 290.9,256.2 291.2,256.4 291.6,256.5 292.0,256.7 292.4,256.9 292.8,257.1 293.3,257.3 293.9,257.4 294.5,257.6 295.1,257.8 295.7,258.0 296.4,258.1 297.2,258.3 297.9,258.5 298.7,258.7 299.5,258.9 300.4,259.0 301.3,259.2 302.2,259.4 303.2,259.6 304.2,259.7 305.2,259.9 306.3,260.1 307.4,260.3 308.5,260.5 309.6,260.6 310.8,260.8 312.0,261.0 313.2,261.2 314.5,261.3 315.7,261.5 317.0,261.7 318.4,261.9 319.7,262.1 321.0,262.2 322.4,262.4 323.8,262.6 325.2,262.8 326.6,263.0 328.1,263.1 329.5,263.3 331.0,263.5 332.5,263.7 334.0,263.8 335.5,264.0 337.0,264.2 338.5,264.4 340.0,264.6 341.5,264.7 343.1,264.9 344.6,265.1 346.2,265.3 347.7,265.4 349.2,265.6 350.8,265.8 352.3,266.0 353.8,266.2 355.4,266.3 356.9,266.5 358.4,266.7 359.9,266.9 361.4,267.0 362.9,267.2 364.4,267.4 365.8,267.6 367.3,267.8 368.7,267.9 370.2,268.1 371.6,268.3 373.0,268.5 374.3,268.7 375.7,268.8 377.0,269.0 378.3,269.2 379.6,269.4 380.9,269.5 382.2,269.7 383.4,269.9 384.6,270.1 385.7,270.3 386.9,270.4 388.0,270.6 389.1,270.8 390.2,271.0 391.2,271.1 392.2,271.3 393.1,271.5 394.1,271.7 395.0,271.9 395.8,272.0 396.7,272.2 397.5,272.4 398.2,272.6 399.0,272.7 399.7,272.9 400.3,273.1 400.9,273.3 401.5,273.5 402.0,273.6 402.5,273.8 403.0,274.0 403.4,274.2 403.8,274.4 404.2,274.5 404.5,274.7 404.7,274.9 405.0,275.1 405.1,275.2 405.3,275.4 405.4,275.6 405.4,275.8 405.5,276.0"/>
<polyline fill="none" stroke="#0000ff" points="289.9,297.0 290.0,297.2 290.0,297.3 290.1,297.5 290.3,297.7 290.5,297.9 290.7,298.0 290.9,298.2 291.3,298.4 291.6,298.6 292.0,298.8 292.4,298.9 292.9,299.1 293.4,299.3 293.9,299.5 294.5,299.6 295.1,299.8 295.8,300.0 296.5,300.2 297.2,300.4 298.0,300.5 298.8,300.7 299.6,300.9 300.5,301.1 301.4,301.2 302.3,301.4 303.3,301.6 304.3,301.8 305.3,302.0 306.4,302.1 307.5,302.3 308.6,302.5 309.7,302.7 310.9,302.8 312.1,303.0 313.3,303.2 314.6,303.4 315.8,303.6 317.1,303.7 318.5,303.9 319.8,304.1 321.1,304.3 322.5,304.5 323.9,304.6 325.3,304.8 326.8,305.0 328.2,305.2 329.6,305.3 331.1,305.5 332.6,305.7 334.1,305.9 335.6,306.1 337.1,306.2 338.6,306.4 340.1,306.6 341.7,306.8 343.2,306.9 344.7,307.1 346.3,307.3 347.8,307.5 349.3,307.7 350.9,307.8 352.4,308.0 353.9,308.2 355.5,308.4 357.0,308.5 358.5,308.7 360.0,308.9 361.5,309.1 363.0,309.3 364.5,309.4 365.9,309.6 367.4,309.8 368.8,310.0 370.3,310.2 371.7,310.3 373.1,310.5 374.4,310.7 375.8,310.9 377.1,311.0 378.4,311.2 379.7,311.4 381.0,311.6 382.2,311.8 383.5,311.9 384.7,312.1 385.8,312.3 387.0,312.5 388.1,312.6 389.2,312.8 390.2,313.0 391.3,313.2 392.2,313.4 393.2,313.5 394.1,313.7 395.0,313.9 395.9,314.1 396.7,314.2 397.5,314.4 398.3,314.6 399.0,314.8 399.7,315.0 400.4,315.1 401.0,315.3 401.5,315.5 402.1,315.7 402.6,315.9 403.0,316.0 403.5,316.2 403.8,316.4 404.2,316.6 404.5,316.7 404.8,316.9 405.0,317.1 405.2,317.3 405.3,317.5 405.4,317.6 405.5,317.8 405.5,318.0"/>
<polyline fill="none" stroke="#0000ff" points="289.9,339.0 290.0,339.2 290.0,339.4 290.1,339.5 290.3,339.7 290.5,339.9 290.7,340.1 291.0,340.3 291.3,340.4 291.6,340.6 292.0,340.8 292.4,341.0 292.9,341.1 293.4,341.3 294.0,341.5 294.6,341.7 295.2,341.9 295.8,342.0 296.5,342.2 297.3,342.4 298.0,342.6 298.8,342.7 299.7,342.9 300.5,343.1 301.4,343.3 302.4,343.5 303.4,343.6 304.4,343.8 305.4,344.0 306.5,344.2 307.5,344.4 308.7,344.5 309.8,344.7 311.0,344.9 312.2,345.1 313.4,345.2 314.7,345.4 315.9,345.6 317.2,345.8 318.5,346.0 319.9,346.1 321.2,346.3 322.6,346.5 324.0,346.7 325.4,346.8 326.9,347.0 328.3,347.2 329.8,347.4 331.2,347.6 332.7,347.7 334.2,347.9 335.7,348.1 337.2,348.3 338.7,348.4 340.2,348.6 341.8,348.8 343.3,349.0 344.8,349.2 346.4,349.3 347.9,349.5 349.5,349.7 351.0,349.9 352.5,350.1 354.1,350.2 355.6,350.4 357.1,350.6 358.6,350.8 360.1,350.9 361.6,351.1 363.1,351.3 364.6,351.5 366.1,351.7 367.5,351.8 368.9,352.0 370.4,352.2 371.8,352.4 373.2,352.5 374.5,352.7 375.9,352.9 377.2,353.1 378.5,353.3 379.8,353.4 381.1,353.6 382.3,353.8 383.5,354.0 384.7,354.1 385.9,354.3 387.1,354.5 388.2,354.7 389.2,354.9 390.3,355.0 391.3,355.2 392.3,355.4 393.3,355.6 394.2,355.8 395.1,355.9 396.0,356.1 396.8,356.3 397.6,356.5 398.3,356.6 399.1,356.8 399.8,357.0 400.4,357.2 401.0,357.4 401.6,357.5 402.1,357.7 402.6,357.9 403.1,358.1 403.5,358.2 403.9,358.4 404.2,358.6 404.5,358.8 404.8,359.0 405.0,359.1 405.2,359.3 405.3,359.5 405.4,359.7 405.5,359.8 405.5,360.0"/>
<polyline fill="none" stroke="#0000ff" points="289.9,381.0 290.0,381.2 290.0,381.4 290.1,381.6 290.3,381.8 290.5,381.9 290.7,382.1 291.0,382.3 291.3,382.5 291.7,382.6 292.0,382.8 292.5,383.0 293.0,383.2 293.5,383.4 294.0,383.5 294.6,383.7 295.2,383.9 295.9,384.1 296.6,384.3 297.3,384.4 298.1,384.6 298.9,384.8 299.7,385.0 300.6,385.1 301.5,385.3 302.5,385.5 303.4,385.7 304.4,385.9 305.5,386.0 306.5,386.2 307.6,386.4 308.7,386.6 309.9,386.7 311.1,386.9 312.3,387.1 313.5,387.3 314.8,387.5 316.0,387.6 317.3,387.8 318.6,388.0 320.0,388.2 321.3,388.3 322.7,388.5 324.1,388.7 325.5,388.9 327.0,389.1 328.4,389.2 329.9,389.4 331.3,389.6 332.8,389.8 334.3,390.0 335.8,390.1 337.3,390.3 338.8,390.5 340.4,390.7 341.9,390.8 343.4,391.0 344.9,391.2 346.5,391.4 348.0,391.6 349.6,391.7 351.1,391.9 352.6,392.1 354.2,392.3 355.7,392.4 357.2,392.6 358.7,392.8 360.2,393.0 361.7,393.2 363.2,393.3 364.7,393.5 366.2,393.7 367.6,393.9 369.0,394.0 370.5,394.2 371.9,394.4 373.3,394.6 374.6,394.8 376.0,394.9 377.3,395.1 378.6,395.3 379.9,395.5 381.2,395.7 382.4,395.8 383.6,396.0 384.8,396.2 386.0,396.4 387.1,396.5 388.2,396.7 389.3,396.9 390.4,397.1 391.4,397.3 392.4,397.4 393.3,397.6 394.3,397.8 395.2,398.0 396.0,398.1 396.9,398.3 397.6,398.5 398.4,398.7 399.1,398.9 399.8,399.0 400.4,399.2 401.1,399.4 401.6,399.6 402.2,399.7 402.7,399.9 403.1,400.1 403.5,400.3 403.9,400.5 404.2,400.6 404.5,400.8 404.8,401.0 405.0,401.2 405.2,401.4 405.3,401.5 405.4,401.7 405.5,401.9 405.5,402.1"/>
<polyline fill="none" stroke="#0000ff" points="289.9,423.1 290.0,423.3 290.0,423.4 290.1,423.6 290.3,423.8 290.5,424.0 290.7,424.2 291.0,424.3 291.3,424.5 291.7,424.7 292.1,424.9 292.5,425.0 293.0,425.2 293.5,425.4 294.1,425.6 294.6,425.8 295.3,425.9 295.9,426.1 296.6,426.3 297.4,426.5 298.1,426.6 299.0,426.8 299.8,427.0 300.7,427.2 301.6,427.4 302.5,427.5 303.5,427.7 304.5,427.9 305.5,428.1 306.6,428.2 307.7,428.4 308.8,428.6 310.0,428.8 311.2,429.0 312.4,429.1 313.6,429.3 314.8,429.5 316.1,429.7 317.4,429.9 318.7,430.0 320.1,430.2 321.4,430.4 322.8,430.6 324.2,430.7 325.6,430.9 327.1,431.1 328.5,431.3 330.0,431.5 331.4,431.6 332.9,431.8 334.4,432.0 335.9,432.2 337.4,432.3 338.9,432.5 340.5,432.7 342.0,432.9 343.5,433.1 345.1,433.2 346.6,433.4 348.1,433.6 349.7,433.8 351.2,433.9 352.7,434.1 354.3,434.3 355.8,434.5 357.3,434.7 358.8,434.8 360.3,435.0 361.8,435.2 363.3,435.4 364.8,435.5 366.3,435.7 367.7,435.9 369.1,436.1 370.6,436.3 372.0,436.4 373.4,436.6 374.7,436.8 376.1,437.0 377.4,437.2 378.7,437.3 380.0,437.5 381.3,437.7 382.5,437.9 383.7,438.0 384.9,438.2 386.1,438.4 387.2,438.6 388.3,438.8 389.4,438.9 390.5,439.1 391.5,439.3 392.5,439.5 393.4,439.6 394.3,439.8 395.2,440.0 396.1,440.2 396.9,440.4 397.7,440.5 398.5,440.7 399.2,440.9 399.8,441.1 400.5,441.2 401.1,441.4 401.7,441.6 402.2,441.8 402.7,442.0 403.1,442.1 403.6,442.3 403.9,442.5 404.3,442.7 404.6,442.9 404.8,443.0 405.0,443.2 405.2,443.4 405.3,443.6 405.4,443.7 405.5,443.9 405.5,444.1"/>
<polyline fill="none" stroke="#0000ff" points="289.9,465.1 290.0,465.3 290.0,465.5 290.2,465.7 290.3,465.8 290.5,466.0 290.8,466.2 291.0,466.4 291.3,466.5 291.7,466.7 292.1,466.9 292.5,467.1 293.0,467.3 293.5,467.4 294.1,467.6 294.7,467.8 295.3,468.0 296.0,468.1 296.7,468.3 297.4,468.5 298.2,468.7 299.0,468.9 299.9,469.0 300.7,469.2 301.6,469.4 302.6,469.6 303.6,469.7 304.6,469.9 305.6,470.1 306.7,470.3 307.8,470.5 308.9,470.6 310.1,470.8 311.2,471.0 312.4,471.2 313.7,471.4 314.9,471.5 316.2,471.7 317.5,471.9 318.8,472.1 320.2,472.2 321.5,472.4 322.9,472.6 324.3,472.8 325.7,473.0 327.2,473.1 328.6,473.3 330.1,473.5 331.5,473.7 333.0,473.8 334.5,474.0 336.0,474.2 337.5,474.4 339.0,474.6 340.6,474.7 342.1,474.9 343.6,475.1 345.2,475.3 346.7,475.4 348.2,475.6 349.8,475.8 351.3,476.0 352.9,476.2 354.4,476.3 355.9,476.5 357.4,476.7 358.9,476.9 360.4,477.1 361.9,477.2 363.4,477.4 364.9,477.6 366.4,477.8 367.8,477.9 369.3,478.1 370.7,478.3 372.1,478.5 373.5,478.7 374.8,478.8 376.2,479.0 377.5,479.2 378.8,479.4 380.1,479.5 381.4,479.7 382.6,479.9 383.8,480.1 385.0,480.3 386.2,480.4 387.3,480.6 388.4,480.8 389.5,481.0 390.5,481.1 391.5,481.3 392.5,481.5 393.5,481.7 394.4,481.9 395.3,482.0 396.1,482.2 397.0,482.4 397.8,482.6 398.5,482.8 399.2,482.9 399.9,483.1 400.5,483.3 401.1,483.5 401.7,483.6 402.2,483.8 402.7,484.0 403.2,484.2 403.6,484.4 404.0,484.5 404.3,484.7 404.6,484.9 404.8,485.1 405.0,485.2 405.2,485.4 405.3,485.6 405.4,485.8 405.5,486.0 405.5,486.1"/>
<polyline fill="none" stroke="#0000ff" points="289.9,507.2 290.0,507.3 290.1,507.5 290.2,507.7 290.3,507.9 290.5,508.0 290.8,508.2 291.1,508.4 291.4,508.6 291.7,508.8 292.1,508.9 292.6,509.1 293.1,509.3 293.6,509.5 294.1,509.6 294.7,509.8 295.4,510.0 296.0,510.2 296.7,510.4 297.5,510.5 298.3,510.7 299.1,510.9 299.9,511.1 300.8,511.3 301.7,511.4 302.7,511.6 303.6,511.8 304.7,512.0 305.7,512.1 306.8,512.3 307.9,512.5 309.0,512.7 310.1,512.9 311.3,513.0 312.5,513.2 313.8,513.4 315.0,513.6 316.3,513.7 317.6,513.9 318.9,514.1 320.3,514.3 321.6,514.5 323.0,514.6 324.4,514.8 325.8,515.0 327.3,515.2 328.7,515.3 330.2,515.5 331.6,515.7 333.1,515.9 334.6,516.1 336.1,516.2 337.6,516.4 339.2,516.6 340.7,516.8 342.2,517.0 343.7,517.1 345.3,517.3 346.8,517.5 348.4,517.7 349.9,517.8 351.4,518.0 353.0,518.2 354.5,518.4 356.0,518.6 357.5,518.7 359.1,518.9 360.6,519.1 362.1,519.3 363.5,519.4 365.0,519.6 366.5,519.8 367.9,520.0 369.4,520.2 370.8,520.3 372.2,520.5 373.6,520.7 374.9,520.9 376.3,521.0 377.6,521.2 378.9,521.4 380.2,521.6 381.4,521.8 382.7,521.9 383.9,522.1 385.1,522.3 386.2,522.5 387.4,522.7 388.5,522.8 389.6,523.0 390.6,523.2 391.6,523.4 392.6,523.5 393.6,523.7 394.5,523.9 395.4,524.1 396.2,524.3 397.0,524.4 397.8,524.6 398.6,524.8 399.3,525.0 399.9,525.1 400.6,525.3 401.2,525.5 401.7,525.7 402.3,525.9 402.8,526.0 403.2,526.2 403.6,526.4 404.0,526.6 404.3,526.7 404.6,526.9 404.8,527.1 405.0,527.3 405.2,527.5 405.3,527.6 405.4,527.8 405.5,528.0 405.5,528.2"/>
<polyline fill="none" stroke="#0000ff" points="289.9,549.2 290.0,549.4 290.1,549.5 290.2,549.7 290.3,549.9 290.5,550.1 290.8,550.3 291.1,550.4 291.4,550.6 291.8,550.8 292.2,551.0 292.6,551.2 293.1,551.3 293.6,551.5 294.2,551.7 294.8,551.9 295.4,552.0 296.1,552.2 296.8,552.4 297.5,552.6 298.3,552.8 299.1,552.9 300.0,553.1 300.9,553.3 301.8,553.5 302.7,553.6 303.7,553.8 304.7,554.0 305.8,554.2 306.8,554.4 307.9,554.5 309.1,554.7 310.2,554.9 311.4,555.1 312.6,555.2 313.9,555.4 315.1,555.6 316.4,555.8 317.7,556.0 319.0,556.1 320.4,556.3 321.7,556.5 323.1,556.7 324.5,556.9 325.9,557.0 327.4,557.2 328.8,557.4 330.3,557.6 331.8,557.7 333.2,557.9 334.7,558.1 336.2,558.3 337.7,558.5 339.3,558.6 340.8,558.8 342.3,559.0 343.9,559.2 345.4,559.3 346.9,559.5 348.5,559.7 350.0,559.9 351.5,560.1 353.1,560.2 354.6,560.4 356.1,560.6 357.7,560.8 359.2,560.9 360.7,561.1 362.2,561.3 363.6,561.5 365.1,561.7 366.6,561.8 368.0,562.0 369.5,562.2 370.9,562.4 372.3,562.6 373.7,562.7 375.0,562.9 376.4,563.1 377.7,563.3 379.0,563.4 380.3,563.6 381.5,563.8 382.8,564.0 384.0,564.2 385.2,564.3 386.3,564.5 387.5,564.7 388.6,564.9 389.6,565.0 390.7,565.2 391.7,565.4 392.7,565.6 393.6,565.8 394.5,565.9 395.4,566.1 396.3,566.3 397.1,566.5 397.9,566.6 398.6,566.8 399.3,567.0 400.0,567.2 400.6,567.4 401.2,567.5 401.8,567.7 402.3,567.9 402.8,568.1 403.2,568.3 403.6,568.4 404.0,568.6 404.3,568.8 404.6,569.0 404.9,569.1 405.1,569.3 405.2,569.5 405.3,569.7 405.4,569.9 405.5,570.0 405.5,570.2"/>
<polyline fill="none" stroke="#0000ff" points="289.9,591.2 290.0,591.4 290.1,591.6 290.2,591.8 290.4,591.9 290.6,592.1 290.8,592.3 291.1,592.5 291.4,592.7 291.8,592.8 292.2,593.0 292.6,593.2 293.1,593.4 293.7,593.5 294.2,593.7 294.8,593.9 295.5,594.1 296.1,594.3 296.8,594.4 297.6,594.6 298.4,594.8 299.2,595.0 300.0,595.1 300.9,595.3 301.8,595.5 302.8,595.7 303.8,595.9 304.8,596.0 305.8,596.2 306.9,596.4 308.0,596.6 309.2,596.7 310.3,596.9 311.5,597.1 312.7,597.3 314.0,597.5 315.2,597.6 316.5,597.8 317.8,598.0 319.1,598.2 320.5,598.4 321.8,598.5 323.2,598.7 324.6,598.9 326.0,599.1 327.5,599.2 328.9,599.4 330.4,599.6 331.9,599.8 333.3,600.0 334.8,600.1 336.3,600.3 337.9,600.5 339.4,600.7 340.9,600.8 342.4,601.0 344.0,601.2 345.5,601.4 347.0,601.6 348.6,601.7 350.1,601.9 351.7,602.1 353.2,602.3 354.7,602.4 356.2,602.6 357.8,602.8 359.3,603.0 360.8,603.2 362.3,603.3 363.8,603.5 365.2,603.7 366.7,603.9 368.1,604.1 369.6,604.2 371.0,604.4 372.4,604.6 373.8,604.8 375.1,604.9 376.5,605.1 377.8,605.3 379.1,605.5 380.4,605.7 381.6,605.8 382.9,606.0 384.1,606.2 385.3,606.4 386.4,606.5 387.5,606.7 388.6,606.9 389.7,607.1 390.7,607.3 391.8,607.4 392.7,607.6 393.7,607.8 394.6,608.0 395.5,608.1 396.3,608.3 397.1,608.5 397.9,608.7 398.7,608.9 399.4,609.0 400.0,609.2 400.7,609.4 401.3,609.6 401.8,609.8 402.3,609.9 402.8,610.1 403.3,610.3 403.7,610.5 404.0,610.6 404.3,610.8 404.6,611.0 404.9,611.2 405.1,611.4 405.2,611.5 405.3,611.7 405.4,611.9 405.5,612.1 405.5,612.2"/>
<polyline fill="none" stroke="#0000ff" points="289.9,632.4 290.0,632.6 290.1,632.7 290.2,632.9 290.4,633.1 290.6,633.3 290.9,633.4 291.2,633.6 291.5,633.8 291.9,634.0 292.3,634.2 292.8,634.3 293.3,634.5 293.8,634.7 294.4,634.9 295.0,635.0 295.6,635.2 296.3,635.4 297.0,635.6 297.8,635.8 298.6,635.9 299.4,636.1 300.3,636.3 301.2,636.5 302.1,636.6 303.1,636.8 304.1,637.0 305.1,637.2 306.1,637.4 307.2,637.5 308.3,637.7 309.5,637.9 310.6,638.1 311.8,638.3 313.1,638.4 314.3,638.6 315.6,638.8 316.9,639.0 318.2,639.1 319.5,639.3 320.8,639.5 322.2,639.7 323.6,639.9 325.0,640.0 326.4,640.2 327.9,640.4 329.3,640.6 330.8,640.7 332.3,640.9 333.8,641.1 335.3,641.3 336.8,641.5 338.3,641.6 339.8,641.8 341.3,642.0 342.9,642.2 344.4,642.3 345.9,642.5 347.5,642.7 349.0,642.9 350.5,643.1 352.1,643.2 353.6,643.4 355.1,643.6 356.7,643.8 358.2,644.0 359.7,644.1 361.2,644.3 362.7,644.5 364.2,644.7 365.6,644.8 367.1,645.0 368.5,645.2 370.0,645.4 371.4,645.6 372.8,645.7 374.1,645.9 375.5,646.1 376.8,646.3 378.1,646.4 379.4,646.6 380.7,646.8 382.0,647.0 383.2,647.2 384.4,647.3 385.6,647.5 386.7,647.7 387.8,647.9 388.9,648.0 390.0,648.2 391.0,648.4 392.0,648.6 393.0,648.8 393.9,648.9 394.8,649.1 395.7,649.3 396.6,649.5 397.4,649.6 398.1,649.8 398.9,650.0 399.6,650.2 400.2,650.4 400.8,650.5 401.4,650.7 402.0,650.9 402.5,651.1 402.9,651.3 403.4,651.4 403.8,651.6 404.1,651.8 404.4,652.0 404.7,652.1 404.9,652.3 405.1,652.5 405.3,652.7 405.4,652.9 405.4,653.0 405.5,653.2 405.5,653.4"/>
<polyline fill="none" stroke="#0000ff" points="289.9,674.4 290.0,674.6 290.1,674.8 290.2,674.9 290.4,675.1 290.6,675.3 290.9,675.5 291.2,675.7 291.5,675.8 291.9,676.0 292.3,676.2 292.8,676.4 293.3,676.5 293.8,676.7 294.4,676.9 295.0,677.1 295.7,677.3 296.4,677.4 297.1,677.6 297.9,677.8 298.6,678.0 299.5,678.1 300.3,678.3 301.2,678.5 302.2,678.7 303.1,678.9 304.1,679.0 305.2,679.2 306.2,679.4 307.3,679.6 308.4,679.8 309.5,679.9 310.7,680.1 311.9,680.3 313.1,680.5 314.4,680.6 315.6,680.8 316.9,681.0 318.2,681.2 319.6,681.4 320.9,681.5 322.3,681.7 323.7,681.9 325.1,682.1 326.5,682.2 328.0,682.4 329.4,682.6 330.9,682.8 332.4,683.0 333.9,683.1 335.3,683.3 336.9,683.5 338.4,683.7 339.9,683.8 341.4,684.0 343.0,684.2 344.5,684.4 346.0,684.6 347.6,684.7 349.1,684.9 350.6,685.1 352.2,685.3 353.7,685.5 355.2,685.6 356.8,685.8 358.3,686.0 359.8,686.2 361.3,686.3 362.8,686.5 364.2,686.7 365.7,686.9 367.2,687.1 368.6,687.2 370.0,687.4 371.4,687.6 372.8,687.8 374.2,687.9 375.6,688.1 376.9,688.3 378.2,688.5 379.5,688.7 380.8,688.8 382.0,689.0 383.3,689.2 384.5,689.4 385.6,689.5 386.8,689.7 387.9,689.9 389.0,690.1 390.1,690.3 391.1,690.4 392.1,690.6 393.1,690.8 394.0,691.0 394.9,691.2 395.8,691.3 396.6,691.5 397.4,691.7 398.2,691.9 398.9,692.0 399.6,692.2 400.3,692.4 400.9,692.6 401.5,692.8 402.0,692.9 402.5,693.1 403.0,693.3 403.4,693.5 403.8,693.6 404.1,693.8 404.4,694.0 404.7,694.2 404.9,694.4 405.1,694.5 405.3,694.7 405.4,694.9 405.4,695.1 405.5,695.2 405.5,695.4"/>
<polyline fill="none" stroke="#0000ff" points="290.0,716.4 290.0,716.6 290.1,716.8 290.3,717.0 290.4,717.2 290.7,717.3 290.9,717.5 291.2,717.7 291.6,717.9 292.0,718.0 292.4,718.2 292.8,718.4 293.3,718.6 293.9,718.8 294.5,718.9 295.1,719.1 295.7,719.3 296.4,719.5 297.1,719.6 297.9,719.8 298.7,720.0 299.5,720.2 300.4,720.4 301.3,720.5 302.2,720.7 303.2,720.9 304.2,721.1 305.2,721.3 306.3,721.4 307.4,721.6 308.5,721.8 309.6,722.0 310.8,722.1 312.0,722.3 313.2,722.5 314.5,722.7 315.7,722.9 317.0,723.0 318.3,723.2 319.7,723.4 321.0,723.6 322.4,723.7 323.8,723.9 325.2,724.1 326.6,724.3 328.1,724.5 329.5,724.6 331.0,724.8 332.5,725.0 333.9,725.2 335.4,725.3 337.0,725.5 338.5,725.7 340.0,725.9 341.5,726.1 343.0,726.2 344.6,726.4 346.1,726.6 347.7,726.8 349.2,727.0 350.7,727.1 352.3,727.3 353.8,727.5 355.3,727.7 356.8,727.8 358.4,728.0 359.9,728.2 361.4,728.4 362.9,728.6 364.3,728.7 365.8,728.9 367.3,729.1 368.7,729.3 370.1,729.4 371.5,729.6 372.9,729.8 374.3,730.0 375.7,730.2 377.0,730.3 378.3,730.5 379.6,730.7 380.9,730.9 382.1,731.0 383.3,731.2 384.5,731.4 385.7,731.6 386.9,731.8 388.0,731.9 389.1,732.1 390.1,732.3 391.2,732.5 392.2,732.7 393.1,732.8 394.1,733.0 395.0,733.2 395.8,733.4 396.7,733.5 397.5,733.7 398.2,733.9 398.9,734.1 399.6,734.3 400.3,734.4 400.9,734.6 401.5,734.8 402.0,735.0 402.5,735.1 403.0,735.3 403.4,735.5 403.8,735.7 404.2,735.9 404.5,736.0 404.7,736.2 405.0,736.4 405.1,736.6 405.3,736.7 405.4,736.9 405.4,737.1 405.5,737.3 405.4,737.5"/>
<polyline fill="none" stroke="#ff0000" points="273.7,73.4 273.7,73.7 273.8,73.9 273.9,74.1 274.0,74.3 274.2,74.5 274.4,74.8 274.7,75.0 275.0,75.2 275.3,75.4 275.7,75.7 276.1,75.9 276.5,76.1 277.0,76.3 277.5,76.5 278.1,76.8 278.6,77.0 279.3,77.2 279.9,77.4 280.6,77.7 281.4,77.9 282.1,78.1 282.9,78.3 283.8,78.5 284.7,78.8 285.6,79.0 286.5,79.2 287.5,79.4 288.5,79.7 289.5,79.9 290.6,80.1 291.7,80.3 292.8,80.6 293.9,80.8 295.1,81.0 296.3,81.2 297.6,81.4 298.8,81.7 300.1,81.9 301.4,82.1 302.8,82.3 304.1,82.6 305.5,82.8 306.9,83.0 308.3,83.2 309.8,83.4 311.2,83.7 312.7,83.9 314.2,84.1 315.8,84.3 317.3,84.6 318.8,84.8 320.4,85.0 322.0,85.2 323.6,85.5 325.2,85.7 326.8,85.9 328.5,86.1 330.1,86.3 331.8,86.6 333.4,86.8 335.1,87.0 336.8,87.2 338.5,87.5 340.1,87.7 341.8,87.9 343.5,88.1 345.2,88.3 346.9,88.6 348.6,88.8 350.3,89.0 352.0,89.2 353.7,89.5 355.4,89.7 357.1,89.9 358.8,90.1 360.4,90.3 362.1,90.6 363.8,90.8 365.4,91.0 367.1,91.2 368.7,91.5 370.3,91.7 371.9,91.9 373.5,92.1 375.1,92.4 376.7,92.6 378.2,92.8 379.8,93.0 381.3,93.2 382.8,93.5 384.3,93.7 385.7,93.9 387.2,94.1 388.6,94.4 390.0,94.6 391.4,94.8 392.7,95.0 394.1,95.2 395.4,95.5 396.7,95.7 397.9,95.9 399.2,96.1 400.4,96.4 401.5,96.6 402.7,96.8 403.8,97.0 404.9,97.3 406.0,97.5 407.0,97.7 408.0,97.9 409.0,98.1 409.9,98.4 410.8,98.6 411.7,98.8 412.5,99.0 413.3,99.3 414.1,99.5 414.8,99.7 415.5,99.9 416.2,100.1 416.8,100.4 417.4,100.6 417.9,100.8 418.5,101.0 418.9,101.3 419.4,101.5 419.8,101.7 420.1,101.9 420.5,102.1 420.8,102.4 421.0,102.6 421.2,102.8 421.4,103.0 421.5,103.3 421.6,103.5 421.7,103.7 421.7,103.9"/>
<polyline fill="none" stroke="#ff0000" points="273.7,134.4 273.7,134.7 273.8,134.9 273.9,135.1 274.0,135.3 274.2,135.5 274.4,135.8 274.7,136.0 275.0,136.2 275.3,136.4 275.7,136.7 276.1,136.9 276.5,137.1 277.0,137.3 277.5,137.5 278.1,137.8 278.7,138.0 279.3,138.2 280.0,138.4 280.7,138.7 281.4,138.9 282.2,139.1 283.0,139.3 283.8,139.6 284.7,139.8 285.6,140.0 286.6,140.2 287.5,140.4 288.5,140.7 289.6,140.9 290.6,141.1 291.7,141.3 292.8,141.6 294.0,141.8 295.2,142.0 296.4,142.2 297.6,142.4 298.9,142.7 300.2,142.9 301.5,143.1 302.8,143.3 304.2,143.6 305.6,143.8 307.0,144.0 308.4,144.2 309.9,144.4 311.3,144.7 312.8,144.9 314.3,145.1 315.8,145.3 317.4,145.6 318.9,145.8 320.5,146.0 322.1,146.2 323.7,146.5 325.3,146.7 326.9,146.9 328.6,147.1 330.2,147.3 331.9,147.6 333.5,147.8 335.2,148.0 336.9,148.2 338.5,148.5 340.2,148.7 341.9,148.9 343.6,149.1 345.3,149.3 347.0,149.6 348.7,149.8 350.4,150.0 352.1,150.2 353.8,150.5 355.5,150.7 357.2,150.9 358.8,151.1 360.5,151.4 362.2,151.6 363.8,151.8 365.5,152.0 367.1,152.2 368.8,152.5 370.4,152.7 372.0,152.9 373.6,153.1 375.2,153.4 376.7,153.6 378.3,153.8 379.8,154.0 381.4,154.2 382.9,154.5 384.3,154.7 385.8,154.9 387.3,155.1 388.7,155.4 390.1,155.6 391.5,155.8 392.8,156.0 394.2,156.2 395.5,156.5 396.7,156.7 398.0,156.9 399.2,157.1 400.4,157.4 401.6,157.6 402.8,157.8 403.9,158.0 405.0,158.3 406.0,158.5 407.1,158.7 408.1,158.9 409.0,159.1 410.0,159.4 410.9,159.6 411.7,159.8 412.6,160.0 413.4,160.3 414.1,160.5 414.9,160.7 415.5,160.9 416.2,161.1 416.8,161.4 417.4,161.6 418.0,161.8 418.5,162.0 419.0,162.3 419.4,162.5 419.8,162.7 420.2,162.9 420.5,163.2 420.8,163.4 421.0,163.6 421.2,163.8 421.4,164.0 421.5,164.3 421.6,164.5 421.7,164.7 421.7,164.9"/>
<polyline fill="none" stroke="#ff0000" points="273.7,195.4 273.7,195.7 273.8,195.9 273.9,196.1 274.0,196.3 274.2,196.5 274.4,196.8 274.7,197.0 275.0,197.2 275.3,197.4 275.7,197.7 276.1,197.9 276.6,198.1 277.0,198.3 277.6,198.5 278.1,198.8 278.7,199.0 279.3,199.2 280.0,199.4 280.7,199.7 281.5,199.9 282.2,200.1 283.0,200.3 283.9,200.6 284.8,200.8 285.7,201.0 286.6,201.2 287.6,201.4 288.6,201.7 289.6,201.9 290.7,202.1 291.8,202.3 292.9,202.6 294.1,202.8 295.2,203.0 296.5,203.2 297.7,203.4 299.0,203.7 300.2,203.9 301.6,204.1 302.9,204.3 304.3,204.6 305.6,204.8 307.1,205.0 308.5,205.2 309.9,205.5 311.4,205.7 312.9,205.9 314.4,206.1 315.9,206.3 317.5,206.6 319.0,206.8 320.6,207.0 322.2,207.2 323.8,207.5 325.4,207.7 327.0,207.9 328.6,208.1 330.3,208.3 331.9,208.6 333.6,208.8 335.3,209.0 337.0,209.2 338.6,209.5 340.3,209.7 342.0,209.9 343.7,210.1 345.4,210.3 347.1,210.6 348.8,210.8 350.5,211.0 352.2,211.2 353.9,211.5 355.6,211.7 357.3,211.9 358.9,212.1 360.6,212.4 362.3,212.6 363.9,212.8 365.6,213.0 367.2,213.2 368.9,213.5 370.5,213.7 372.1,213.9 373.7,214.1 375.3,214.4 376.8,214.6 378.4,214.8 379.9,215.0 381.4,215.2 382.9,215.5 384.4,215.7 385.9,215.9 387.3,216.1 388.8,216.4 390.2,216.6 391.5,216.8 392.9,217.0 394.2,217.2 395.5,217.5 396.8,217.7 398.1,217.9 399.3,218.1 400.5,218.4 401.7,218.6 402.8,218.8 403.9,219.0 405.0,219.3 406.1,219.5 407.1,219.7 408.1,219.9 409.1,220.1 410.0,220.4 410.9,220.6 411.8,220.8 412.6,221.0 413.4,221.3 414.2,221.5 414.9,221.7 415.6,221.9 416.2,222.1 416.9,222.4 417.4,222.6 418.0,222.8 418.5,223.0 419.0,223.3 419.4,223.5 419.8,223.7 420.2,223.9 420.5,224.2 420.8,224.4 421.0,224.6 421.2,224.8 421.4,225.0 421.5,225.3 421.6,225.5 421.7,225.7 421.7,225.9"/>
<polyline fill="none" stroke="#ff0000" points="273.7,256.4 273.7,256.7 273.8,256.9 273.9,257.1 274.0,257.3 274.2,257.5 274.5,257.8 274.7,258.0 275.0,258.2 275.3,258.4 275.7,258.7 276.1,258.9 276.6,259.1 277.1,259.3 277.6,259.6 278.2,259.8 278.7,260.0 279.4,260.2 280.1,260.4 280.8,260.7 281.5,260.9 282.3,261.1 283.1,261.3 283.9,261.6 284.8,261.8 285.7,262.0 286.7,262.2 287.6,262.4 288.6,262.7 289.7,262.9 290.7,263.1 291.8,263.3 293.0,263.6 294.1,263.8 295.3,264.0 296.5,264.2 297.8,264.4 299.0,264.7 300.3,264.9 301.6,265.1 303.0,265.3 304.3,265.6 305.7,265.8 307.1,266.0 308.6,266.2 310.0,266.5 311.5,266.7 313.0,266.9 314.5,267.1 316.0,267.3 317.5,267.6 319.1,267.8 320.7,268.0 322.3,268.2 323.9,268.5 325.5,268.7 327.1,268.9 328.7,269.1 330.4,269.3 332.0,269.6 333.7,269.8 335.4,270.0 337.0,270.2 338.7,270.5 340.4,270.7 342.1,270.9 343.8,271.1 345.5,271.3 347.2,271.6 348.9,271.8 350.6,272.0 352.3,272.2 354.0,272.5 355.7,272.7 357.3,272.9 359.0,273.1 360.7,273.4 362.4,273.6 364.0,273.8 365.7,274.0 367.3,274.2 368.9,274.5 370.6,274.7 372.2,274.9 373.8,275.1 375.4,275.4 376.9,275.6 378.5,275.8 380.0,276.0 381.5,276.2 383.0,276.5 384.5,276.7 386.0,276.9 387.4,277.1 388.8,277.4 390.2,277.6 391.6,277.8 393.0,278.0 394.3,278.3 395.6,278.5 396.9,278.7 398.1,278.9 399.4,279.1 400.6,279.4 401.7,279.6 402.9,279.8 404.0,280.0 405.1,280.3 406.1,280.5 407.2,280.7 408.2,280.9 409.1,281.1 410.1,281.4 411.0,281.6 411.8,281.8 412.6,282.0 413.4,282.3 414.2,282.5 414.9,282.7 415.6,282.9 416.3,283.1 416.9,283.4 417.5,283.6 418.0,283.8 418.5,284.0 419.0,284.3 419.4,284.5 419.8,284.7 420.2,284.9 420.5,285.2 420.8,285.4 421.0,285.6 421.2,285.8 421.4,286.0 421.5,286.3 421.6,286.5 421.7,286.7 421.7,286.9"/>
<polyline fill="none" stroke="#ff0000" points="273.7,317.4 273.7,317.7 273.8,317.9 273.9,318.1 274.1,318.3 274.2,318.5 274.5,318.8 274.7,319.0 275.0,319.2 275.4,319.4 275.7,319.7 276.2,319.9 276.6,320.1 277.1,320.3 277.6,320.6 278.2,320.8 278.8,321.0 279.4,321.2 280.1,321.4 280.8,321.7 281.5,321.9 282.3,322.1 283.1,322.3 284.0,322.6 284.9,322.8 285.8,323.0 286.7,323.2 287.7,323.4 288.7,323.7 289.7,323.9 290.8,324.1 291.9,324.3 293.0,324.6 294.2,324.8 295.4,325.0 296.6,325.2 297.8,325.4 299.1,325.7 300.4,325.9 301.7,326.1 303.0,326.3 304.4,326.6 305.8,326.8 307.2,327.0 308.6,327.2 310.1,327.5 311.6,327.7 313.1,327.9 314.6,328.1 316.1,328.3 317.6,328.6 319.2,328.8 320.8,329.0 322.4,329.2 324.0,329.5 325.6,329.7 327.2,329.9 328.8,330.1 330.5,330.3 332.1,330.6 333.8,330.8 335.5,331.0 337.1,331.2 338.8,331.5 340.5,331.7 342.2,331.9 343.9,332.1 345.6,332.4 347.3,332.6 349.0,332.8 350.7,333.0 352.4,333.2 354.1,333.5 355.8,333.7 357.4,333.9 359.1,334.1 360.8,334.4 362.5,334.6 364.1,334.8 365.8,335.0 367.4,335.2 369.0,335.5 370.7,335.7 372.3,335.9 373.9,336.1 375.4,336.4 377.0,336.6 378.6,336.8 380.1,337.0 381.6,337.2 383.1,337.5 384.6,337.7 386.0,337.9 387.5,338.1 388.9,338.4 390.3,338.6 391.7,338.8 393.0,339.0 394.4,339.3 395.7,339.5 396.9,339.7 398.2,339.9 399.4,340.1 400.6,340.4 401.8,340.6 402.9,340.8 404.1,341.0 405.1,341.3 406.2,341.5 407.2,341.7 408.2,341.9 409.2,342.1 410.1,342.4 411.0,342.6 411.9,342.8 412.7,343.0 413.5,343.3 414.2,343.5 415.0,343.7 415.7,343.9 416.3,344.2 416.9,344.4 417.5,344.6 418.1,344.8 418.6,345.0 419.0,345.3 419.5,345.5 419.9,345.7 420.2,345.9 420.5,346.2 420.8,346.4 421.1,346.6 421.3,346.8 421.4,347.0 421.5,347.3 421.6,347.5 421.7,347.7 421.7,347.9"/>
<polyline fill="none" stroke="#ff0000" points="273.7,378.4 273.7,378.7 273.8,378.9 273.9,379.1 274.1,379.3 274.3,379.5 274.5,379.8 274.7,380.0 275.0,380.2 275.4,380.4 275.8,380.7 276.2,380.9 276.6,381.1 277.1,381.3 277.6,381.6 278.2,381.8 278.8,382.0 279.5,382.2 280.1,382.4 280.8,382.7 281.6,382.9 282.4,383.1 283.2,383.3 284.0,383.6 284.9,383.8 285.8,384.0 286.8,384.2 287.7,384.4 288.8,384.7 289.8,384.9 290.9,385.1 292.0,385.3 293.1,385.6 294.3,385.8 295.4,386.0 296.7,386.2 297.9,386.5 299.2,386.7 300.5,386.9 301.8,387.1 303.1,387.3 304.5,387.6 305.9,387.8 307.3,388.0 308.7,388.2 310.2,388.5 311.6,388.7 313.1,388.9 314.6,389.1 316.2,389.3 317.7,389.6 319.3,389.8 320.8,390.0 322.4,390.2 324.0,390.5 325.7,390.7 327.3,390.9 328.9,391.1 330.6,391.3 332.2,391.6 333.9,391.8 335.6,392.0 337.2,392.2 338.9,392.5 340.6,392.7 342.3,392.9 344.0,393.1 345.7,393.4 347.4,393.6 349.1,393.8 350.8,394.0 352.5,394.2 354.2,394.5 355.8,394.7 357.5,394.9 359.2,395.1 360.9,395.4 362.5,395.6 364.2,395.8 365.9,396.0 367.5,396.2 369.1,396.5 370.7,396.7 372.4,396.9 373.9,397.1 375.5,397.4 377.1,397.6 378.6,397.8 380.2,398.0 381.7,398.3 383.2,398.5 384.7,398.7 386.1,398.9 387.6,399.1 389.0,399.4 390.4,399.6 391.8,399.8 393.1,400.0 394.4,400.3 395.7,400.5 397.0,400.7 398.3,400.9 399.5,401.1 400.7,401.4 401.9,401.6 403.0,401.8 404.1,402.0 405.2,402.3 406.3,402.5 407.3,402.7 408.3,402.9 409.2,403.1 410.2,403.4 411.0,403.6 411.9,403.8 412.7,404.0 413.5,404.3 414.3,404.5 415.0,404.7 415.7,404.9 416.3,405.2 417.0,405.4 417.5,405.6 418.1,405.8 418.6,406.0 419.1,406.3 419.5,406.5 419.9,406.7 420.2,406.9 420.5,407.2 420.8,407.4 421.1,407.6 421.3,407.8 421.4,408.0 421.6,408.3 421.6,408.5 421.7,408.7 421.7,408.9"/>
<polyline fill="none" stroke="#ff0000" points="273.7,439.4 273.7,439.7 273.8,439.9 273.9,440.1 274.1,440.3 274.3,440.6 274.5,440.8 274.8,441.0 275.1,441.2 275.4,441.4 275.8,441.7 276.2,441.9 276.7,442.1 277.1,442.3 277.7,442.6 278.2,442.8 278.8,443.0 279.5,443.2 280.2,443.4 280.9,443.7 281.6,443.9 282.4,444.1 283.2,444.3 284.1,444.6 285.0,444.8 285.9,445.0 286.8,445.2 287.8,445.4 288.8,445.7 289.8,445.9 290.9,446.1 292.0,446.3 293.2,446.6 294.3,446.8 295.5,447.0 296.7,447.2 298.0,447.5 299.2,447.7 300.5,447.9 301.9,448.1 303.2,448.3 304.6,448.6 306.0,448.8 307.4,449.0 308.8,449.2 310.3,449.5 311.7,449.7 313.2,449.9 314.7,450.1 316.3,450.3 317.8,450.6 319.4,450.8 320.9,451.0 322.5,451.2 324.1,451.5 325.7,451.7 327.4,451.9 329.0,452.1 330.7,452.4 332.3,452.6 334.0,452.8 335.6,453.0 337.3,453.2 339.0,453.5 340.7,453.7 342.4,453.9 344.1,454.1 345.8,454.4 347.5,454.6 349.2,454.8 350.9,455.0 352.6,455.2 354.2,455.5 355.9,455.7 357.6,455.9 359.3,456.1 361.0,456.4 362.6,456.6 364.3,456.8 365.9,457.0 367.6,457.2 369.2,457.5 370.8,457.7 372.4,457.9 374.0,458.1 375.6,458.4 377.2,458.6 378.7,458.8 380.3,459.0 381.8,459.3 383.3,459.5 384.7,459.7 386.2,459.9 387.6,460.1 389.1,460.4 390.5,460.6 391.8,460.8 393.2,461.0 394.5,461.3 395.8,461.5 397.1,461.7 398.3,461.9 399.6,462.1 400.8,462.4 401.9,462.6 403.1,462.8 404.2,463.0 405.3,463.3 406.3,463.5 407.3,463.7 408.3,463.9 409.3,464.2 410.2,464.4 411.1,464.6 412.0,464.8 412.8,465.0 413.6,465.3 414.3,465.5 415.0,465.7 415.7,465.9 416.4,466.2 417.0,466.4 417.6,466.6 418.1,466.8 418.6,467.0 419.1,467.3 419.5,467.5 419.9,467.7 420.2,467.9 420.6,468.2 420.8,468.4 421.1,468.6 421.3,468.8 421.4,469.0 421.6,469.3 421.6,469.5 421.7,469.7 421.7,469.9"/>
<polyline fill="none" stroke="#ff0000" points="273.7,500.4 273.7,500.7 273.8,500.9 273.9,501.1 274.1,501.3 274.3,501.6 274.5,501.8 274.8,502.0 275.1,502.2 275.4,502.4 275.8,502.7 276.2,502.9 276.7,503.1 277.2,503.3 277.7,503.6 278.3,503.8 278.9,504.0 279.5,504.2 280.2,504.4 280.9,504.7 281.7,504.9 282.4,505.1 283.3,505.3 284.1,505.6 285.0,505.8 285.9,506.0 286.9,506.2 287.8,506.5 288.9,506.7 289.9,506.9 291.0,507.1 292.1,507.3 293.2,507.6 294.4,507.8 295.6,508.0 296.8,508.2 298.0,508.5 299.3,508.7 300.6,508.9 301.9,509.1 303.3,509.3 304.6,509.6 306.0,509.8 307.4,510.0 308.9,510.2 310.3,510.5 311.8,510.7 313.3,510.9 314.8,511.1 316.3,511.3 317.9,511.6 319.4,511.8 321.0,512.0 322.6,512.2 324.2,512.5 325.8,512.7 327.5,512.9 329.1,513.1 330.7,513.4 332.4,513.6 334.1,513.8 335.7,514.0 337.4,514.2 339.1,514.5 340.8,514.7 342.5,514.9 344.2,515.1 345.9,515.4 347.6,515.6 349.3,515.8 351.0,516.0 352.6,516.2 354.3,516.5 356.0,516.7 357.7,516.9 359.4,517.1 361.1,517.4 362.7,517.6 364.4,517.8 366.0,518.0 367.7,518.3 369.3,518.5 370.9,518.7 372.5,518.9 374.1,519.1 375.7,519.4 377.3,519.6 378.8,519.8 380.3,520.0 381.9,520.3 383.3,520.5 384.8,520.7 386.3,520.9 387.7,521.1 389.1,521.4 390.5,521.6 391.9,521.8 393.3,522.0 394.6,522.3 395.9,522.5 397.2,522.7 398.4,522.9 399.6,523.1 400.8,523.4 402.0,523.6 403.1,523.8 404.2,524.0 405.3,524.3 406.4,524.5 407.4,524.7 408.4,524.9 409.3,525.2 410.3,525.4 411.1,525.6 412.0,525.8 412.8,526.0 413.6,526.3 414.4,526.5 415.1,526.7 415.8,526.9 416.4,527.2 417.0,527.4 417.6,527.6 418.1,527.8 418.6,528.0 419.1,528.3 419.5,528.5 419.9,528.7 420.3,528.9 420.6,529.2 420.9,529.4 421.1,529.6 421.3,529.8 421.4,530.0 421.6,530.3 421.6,530.5 421.7,530.7 421.7,530.9"/>
<polyline fill="none" stroke="#ff0000" points="273.7,561.4 273.7,561.7 273.8,561.9 273.9,562.1 274.1,562.3 274.3,562.6 274.5,562.8 274.8,563.0 275.1,563.2 275.4,563.4 275.8,563.7 276.2,563.9 276.7,564.1 277.2,564.3 277.7,564.6 278.3,564.8 278.9,565.0 279.6,565.2 280.2,565.4 281.0,565.7 281.7,565.9 282.5,566.1 283.3,566.3 284.2,566.6 285.0,566.8 286.0,567.0 286.9,567.2 287.9,567.5 288.9,567.7 290.0,567.9 291.0,568.1 292.1,568.3 293.3,568.6 294.4,568.8 295.6,569.0 296.9,569.2 298.1,569.5 299.4,569.7 300.7,569.9 302.0,570.1 303.3,570.3 304.7,570.6 306.1,570.8 307.5,571.0 309.0,571.2 310.4,571.5 311.9,571.7 313.4,571.9 314.9,572.1 316.4,572.4 318.0,572.6 319.5,572.8 321.1,573.0 322.7,573.2 324.3,573.5 325.9,573.7 327.5,573.9 329.2,574.1 330.8,574.4 332.5,574.6 334.2,574.8 335.8,575.0 337.5,575.2 339.2,575.5 340.9,575.7 342.6,575.9 344.3,576.1 346.0,576.4 347.7,576.6 349.3,576.8 351.0,577.0 352.7,577.2 354.4,577.5 356.1,577.7 357.8,577.9 359.5,578.1 361.2,578.4 362.8,578.6 364.5,578.8 366.1,579.0 367.8,579.3 369.4,579.5 371.0,579.7 372.6,579.9 374.2,580.1 375.8,580.4 377.3,580.6 378.9,580.8 380.4,581.0 381.9,581.3 383.4,581.5 384.9,581.7 386.4,581.9 387.8,582.1 389.2,582.4 390.6,582.6 392.0,582.8 393.3,583.0 394.7,583.3 396.0,583.5 397.2,583.7 398.5,583.9 399.7,584.1 400.9,584.4 402.1,584.6 403.2,584.8 404.3,585.0 405.4,585.3 406.4,585.5 407.4,585.7 408.4,585.9 409.4,586.2 410.3,586.4 411.2,586.6 412.0,586.8 412.9,587.0 413.7,587.3 414.4,587.5 415.1,587.7 415.8,587.9 416.4,588.2 417.1,588.4 417.6,588.6 418.2,588.8 418.7,589.0 419.1,589.3 419.6,589.5 419.9,589.7 420.3,589.9 420.6,590.2 420.9,590.4 421.1,590.6 421.3,590.8 421.5,591.1 421.6,591.3 421.6,591.5 421.7,591.7 421.7,591.9"/>
<polyline fill="none" stroke="#ff0000" points="273.7,621.5 273.8,621.8 273.8,622.0 274.0,622.2 274.1,622.4 274.3,622.7 274.6,622.9 274.8,623.1 275.2,623.3 275.5,623.6 275.9,623.8 276.3,624.0 276.8,624.2 277.3,624.4 277.9,624.7 278.4,624.9 279.0,625.1 279.7,625.3 280.4,625.6 281.1,625.8 281.9,626.0 282.6,626.2 283.5,626.4 284.3,626.7 285.2,626.9 286.1,627.1 287.1,627.3 288.1,627.6 289.1,627.8 290.2,628.0 291.2,628.2 292.4,628.4 293.5,628.7 294.7,628.9 295.9,629.1 297.1,629.3 298.3,629.6 299.6,629.8 300.9,630.0 302.2,630.2 303.6,630.4 305.0,630.7 306.4,630.9 307.8,631.1 309.2,631.3 310.7,631.6 312.2,631.8 313.7,632.0 315.2,632.2 316.7,632.5 318.2,632.7 319.8,632.9 321.4,633.1 323.0,633.3 324.6,633.6 326.2,633.8 327.8,634.0 329.5,634.2 331.1,634.5 332.8,634.7 334.4,634.9 336.1,635.1 337.8,635.3 339.5,635.6 341.2,635.8 342.9,636.0 344.5,636.2 346.2,636.5 347.9,636.7 349.6,636.9 351.3,637.1 353.0,637.3 354.7,637.6 356.4,637.8 358.1,638.0 359.8,638.2 361.4,638.5 363.1,638.7 364.7,638.9 366.4,639.1 368.0,639.3 369.6,639.6 371.3,639.8 372.9,640.0 374.5,640.2 376.0,640.5 377.6,640.7 379.1,640.9 380.7,641.1 382.2,641.4 383.7,641.6 385.1,641.8 386.6,642.0 388.0,642.2 389.4,642.5 390.8,642.7 392.2,642.9 393.5,643.1 394.8,643.4 396.1,643.6 397.4,643.8 398.7,644.0 399.9,644.2 401.1,644.5 402.2,644.7 403.4,644.9 404.5,645.1 405.5,645.4 406.6,645.6 407.6,645.8 408.6,646.0 409.5,646.2 410.4,646.5 411.3,646.7 412.2,646.9 413.0,647.1 413.8,647.4 414.5,647.6 415.2,647.8 415.9,648.0 416.5,648.2 417.1,648.5 417.7,648.7 418.2,648.9 418.7,649.1 419.2,649.4 419.6,649.6 420.0,649.8 420.3,650.0 420.6,650.3 420.9,650.5 421.1,650.7 421.3,650.9 421.5,651.1 421.6,651.4 421.7,651.6 421.7,651.8 421.7,652.0"/>
<polyline fill="none" stroke="#ff0000" points="273.7,682.5 273.8,682.7 273.8,683.0 274.0,683.2 274.1,683.4 274.3,683.6 274.5,683.8 274.8,684.1 275.1,684.3 275.5,684.5 275.9,684.7 276.3,685.0 276.8,685.2 277.3,685.4 277.8,685.6 278.4,685.9 279.0,686.1 279.6,686.3 280.3,686.5 281.0,686.7 281.8,687.0 282.6,687.2 283.4,687.4 284.2,687.6 285.1,687.9 286.0,688.1 287.0,688.3 288.0,688.5 289.0,688.7 290.0,689.0 291.1,689.2 292.2,689.4 293.4,689.6 294.5,689.9 295.7,690.1 297.0,690.3 298.2,690.5 299.5,690.7 300.8,691.0 302.1,691.2 303.4,691.4 304.8,691.6 306.2,691.9 307.6,692.1 309.1,692.3 310.5,692.5 312.0,692.7 313.5,693.0 315.0,693.2 316.5,693.4 318.1,693.6 319.6,693.9 321.2,694.1 322.8,694.3 324.4,694.5 326.0,694.8 327.6,695.0 329.3,695.2 330.9,695.4 332.6,695.6 334.3,695.9 335.9,696.1 337.6,696.3 339.3,696.5 341.0,696.8 342.7,697.0 344.4,697.2 346.0,697.4 347.7,697.6 349.4,697.9 351.1,698.1 352.8,698.3 354.5,698.5 356.2,698.8 357.9,699.0 359.6,699.2 361.2,699.4 362.9,699.6 364.6,699.9 366.2,700.1 367.8,700.3 369.5,700.5 371.1,700.8 372.7,701.0 374.3,701.2 375.8,701.4 377.4,701.6 379.0,701.9 380.5,702.1 382.0,702.3 383.5,702.5 385.0,702.8 386.4,703.0 387.9,703.2 389.3,703.4 390.7,703.7 392.0,703.9 393.4,704.1 394.7,704.3 396.0,704.5 397.3,704.8 398.5,705.0 399.7,705.2 400.9,705.4 402.1,705.7 403.2,705.9 404.3,706.1 405.4,706.3 406.5,706.5 407.5,706.8 408.5,707.0 409.4,707.2 410.3,707.4 411.2,707.7 412.1,707.9 412.9,708.1 413.7,708.3 414.4,708.5 415.1,708.8 415.8,709.0 416.5,709.2 417.1,709.4 417.6,709.7 418.2,709.9 418.7,710.1 419.1,710.3 419.6,710.5 419.9,710.8 420.3,711.0 420.6,711.2 420.9,711.4 421.1,711.7 421.3,711.9 421.5,712.1 421.6,712.3 421.6,712.6 421.7,712.8 421.7,713.0"/>
<polyline fill="none" stroke="#ff0000" points="273.7,743.5 273.7,743.7 273.8,743.9 273.9,744.1 274.1,744.4 274.3,744.6 274.5,744.8 274.8,745.0 275.1,745.3 275.4,745.5 275.8,745.7 276.2,745.9 276.7,746.1 277.2,746.4 277.7,746.6 278.3,746.8 278.9,747.0 279.5,747.3 280.2,747.5 280.9,747.7 281.7,747.9 282.5,748.2 283.3,748.4 284.1,748.6 285.0,748.8 285.9,749.0 286.9,749.3 287.9,749.5 288.9,749.7 289.9,749.9 291.0,750.2 292.1,750.4 293.2,750.6 294.4,750.8 295.6,751.0 296.8,751.3 298.1,751.5 299.3,751.7 300.6,751.9 301.9,752.2 303.3,752.4 304.7,752.6 306.0,752.8 307.5,753.0 308.9,753.3 310.3,753.5 311.8,753.7 313.3,753.9 314.8,754.2 316.4,754.4"/>
<polyline fill="none" stroke="#00b0b0" points="244.4,54.9 244.4,55.3 244.5,55.6 244.6,56.0 244.8,56.3 245.0,56.6 245.3,57.0 245.6,57.3 246.0,57.6 246.4,58.0 246.8,58.3 247.3,58.6 247.9,59.0 248.4,59.3 249.1,59.6 249.7,60.0 250.4,60.3 251.2,60.6 252.0,61.0 252.8,61.3 253.7,61.6 254.6,62.0 255.6,62.3 256.5,62.6 257.6,63.0 258.7,63.3 259.8,63.6 260.9,64.0 262.1,64.3 263.3,64.6 264.6,65.0 265.9,65.3 267.2,65.6 268.6,66.0 270.0,66.3 271.5,66.6 272.9,67.0 274.4,67.3 276.0,67.6 277.5,68.0 279.1,68.3 280.8,68.6 282.4,69.0 284.1,69.3 285.8,69.6 287.6,70.0 289.3,70.3 291.1,70.6 292.9,71.0 294.8,71.3 296.6,71.6 298.5,72.0 300.4,72.3 302.4,72.6 304.3,73.0 306.3,73.3 308.3,73.6 310.3,74.0 312.3,74.3 314.3,74.6 316.4,75.0 318.4,75.3 320.5,75.7 322.6,76.0 324.7,76.3 326.8,76.7 328.9,77.0 331.0,77.3 333.2,77.7 335.3,78.0 337.4,78.3 339.6,78.7 341.7,79.0 343.9,79.3 346.1,79.7 348.2,80.0 350.4,80.3 352.5,80.7 354.7,81.0 356.8,81.3 359.0,81.7 361.1,82.0 363.2,82.3 365.4,82.7 367.5,83.0 369.6,83.3 371.7,83.7 373.8,84.0 375.9,84.3 378.0,84.7 380.0,85.0 382.0,85.3 384.1,85.7 386.1,86.0 388.1,86.3 390.1,86.7 392.0,87.0 393.9,87.3 395.9,87.7 397.8,88.0 399.6,88.3 401.5,88.7 403.3,89.0 405.1,89.3 406.9,89.7 408.7,90.0 410.4,90.3 412.1,90.7 413.8,91.0 415.4,91.3 417.0,91.7 418.6,92.0 420.2,92.3 421.7,92.7 423.2,93.0 424.6,93.3 426.1,93.7 427.4,94.0 428.8,94.3 430.1,94.7 431.4,95.0 432.6,95.3 433.9,95.7 435.0,96.0 436.2,96.4 437.3,96.7 438.3,97.0 439.3,97.4 440.3,97.7 441.2,98.0 442.1,98.4 443.0,98.7 443.8,99.0 444.6,99.4 445.3,99.7 446.0,100.0 446.6,100.4 447.2,100.7 447.8,101.0 448.3,101.4 448.8,101.7 449.2,102.0 449.6,102.4 449.9,102.7 450.2,103.0 450.5,103.4 450.7,103.7 450.8,104.0 450.9,104.4 451.0,104.7 451.0,105.0 451.0,105.4"/>
<polyline fill="none" stroke="#00b0b0" points="244.4,155.4 244.4,155.8 244.5,156.1 244.6,156.5 244.8,156.8 245.0,157.1 245.3,157.5 245.6,157.8 245.9,158.1 246.3,158.5 246.8,158.8 247.3,159.1 247.8,159.5 248.4,159.8 249.0,160.1 249.7,160.5 250.4,160.8 251.1,161.1 251.9,161.5 252.7,161.8 253.6,162.1 254.5,162.5 255.4,162.8 256.4,163.1 257.5,163.5 258.5,163.8 259.7,164.1 260.8,164.5 262.0,164.8 263.2,165.1 264.5,165.5 265.8,165.8 267.1,166.1 268.5,166.5 269.9,166.8 271.3,167.1 272.8,167.5 274.3,167.8 275.8,168.1 277.4,168.5 279.0,168.8 280.6,169.1 282.2,169.5 283.9,169.8 285.6,170.1 287.4,170.5 289.1,170.8 290.9,171.1 292.7,171.5 294.6,171.8 296.4,172.1 298.3,172.5 300.2,172.8 302.2,173.1 304.1,173.5 306.1,173.8 308.1,174.1 310.1,174.5 312.1,174.8 314.1,175.1 316.1,175.5 318.2,175.8 320.3,176.1 322.4,176.5 324.5,176.8 326.6,177.2 328.7,177.5 330.8,177.8 332.9,178.2 335.1,178.5 337.2,178.8 339.4,179.2 341.5,179.5 343.7,179.8 345.8,180.2 348.0,180.5 350.1,180.8 352.3,181.2 354.4,181.5 356.6,181.8 358.7,182.2 360.9,182.5 363.0,182.8 365.1,183.2 367.3,183.5 369.4,183.8 371.5,184.2 373.6,184.5 375.7,184.8 377.7,185.2 379.8,185.5 381.8,185.8 383.9,186.2 385.9,186.5 387.9,186.8 389.8,187.2 391.8,187.5 393.7,187.8 395.7,188.2 397.6,188.5 399.4,188.8 401.3,189.2 403.1,189.5 404.9,189.8 406.7,190.2 408.5,190.5 410.2,190.8 411.9,191.2 413.6,191.5 415.2,191.8 416.9,192.2 418.4,192.5 420.0,192.8 421.5,193.2 423.0,193.5 424.5,193.8 425.9,194.2 427.3,194.5 428.7,194.8 430.0,195.2 431.3,195.5 432.5,195.8 433.7,196.2 434.9,196.5 436.0,196.9 437.1,197.2 438.2,197.5 439.2,197.9 440.2,198.2 441.1,198.5 442.0,198.9 442.9,199.2 443.7,199.5 444.5,199.9 445.2,200.2 445.9,200.5 446.6,200.9 447.2,201.2 447.7,201.5 448.3,201.9 448.7,202.2 449.2,202.5 449.6,202.9 449.9,203.2 450.2,203.5 450.4,203.9 450.7,204.2 450.8,204.5 450.9,204.9 451.0,205.2 451.0,205.5 451.0,205.9"/>
<polyline fill="none" stroke="#00b0b0" points="244.4,255.9 244.4,256.3 244.5,256.6 244.6,256.9 244.8,257.3 245.0,257.6 245.2,258.0 245.6,258.3 245.9,258.6 246.3,259.0 246.7,259.3 247.2,259.6 247.7,260.0 248.3,260.3 248.9,260.6 249.6,261.0 250.3,261.3 251.0,261.6 251.8,262.0 252.6,262.3 253.5,262.6 254.4,263.0 255.3,263.3 256.3,263.6 257.4,264.0 258.4,264.3 259.5,264.6 260.7,265.0 261.9,265.3 263.1,265.6 264.3,266.0 265.6,266.3 267.0,266.6 268.3,267.0 269.7,267.3 271.1,267.6 272.6,268.0 274.1,268.3 275.6,268.6 277.2,269.0 278.8,269.3 280.4,269.6 282.1,270.0 283.7,270.3 285.5,270.6 287.2,271.0 289.0,271.3 290.7,271.6 292.5,272.0 294.4,272.3 296.2,272.6 298.1,273.0 300.0,273.3 302.0,273.6 303.9,274.0 305.9,274.3 307.8,274.6 309.8,275.0 311.9,275.3 313.9,275.6 315.9,276.0 318.0,276.3 320.1,276.6 322.1,277.0 324.2,277.3 326.3,277.7 328.5,278.0 330.6,278.3 332.7,278.7 334.8,279.0 337.0,279.3 339.1,279.7 341.3,280.0 343.4,280.3 345.6,280.7 347.7,281.0 349.9,281.3 352.1,281.7 354.2,282.0 356.4,282.3 358.5,282.7 360.7,283.0 362.8,283.3 364.9,283.7 367.0,284.0 369.2,284.3 371.3,284.7 373.4,285.0 375.4,285.3 377.5,285.7 379.6,286.0 381.6,286.3 383.6,286.7 385.7,287.0 387.7,287.3 389.6,287.7 391.6,288.0 393.5,288.3 395.5,288.7 397.4,289.0 399.2,289.3 401.1,289.7 402.9,290.0 404.7,290.3 406.5,290.7 408.3,291.0 410.0,291.3 411.7,291.7 413.4,292.0 415.1,292.3 416.7,292.7 418.3,293.0 419.8,293.3 421.4,293.7 422.9,294.0 424.3,294.3 425.7,294.7 427.1,295.0 428.5,295.3 429.8,295.7 431.1,296.0 432.4,296.3 433.6,296.7 434.8,297.0 435.9,297.3 437.0,297.7 438.1,298.0 439.1,298.4 440.1,298.7 441.0,299.0 441.9,299.4 442.8,299.7 443.6,300.0 444.4,300.4 445.2,300.7 445.9,301.0 446.5,301.4 447.1,301.7 447.7,302.0 448.2,302.4 448.7,302.7 449.1,303.0 449.5,303.4 449.9,303.7 450.2,304.0 450.4,304.4 450.6,304.7 450.8,305.0 450.9,305.4 451.0,305.7 451.0,306.0 451.0,306.4"/>
<polyline fill="none" stroke="#00b0b0" points="244.4,356.4 244.4,356.8 244.5,357.1 244.6,357.4 244.8,357.8 245.0,358.1 245.2,358.5 245.5,358.8 245.9,359.1 246.3,359.5 246.7,359.8 247.2,360.1 247.7,360.5 248.2,360.8 248.9,361.1 249.5,361.5 250.2,361.8 250.9,362.1 251.7,362.5 252.5,362.8 253.4,363.1 254.3,363.5 255.2,363.8 256.2,364.1 257.2,364.5 258.3,364.8 259.4,365.1 260.6,365.5 261.7,365.8 262.9,366.1 264.2,366.5 265.5,366.8 266.8,367.1 268.2,367.5 269.6,367.8 271.0,368.1 272.5,368.5 273.9,368.8 275.5,369.1 277.0,369.5 278.6,369.8 280.2,370.1 281.9,370.5 283.6,370.8 285.3,371.1 287.0,371.5 288.8,371.8 290.5,372.1 292.4,372.5 294.2,372.8 296.0,373.1 297.9,373.5 299.8,373.8 301.7,374.1 303.7,374.5 305.6,374.8 307.6,375.1 309.6,375.5 311.6,375.8 313.7,376.1 315.7,376.5 317.8,376.8 319.8,377.1 321.9,377.5 324.0,377.8 326.1,378.1 328.2,378.5 330.3,378.8 332.5,379.2 334.6,379.5 336.8,379.8 338.9,380.2 341.1,380.5 343.2,380.8 345.4,381.2 347.5,381.5 349.7,381.8 351.8,382.2 354.0,382.5 356.1,382.8 358.3,383.2 360.4,383.5 362.6,383.8 364.7,384.2 366.8,384.5 368.9,384.8 371.0,385.2 373.1,385.5 375.2,385.8 377.3,386.2 379.3,386.5 381.4,386.8 383.4,387.2 385.4,387.5 387.4,387.8 389.4,388.2 391.4,388.5 393.3,388.8 395.3,389.2 397.2,389.5 399.0,389.8 400.9,390.2 402.7,390.5 404.6,390.8 406.3,391.2 408.1,391.5 409.8,391.8 411.5,392.2 413.2,392.5 414.9,392.8 416.5,393.2 418.1,393.5 419.7,393.8 421.2,394.2 422.7,394.5 424.2,394.8 425.6,395.2 427.0,395.5 428.4,395.8 429.7,396.2 431.0,396.5 432.2,396.8 433.5,397.2 434.7,397.5 435.8,397.8 436.9,398.2 438.0,398.5 439.0,398.9 440.0,399.2 440.9,399.5 441.9,399.9 442.7,400.2 443.5,400.5 444.3,400.9 445.1,401.2 445.8,401.5 446.4,401.9 447.1,402.2 447.6,402.5 448.2,402.9 448.6,403.2 449.1,403.5 449.5,403.9 449.8,404.2 450.1,404.5 450.4,404.9 450.6,405.2 450.8,405.5 450.9,405.9 451.0,406.2 451.0,406.5 451.0,406.9"/>
<polyline fill="none" stroke="#00b0b0" points="244.4,456.9 244.4,457.3 244.5,457.6 244.6,457.9 244.7,458.3 244.9,458.6 245.2,458.9 245.5,459.3 245.8,459.6 246.2,460.0 246.6,460.3 247.1,460.6 247.6,461.0 248.2,461.3 248.8,461.6 249.4,462.0 250.1,462.3 250.9,462.6 251.6,463.0 252.4,463.3 253.3,463.6 254.2,464.0 255.1,464.3 256.1,464.6 257.1,465.0 258.2,465.3 259.3,465.6 260.4,466.0 261.6,466.3 262.8,466.6 264.1,467.0 265.3,467.3 266.7,467.6 268.0,468.0 269.4,468.3 270.8,468.6 272.3,469.0 273.8,469.3 275.3,469.6 276.9,470.0 278.5,470.3 280.1,470.6 281.7,471.0 283.4,471.3 285.1,471.6 286.8,472.0 288.6,472.3 290.4,472.6 292.2,473.0 294.0,473.3 295.8,473.6 297.7,474.0 299.6,474.3 301.5,474.6 303.5,475.0 305.4,475.3 307.4,475.6 309.4,476.0 311.4,476.3 313.4,476.6 315.5,477.0 317.5,477.3 319.6,477.6 321.7,478.0 323.8,478.3 325.9,478.6 328.0,479.0 330.1,479.3 332.3,479.7 334.4,480.0 336.5,480.3 338.7,480.7 340.8,481.0 343.0,481.3 345.1,481.7 347.3,482.0 349.4,482.3 351.6,482.7 353.8,483.0 355.9,483.3 358.1,483.7 360.2,484.0 362.3,484.3 364.5,484.7 366.6,485.0 368.7,485.3 370.8,485.7 372.9,486.0 375.0,486.3 377.1,486.7 379.1,487.0 381.2,487.3 383.2,487.7 385.2,488.0 387.2,488.3 389.2,488.7 391.2,489.0 393.1,489.3 395.0,489.7 397.0,490.0 398.8,490.3 400.7,490.7 402.5,491.0 404.4,491.3 406.1,491.7 407.9,492.0 409.7,492.3 411.4,492.7 413.1,493.0 414.7,493.3 416.3,493.7 417.9,494.0 419.5,494.3 421.0,494.7 422.5,495.0 424.0,495.3 425.4,495.7 426.8,496.0 428.2,496.3 429.6,496.7 430.9,497.0 432.1,497.3 433.3,497.7 434.5,498.0 435.7,498.3 436.8,498.7 437.9,499.0 438.9,499.3 439.9,499.7 440.8,500.0 441.8,500.4 442.6,500.7 443.5,501.0 444.3,501.4 445.0,501.7 445.7,502.0 446.4,502.4 447.0,502.7 447.6,503.0 448.1,503.4 448.6,503.7 449.0,504.0 449.4,504.4 449.8,504.7 450.1,505.0 450.4,505.4 450.6,505.7 450.8,506.0 450.9,506.4 451.0,506.7 451.0,507.0 451.0,507.4"/>
<polyline fill="none" stroke="#00b0b0" points="244.4,557.8 244.4,558.1 244.6,558.4 244.7,558.8 244.9,559.1 245.2,559.4 245.5,559.8 245.8,560.1 246.2,560.5 246.6,560.8 247.1,561.1 247.6,561.5 248.1,561.8 248.7,562.1 249.4,562.5 250.0,562.8 250.8,563.1 251.5,563.5 252.4,563.8 253.2,564.1 254.1,564.5 255.0,564.8 256.0,565.1 257.0,565.5 258.1,565.8 259.2,566.1 260.3,566.5 261.5,566.8 262.7,567.1 263.9,567.5 265.2,567.8 266.5,568.1 267.9,568.5 269.3,568.8 270.7,569.1 272.1,569.5 273.6,569.8 275.1,570.1 276.7,570.5 278.3,570.8 279.9,571.1 281.5,571.5 283.2,571.8 284.9,572.1 286.6,572.5 288.4,572.8 290.2,573.1 292.0,573.5 293.8,573.8 295.6,574.1 297.5,574.5 299.4,574.8 301.3,575.1 303.3,575.5 305.2,575.8 307.2,576.1 309.2,576.5 311.2,576.8 313.2,577.1 315.3,577.5 317.3,577.8 319.4,578.1 321.5,578.5 323.6,578.8 325.7,579.1 327.8,579.5 329.9,579.8 332.0,580.1 334.2,580.5 336.3,580.8 338.4,581.2 340.6,581.5 342.7,581.8 344.9,582.2 347.1,582.5 349.2,582.8 351.4,583.2 353.5,583.5 355.7,583.8 357.8,584.2 360.0,584.5 362.1,584.8 364.2,585.2 366.4,585.5 368.5,585.8 370.6,586.2 372.7,586.5 374.8,586.8 376.8,587.2 378.9,587.5 381.0,587.8 383.0,588.2 385.0,588.5 387.0,588.8 389.0,589.2 391.0,589.5 392.9,589.8 394.8,590.2 396.8,590.5 398.6,590.8 400.5,591.2 402.3,591.5 404.2,591.8 406.0,592.2 407.7,592.5 409.5,592.8 411.2,593.2 412.9,593.5 414.5,593.8 416.2,594.2 417.8,594.5 419.3,594.8 420.9,595.2 422.4,595.5 423.9,595.8 425.3,596.2 426.7,596.5 428.1,596.8 429.4,597.2 430.7,597.5 432.0,597.8 433.2,598.2 434.4,598.5 435.6,598.8 436.7,599.2 437.7,599.5 438.8,599.8 439.8,600.2 440.7,600.5 441.7,600.9 442.5,601.2 443.4,601.5 444.2,601.9 444.9,602.2 445.6,602.5 446.3,602.9 446.9,603.2 447.5,603.5 448.0,603.9 448.5,604.2 449.0,604.5 449.4,604.9 449.8,605.2 450.1,605.5 450.3,605.9 450.6,606.2 450.8,606.5 450.9,606.9 451.0,607.2 451.0,607.5 451.0,607.9"/>
<polyline fill="none" stroke="#00b0b0" points="244.4,657.3 244.4,657.6 244.5,657.9 244.6,658.3 244.8,658.6 245.1,658.9 245.3,659.3 245.7,659.6 246.0,659.9 246.4,660.3 246.9,660.6 247.4,660.9 247.9,661.3 248.5,661.6 249.1,661.9 249.8,662.3 250.5,662.6 251.2,662.9 252.0,663.3 252.9,663.6 253.8,663.9 254.7,664.3 255.6,664.6 256.6,664.9 257.7,665.3 258.7,665.6 259.9,665.9 261.0,666.3 262.2,666.6 263.4,666.9 264.7,667.3 266.0,667.6 267.3,667.9 268.7,668.3 270.1,668.6 271.6,668.9 273.0,669.3 274.5,669.6 276.1,669.9 277.7,670.3 279.3,670.6 280.9,670.9 282.5,671.3 284.2,671.6 285.9,671.9 287.7,672.3 289.5,672.6 291.2,672.9 293.1,673.3 294.9,673.6 296.8,673.9 298.7,674.3 300.6,674.6 302.5,674.9 304.4,675.3 306.4,675.6 308.4,676.0 310.4,676.3 312.4,676.6 314.4,677.0 316.5,677.3 318.6,677.6 320.6,678.0 322.7,678.3 324.8,678.6 326.9,679.0 329.0,679.3 331.2,679.6 333.3,680.0 335.4,680.3 337.6,680.6 339.7,681.0 341.9,681.3 344.0,681.6 346.2,682.0 348.3,682.3 350.5,682.6 352.6,683.0 354.8,683.3 356.9,683.6 359.1,684.0 361.2,684.3 363.4,684.6 365.5,685.0 367.6,685.3 369.7,685.6 371.8,686.0 373.9,686.3 376.0,686.6 378.1,687.0 380.1,687.3 382.1,687.6 384.2,688.0 386.2,688.3 388.2,688.6 390.1,689.0 392.1,689.3 394.0,689.6 396.0,690.0 397.9,690.3 399.7,690.6 401.6,691.0 403.4,691.3 405.2,691.6 407.0,692.0 408.7,692.3 410.5,692.6 412.2,693.0 413.8,693.3 415.5,693.6 417.1,694.0 418.7,694.3 420.2,694.6 421.7,695.0 423.2,695.3 424.7,695.6 426.1,696.0 427.5,696.3 428.8,696.6 430.2,697.0 431.4,697.3 432.7,697.6 433.9,698.0 435.1,698.3 436.2,698.6 437.3,699.0 438.3,699.3 439.4,699.6 440.3,700.0 441.3,700.3 442.2,700.6 443.0,701.0 443.8,701.3 444.6,701.6 445.3,702.0 446.0,702.3 446.7,702.6 447.3,703.0 447.8,703.3 448.3,703.7 448.8,704.0 449.2,704.3 449.6,704.7 449.9,705.0 450.2,705.3 450.5,705.7 450.7,706.0 450.8,706.3 451.0,706.7 451.0,707.0 451.0,707.3 451.0,707.7"/>
<polyline fill="none" stroke="#c800d2" points="107.1,82.3 107.0,83.0 107.0,83.6 107.0,84.3 107.0,85.0 107.1,85.6 107.2,86.3 107.4,87.0 107.5,87.6 107.7,88.3 108.0,89.0 108.2,89.7 108.5,90.3 108.9,91.0 109.2,91.7 109.6,92.3 110.0,93.0 110.5,93.7 111.0,94.3 111.5,95.0 112.1,95.7 112.7,96.3 113.3,97.0 114.0,97.7 114.6,98.3 115.4,99.0 116.1,99.7 116.9,100.3 117.7,101.0 118.5,101.7 119.4,102.3 120.3,103.0 121.2,103.7 122.2,104.3 123.2,105.0 124.2,105.7 125.3,106.3 126.4,107.0 127.5,107.7 128.6,108.3 129.8,109.0 131.0,109.7 132.2,110.3 133.5,111.0 134.8,111.7 136.1,112.3 137.4,113.0 138.8,113.7 140.2,114.3 141.6,115.0 143.1,115.7 144.6,116.3 146.1,117.0 147.6,117.7 149.2,118.3 150.8,119.0 152.4,119.7 154.0,120.4 155.7,121.0 157.4,121.7 159.1,122.4 160.8,123.0 162.6,123.7 164.4,124.4 166.2,125.0 168.0,125.7 169.9,126.4 171.8,127.0 173.7,127.7 175.6,128.4 177.5,129.0 179.5,129.7 181.5,130.4 183.5,131.0 185.6,131.7 187.6,132.4 189.7,133.0 191.8,133.7 193.9,134.4 196.1,135.0 198.2,135.7 200.4,136.4 202.6,137.0 204.8,137.7 207.1,138.4 209.3,139.0 211.6,139.7 213.9,140.4 216.2,141.0 218.5,141.7 220.9,142.4 223.2,143.0 225.6,143.7 228.0,144.4 230.4,145.0 232.8,145.7 235.2,146.4 237.7,147.0 240.1,147.7 242.6,148.4 245.1,149.0 247.6,149.7 250.1,150.4 252.7,151.1 255.2,151.7 257.8,152.4 260.3,153.1 262.9,153.7 265.5,154.4 268.1,155.1 270.7,155.7 273.3,156.4 276.0,157.1 278.6,157.7 281.2,158.4 283.9,159.1 286.6,159.7 289.2,160.4 291.9,161.1 294.6,161.7 297.3,162.4 300.0,163.1 302.7,163.7 305.4,164.4 308.1,165.1 310.8,165.7 313.6,166.4 316.3,167.1 319.0,167.7 321.8,168.4 324.5,169.1 327.3,169.7 330.0,170.4 332.8,171.1 335.5,171.7 338.3,172.4 341.0,173.1 343.8,173.7 346.5,174.4 349.3,175.1 352.0,175.7 354.8,176.4 357.5,177.1 360.3,177.7 363.1,178.4 365.8,179.1 368.6,179.7 371.3,180.4 374.0,181.1 376.8,181.7 379.5,182.4 382.2,183.1 385.0,183.8 387.7,184.4 390.4,185.1 393.1,185.8 395.8,186.4 398.5,187.1 401.2,187.8 403.9,188.4 406.6,189.1 409.2,189.8 411.9,190.4 414.6,191.1 417.2,191.8 419.8,192.4 422.5,193.1 425.1,193.8 427.7,194.4 430.3,195.1 432.9,195.8 435.4,196.4 438.0,197.1 440.5,197.8 443.1,198.4 445.6,199.1 448.1,199.8 450.6,200.4 453.1,201.1 455.6,201.8 458.0,202.4 460.5,203.1 462.9,203.8 465.3,204.4 467.7,205.1 470.1,205.8 472.5,206.4 474.8,207.1 477.2,207.8 479.5,208.4 481.8,209.1 484.1,209.8 486.3,210.4 488.6,211.1 490.8,211.8 493.0,212.4 495.2,213.1 497.4,213.8 499.5,214.5 501.6,215.1 503.8,215.8 505.8,216.5 507.9,217.1 510.0,217.8 512.0,218.5 514.0,219.1 516.0,219.8 517.9,220.5 519.9,221.1 521.8,221.8 523.7,222.5 525.5,223.1 527.4,223.8 529.2,224.5 531.0,225.1 532.7,225.8 534.5,226.5 536.2,227.1 537.9,227.8 539.5,228.5 541.2,229.1 542.8,229.8 544.4,230.5 546.0,231.1 547.5,231.8 549.0,232.5 550.5,233.1 551.9,233.8 553.3,234.5 554.7,235.1 556.1,235.8 557.5,236.5 558.8,237.1 560.0,237.8 561.3,238.5 562.5,239.1 563.7,239.8 564.9,240.5 566.0,241.1 567.1,241.8 568.2,242.5 569.2,243.1 570.2,243.8 571.2,244.5 572.2,245.1 573.1,245.8 574.0,246.5 574.8,247.2 575.7,247.8 576.5,248.5 577.2,249.2 578.0,249.8 578.7,250.5 579.3,251.2 580.0,251.8 580.6,252.5 581.1,253.2 581.7,253.8 582.2,254.5 582.6,255.2 583.1,255.8 583.5,256.5 583.9,257.2 584.2,257.8 584.5,258.5 584.8,259.2 585.0,259.8 585.2,260.5 585.4,261.2 585.5,261.8 585.6,262.5 585.7,263.2 585.7,263.8 585.7,264.5 585.7,265.2 585.6,265.8"/>
<polyline fill="none" stroke="#c800d2" points="107.1,436.7 107.0,437.4 107.0,438.0 107.0,438.7 107.1,439.4 107.1,440.0 107.3,440.7 107.4,441.4 107.6,442.0 107.8,442.7 108.0,443.4 108.3,444.0 108.6,444.7 109.0,445.4 109.3,446.0 109.7,446.7 110.2,447.4 110.7,448.0 111.2,448.7 111.7,449.4 112.3,450.0 112.9,450.7 113.5,451.4 114.2,452.0 114.9,452.7 115.6,453.4 116.3,454.0 117.1,454.7 118.0,455.4 118.8,456.0 119.7,456.7 120.6,457.4 121.5,458.0 122.5,458.7 123.5,459.4 124.6,460.0 125.6,460.7 126.7,461.4 127.8,462.0 129.0,462.7 130.2,463.4 131.4,464.0 132.6,464.7 133.9,465.4 135.2,466.1 136.5,466.7 137.9,467.4 139.2,468.1 140.6,468.7 142.1,469.4 143.5,470.1 145.0,470.7 146.5,471.4 148.1,472.1 149.7,472.7 151.3,473.4 152.9,474.1 154.5,474.7 156.2,475.4 157.9,476.1 159.6,476.7 161.4,477.4 163.1,478.1 164.9,478.7 166.7,479.4 168.6,480.1 170.5,480.7 172.3,481.4 174.3,482.1 176.2,482.7 178.2,483.4 180.1,484.1 182.1,484.7 184.2,485.4 186.2,486.1 188.3,486.7 190.4,487.4 192.5,488.1 194.6,488.7 196.7,489.4 198.9,490.1 201.1,490.7 203.3,491.4 205.5,492.1 207.8,492.7 210.0,493.4 212.3,494.1 214.6,494.7 216.9,495.4 219.2,496.1 221.6,496.7 223.9,497.4 226.3,498.1 228.7,498.8 231.1,499.4 233.6,500.1 236.0,500.8 238.4,501.4 240.9,502.1 243.4,502.8 245.9,503.4 248.4,504.1 250.9,504.8 253.5,505.4 256.0,506.1 258.6,506.8 261.1,507.4 263.7,508.1 266.3,508.8 268.9,509.4 271.5,510.1 274.1,510.8 276.8,511.4 279.4,512.1 282.1,512.8 284.7,513.4 287.4,514.1 290.1,514.8 292.7,515.4 295.4,516.1 298.1,516.8 300.8,517.4 303.5,518.1 306.2,518.8 309.0,519.4 311.7,520.1 314.4,520.8 317.1,521.4 319.9,522.1 322.6,522.8 325.4,523.4 328.1,524.1 330.9,524.8 333.6,525.4 336.4,526.1 339.1,526.8 341.9,527.4 344.6,528.1 347.4,528.8 350.1,529.5 352.9,530.1 355.6,530.8 358.4,531.5 361.2,532.1 363.9,532.8 366.7,533.5 369.4,534.1 372.1,534.8 374.9,535.5 377.6,536.1 380.4,536.8 383.1,537.5 385.8,538.1 388.5,538.8 391.2,539.5 393.9,540.1 396.7,540.8 399.3,541.5 402.0,542.1 404.7,542.8 407.4,543.5 410.1,544.1 412.7,544.8 415.4,545.5 418.0,546.1 420.6,546.8 423.3,547.5 425.9,548.1 428.5,548.8 431.1,549.5 433.7,550.1 436.2,550.8 438.8,551.5 441.3,552.1 443.9,552.8 446.4,553.5 448.9,554.1 451.4,554.8 453.9,555.5 456.4,556.1 458.8,556.8 461.2,557.5 463.7,558.1 466.1,558.8 468.5,559.5 470.9,560.2 473.2,560.8 475.6,561.5 477.9,562.2 480.2,562.8 482.5,563.5 484.8,564.2 487.0,564.8 489.3,565.5 491.5,566.2 493.7,566.8 495.9,567.5 498.0,568.2 500.2,568.8 502.3,569.5 504.4,570.2 506.5,570.8 508.5,571.5 510.6,572.2 512.6,572.8 514.6,573.5 516.6,574.2 518.5,574.8 520.4,575.5 522.3,576.2 524.2,576.8 526.1,577.5 527.9,578.2 529.7,578.8 531.5,579.5 533.3,580.2 535.0,580.8 536.7,581.5 538.4,582.2 540.1,582.8 541.7,583.5 543.3,584.2 544.9,584.8 546.4,585.5 548.0,586.2 549.5,586.8 550.9,587.5 552.4,588.2 553.8,588.8 555.2,589.5 556.5,590.2 557.9,590.8 559.2,591.5 560.4,592.2 561.7,592.9 562.9,593.5 564.1,594.2 565.2,594.9 566.4,595.5 567.5,596.2 568.5,596.9 569.6,597.5 570.6,598.2 571.5,598.9 572.5,599.5 573.4,600.2 574.3,600.9 575.1,601.5 575.9,602.2 576.7,602.9 577.5,603.5 578.2,604.2 578.9,604.9 579.5,605.5 580.2,606.2 580.7,606.9 581.3,607.5 581.8,608.2 582.3,608.9 582.8,609.5 583.2,610.2 583.6,610.9 584.0,611.5 584.3,612.2 584.6,612.9 584.8,613.5 585.1,614.2 585.3,614.9 585.4,615.5 585.6,616.2 585.6,616.9"/>
<polyline fill="none" stroke="#c800d2" points="585.7,616.9 585.7,617.5 585.7,618.2 585.6,618.9 585.6,619.5"/>
</g>
<text x="52.14" y="25.16" font-family="&quot;Liberation Sans&quot;, sans-serif" font-size="16.50" fill="#000" textLength="121.40" lengthAdjust="spacingAndGlyphs" stroke="#fff" stroke-width="0.25">Saturnusmanen</text>
<text x="52.14" y="44.50" font-family="&quot;Liberation Sans&quot;, sans-serif" font-size="16.50" fill="#000" textLength="58.00" lengthAdjust="spacingAndGlyphs" stroke="#fff" stroke-width="0.25">Oktober</text>
<text x="136.48" y="44.50" font-family="&quot;Liberation Sans&quot;, sans-serif" font-size="16.50" fill="#000" textLength="38.52" lengthAdjust="spacingAndGlyphs" stroke="#fff" stroke-width="0.25">2025</text>
<text x="224.00" y="25.86" font-family="&quot;Liberation Sans&quot;, sans-serif" font-size="16.50" fill="#0000ff" textLength="48.00" lengthAdjust="spacingAndGlyphs">Thetys</text>
<text x="223.78" y="44.50" font-family="&quot;Liberation Sans&quot;, sans-serif" font-size="16.50" fill="#ff0000" textLength="42.24" lengthAdjust="spacingAndGlyphs">Dione</text>
<text x="308.94" y="25.50" font-family="&quot;Liberation Sans&quot;, sans-serif" font-size="16.50" fill="#00b0b0" textLength="37.88" lengthAdjust="spacingAndGlyphs">Rhea</text>
<text x="310.32" y="44.50" font-family="&quot;Liberation Sans&quot;, sans-serif" font-size="16.50" fill="#c800d2" textLength="37.90" lengthAdjust="spacingAndGlyphs">Titan</text>
<text x="483.30" y="41.84" font-family="&quot;Liberation Sans&quot;, sans-serif" font-size="14.60" fill="#959595" textLength="159.24" lengthAdjust="spacingAndGlyphs" stroke="#fff" stroke-width="0.25">hemel.waarnemen.com</text>
<text transform="translate(41.84,151.55) rotate(-90)" x="0" y="0" font-family="&quot;Liberation Sans&quot;, sans-serif" font-size="16.50" fill="#000" textLength="10.40" lengthAdjust="spacingAndGlyphs" stroke="#fff" stroke-width="0.25">5</text>
<text transform="translate(41.84,267.53) rotate(-90)" x="0" y="0" font-family="&quot;Liberation Sans&quot;, sans-serif" font-size="16.50" fill="#000" textLength="18.94" lengthAdjust="spacingAndGlyphs" stroke="#fff" stroke-width="0.25">10</text>
<text transform="translate(41.84,379.05) rotate(-90)" x="0" y="0" font-family="&quot;Liberation Sans&quot;, sans-serif" font-size="16.50" fill="#000" textLength="19.26" lengthAdjust="spacingAndGlyphs" stroke="#fff" stroke-width="0.25">15</text>
<text transform="translate(41.84,490.47) rotate(-90)" x="0" y="0" font-family="&quot;Liberation Sans&quot;, sans-serif" font-size="16.50" fill="#000" textLength="19.38" lengthAdjust="spacingAndGlyphs" stroke="#fff" stroke-width="0.25">20</text>
<text transform="translate(41.84,602.09) rotate(-90)" x="0" y="0" font-family="&quot;Liberation Sans&quot;, sans-serif" font-size="16.50" fill="#000" textLength="20.60" lengthAdjust="spacingAndGlyphs" stroke="#fff" stroke-width="0.25">25</text>
<text transform="translate(41.84,713.28) rotate(-90)" x="0" y="0" font-family="&quot;Liberation Sans&quot;, sans-serif" font-size="16.50" fill="#000" textLength="20.24" lengthAdjust="spacingAndGlyphs" stroke="#fff" stroke-width="0.25">30</text>
<text transform="translate(20.34,478.06) rotate(-90)" x="0" y="0" font-family="&quot;Liberation Sans&quot;, sans-serif" font-size="16.00" fill="#000" textLength="27.42" lengthAdjust="spacingAndGlyphs" stroke="#fff" stroke-width="0.25">Dag</text>
<text transform="translate(20.00,440.68) rotate(-90)" x="0" y="0" font-family="&quot;Liberation Sans&quot;, sans-serif" font-size="16.00" fill="#000" textLength="26.72" lengthAdjust="spacingAndGlyphs" stroke="#fff" stroke-width="0.25">van</text>
<text transform="translate(20.00,405.38) rotate(-90)" x="0" y="0" font-family="&quot;Liberation Sans&quot;, sans-serif" font-size="16.00" fill="#000" textLength="19.90" lengthAdjust="spacingAndGlyphs" stroke="#fff" stroke-width="0.25">de</text>
<text transform="translate(20.00,379.22) rotate(-90)" x="0" y="0" font-family="&quot;Liberation Sans&quot;, sans-serif" font-size="16.00" fill="#000" textLength="52.44" lengthAdjust="spacingAndGlyphs" stroke="#fff" stroke-width="0.25">maand</text>
<text x="94.78" y="767.66" font-family="&quot;Liberation Sans&quot;, sans-serif" font-size="16.50" fill="#000" textLength="33.06" lengthAdjust="spacingAndGlyphs" stroke="#fff" stroke-width="0.25">−20</text>
<text x="342.80" y="767.84" font-family="&quot;Liberation Sans&quot;, sans-serif" font-size="16.50" fill="#000" textLength="9.54" lengthAdjust="spacingAndGlyphs" stroke="#fff" stroke-width="0.25">0</text>
<text x="574.64" y="767.84" font-family="&quot;Liberation Sans&quot;, sans-serif" font-size="16.50" fill="#000" textLength="19.38" lengthAdjust="spacingAndGlyphs" stroke="#fff" stroke-width="0.25">20</text>
<text x="52.48" y="796.66" font-family="&quot;Liberation Sans&quot;, sans-serif" font-size="16.50" fill="#000" textLength="34.02" lengthAdjust="spacingAndGlyphs" stroke="#fff" stroke-width="0.25">Oost</text>
<text x="248.50" y="797.34" font-family="&quot;Liberation Sans&quot;, sans-serif" font-size="16.50" fill="#000" textLength="57.38" lengthAdjust="spacingAndGlyphs" stroke="#fff" stroke-width="0.25">Afstand</text>
<text x="314.98" y="797.34" font-family="&quot;Liberation Sans&quot;, sans-serif" font-size="16.50" fill="#000" textLength="19.84" lengthAdjust="spacingAndGlyphs" stroke="#fff" stroke-width="0.25">tot</text>
<text x="343.46" y="797.34" font-family="&quot;Liberation Sans&quot;, sans-serif" font-size="16.50" fill="#000" textLength="68.74" lengthAdjust="spacingAndGlyphs" stroke="#fff" stroke-width="0.25">Saturnus</text>
<text x="420.96" y="796.82" font-family="&quot;Liberation Sans&quot;, sans-serif" font-size="18.50" fill="#000" textLength="6.04" lengthAdjust="spacingAndGlyphs" stroke="#fff" stroke-width="0.25">(</text>
<text x="427.96" y="796.32" font-family="&quot;Liberation Sans&quot;, sans-serif" font-size="15.50" fill="#000" textLength="5.70" lengthAdjust="spacingAndGlyphs" stroke="#fff" stroke-width="0.25">r</text>
<text x="434.14" y="802.66" font-family="&quot;Liberation Sans&quot;, sans-serif" font-size="12.80" fill="#000" textLength="6.52" lengthAdjust="spacingAndGlyphs" stroke="#fff" stroke-width="0.25">S</text>
<text x="442.84" y="796.82" font-family="&quot;Liberation Sans&quot;, sans-serif" font-size="18.50" fill="#000" textLength="5.88" lengthAdjust="spacingAndGlyphs" stroke="#fff" stroke-width="0.25">)</text>
<text x="608.52" y="796.66" font-family="&quot;Liberation Sans&quot;, sans-serif" font-size="16.50" fill="#000" textLength="33.62" lengthAdjust="spacingAndGlyphs" stroke="#fff" stroke-width="0.25">West</text>
</svg></body></html>
